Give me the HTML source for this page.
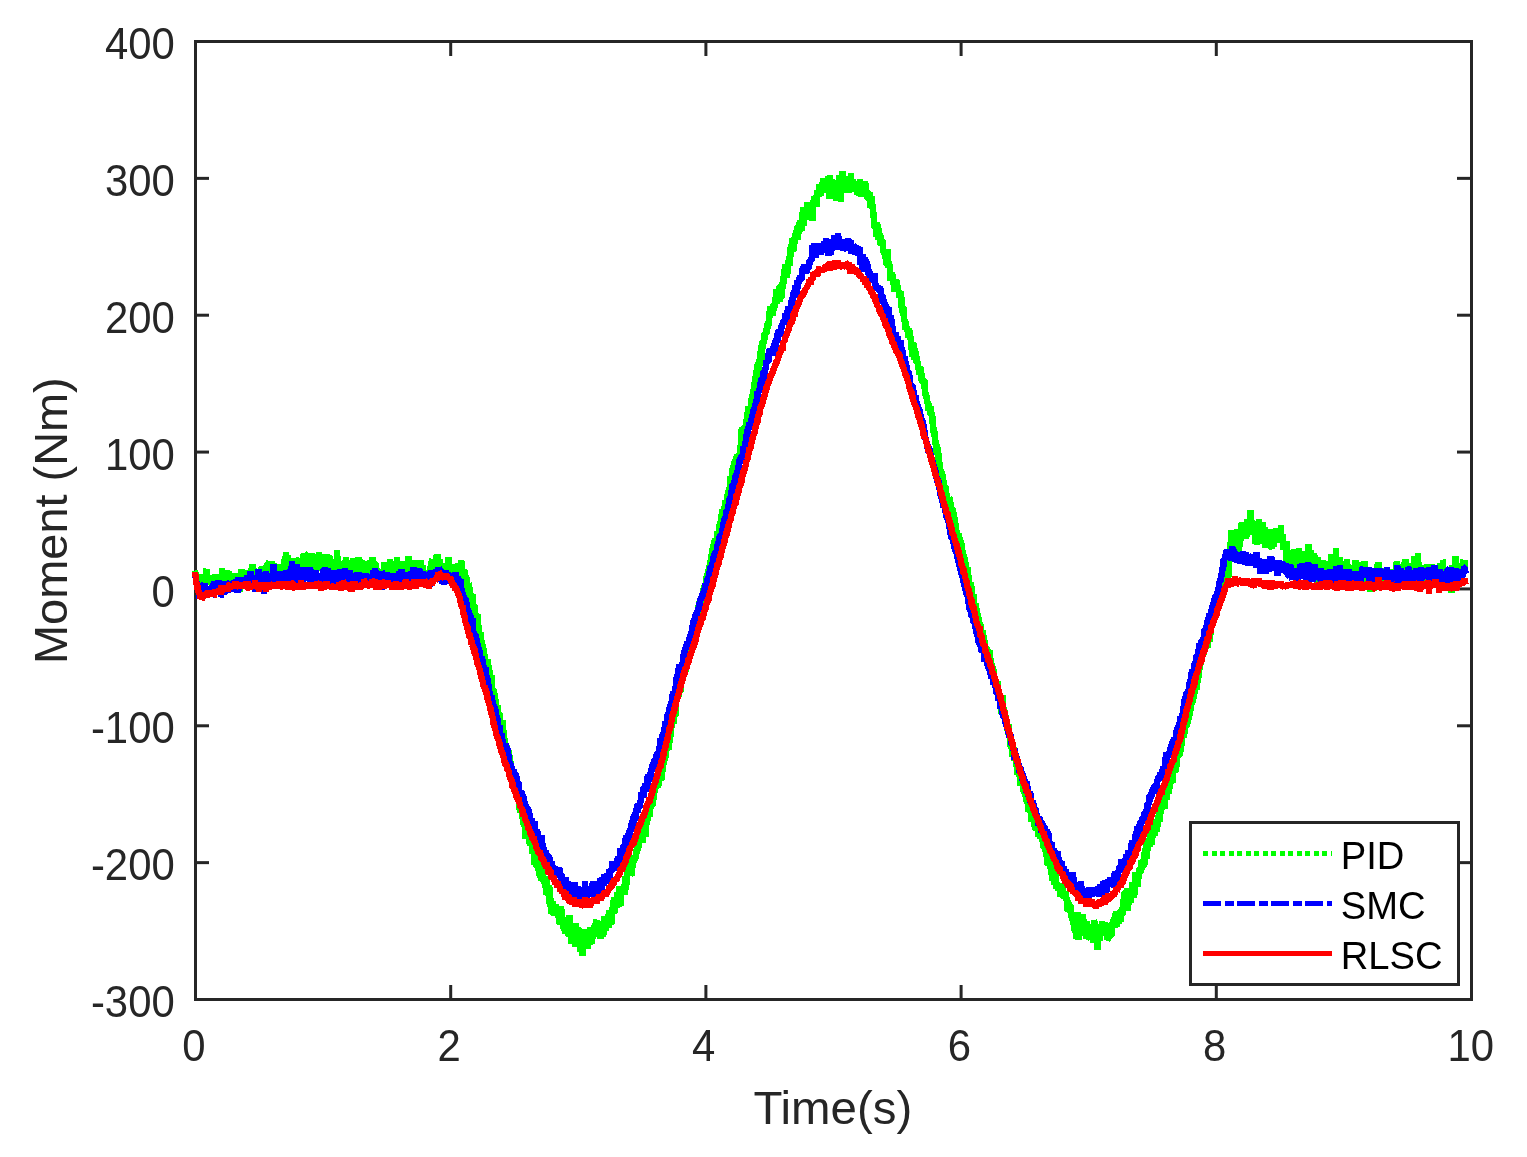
<!DOCTYPE html><html><head><meta charset="utf-8"><title>Moment tracking</title>
<style>html,body{margin:0;padding:0;background:#fff}svg{display:block}text{font-family:"Liberation Sans",Arial,Helvetica,sans-serif}</style></head><body>
<svg width="1527" height="1157" viewBox="0 0 1527 1157">
<rect width="1527" height="1157" fill="#fff"/>
<g fill="#262626" shape-rendering="crispEdges">
<rect x="194" y="40" width="1279" height="3"/><rect x="194" y="998" width="1279" height="3"/>
<rect x="194" y="40" width="3" height="961"/><rect x="1470" y="40" width="3" height="961"/>
</g><g fill="#262626">
<rect x="449.20" y="41" width="3" height="15"/><rect x="449.20" y="985" width="3" height="15"/>
<rect x="704.40" y="41" width="3" height="15"/><rect x="704.40" y="985" width="3" height="15"/>
<rect x="959.60" y="41" width="3" height="15"/><rect x="959.60" y="985" width="3" height="15"/>
<rect x="1214.80" y="41" width="3" height="15"/><rect x="1214.80" y="985" width="3" height="15"/>
<rect x="195" y="861.14" width="14" height="3"/><rect x="1457" y="861.14" width="15" height="3"/>
<rect x="195" y="724.29" width="14" height="3"/><rect x="1457" y="724.29" width="15" height="3"/>
<rect x="195" y="587.43" width="14" height="3"/><rect x="1457" y="587.43" width="15" height="3"/>
<rect x="195" y="450.57" width="14" height="3"/><rect x="1457" y="450.57" width="15" height="3"/>
<rect x="195" y="313.71" width="14" height="3"/><rect x="1457" y="313.71" width="15" height="3"/>
<rect x="195" y="176.86" width="14" height="3"/><rect x="1457" y="176.86" width="15" height="3"/>
</g>
<g fill="none" stroke-width="6.4" shape-rendering="crispEdges" stroke-linejoin="bevel" stroke-linecap="square">
<polyline stroke="#00ff00" points="195.5,573.7 195.8,575.8 196.0,576.3 196.3,577.3 196.5,580.1 196.8,578.6 197.0,581.3 197.3,584.3 197.5,582.4 197.8,582.8 198.0,586.5 198.3,583.3 198.5,584.4 198.8,582.9 199.1,583.4 199.3,581.9 199.6,581.8 199.8,586.9 200.1,581.0 200.3,579.4 200.6,578.4 200.8,576.2 201.1,578.5 201.3,575.0 201.6,576.1 201.8,580.0 202.1,580.4 202.4,574.1 202.6,576.2 202.9,584.0 203.1,582.0 203.4,575.3 203.6,578.4 203.9,584.3 204.1,577.5 204.4,575.8 204.6,577.1 204.9,579.4 205.2,579.4 205.4,580.4 205.7,580.0 205.9,577.1 206.2,569.9 206.4,569.6 206.7,578.2 206.9,582.2 207.2,577.7 207.4,578.4 207.7,578.5 207.9,583.0 208.2,578.3 208.5,580.5 208.7,578.8 209.0,584.2 209.2,579.7 209.5,583.7 209.7,582.7 210.0,582.2 210.2,582.1 210.5,582.3 210.7,582.5 211.0,582.6 211.2,582.8 211.5,582.3 211.8,581.5 212.0,574.8 212.3,577.7 212.5,582.1 212.8,584.2 213.0,576.4 213.3,579.6 213.5,578.3 213.8,575.6 214.0,584.8 214.3,580.8 214.5,578.2 214.8,574.4 215.1,578.8 215.3,578.4 215.6,578.8 215.8,578.9 216.1,578.3 216.3,580.5 216.6,580.9 216.8,579.8 217.1,576.8 217.3,575.4 217.6,578.6 217.8,579.8 218.1,575.4 218.4,577.3 218.6,576.8 218.9,579.5 219.1,580.1 219.4,577.2 219.6,578.8 219.9,574.1 220.1,580.0 220.4,576.0 220.6,576.7 220.9,579.7 221.2,577.4 221.4,579.2 221.7,577.1 221.9,577.0 222.2,568.2 222.4,579.6 222.7,574.4 222.9,577.8 223.2,575.2 223.4,577.2 223.7,578.5 223.9,571.8 224.2,572.7 224.5,581.2 224.7,576.4 225.0,577.3 225.2,581.2 225.5,575.7 225.7,574.7 226.0,576.3 226.2,575.1 226.5,571.2 226.7,578.0 227.0,572.9 227.2,569.9 227.5,585.1 227.8,576.7 228.0,571.9 228.3,575.0 228.5,577.8 228.8,571.7 229.0,573.4 229.3,581.0 229.5,573.7 229.8,577.2 230.0,576.6 230.3,581.3 230.5,576.3 230.8,577.7 231.1,581.3 231.3,579.5 231.6,574.2 231.8,573.9 232.1,583.6 232.3,577.4 232.6,579.9 232.8,580.5 233.1,578.3 233.3,574.5 233.6,577.7 233.9,582.7 234.1,579.8 234.4,578.7 234.6,576.6 234.9,580.5 235.1,579.8 235.4,579.5 235.6,578.2 235.9,586.2 236.1,575.7 236.4,578.9 236.6,579.8 236.9,583.1 237.2,578.7 237.4,572.9 237.7,580.8 237.9,584.0 238.2,577.3 238.4,578.5 238.7,578.8 238.9,583.2 239.2,576.9 239.4,576.1 239.7,591.8 239.9,577.8 240.2,575.9 240.5,581.0 240.7,584.6 241.0,577.2 241.2,570.3 241.5,575.8 241.7,569.6 242.0,575.4 242.2,576.8 242.5,578.0 242.7,570.6 243.0,579.2 243.2,576.9 243.5,576.3 243.8,574.2 244.0,575.0 244.3,580.1 244.5,579.2 244.8,570.1 245.0,575.8 245.3,576.5 245.5,578.1 245.8,576.4 246.0,580.3 246.3,574.6 246.5,575.9 246.8,579.0 247.1,576.4 247.3,580.4 247.6,581.3 247.8,576.4 248.1,579.6 248.3,581.7 248.6,573.2 248.8,578.3 249.1,575.4 249.3,571.1 249.6,579.7 249.9,575.4 250.1,570.4 250.4,574.0 250.6,573.9 250.9,572.1 251.1,572.0 251.4,571.6 251.6,568.7 251.9,569.6 252.1,563.7 252.4,569.1 252.6,564.5 252.9,570.3 253.2,565.1 253.4,572.3 253.7,568.2 253.9,572.7 254.2,568.0 254.4,577.1 254.7,576.2 254.9,572.9 255.2,577.9 255.4,569.1 255.7,575.3 255.9,572.8 256.2,571.0 256.5,572.4 256.7,577.6 257.0,580.2 257.2,581.9 257.5,579.7 257.7,579.3 258.0,579.7 258.2,574.8 258.5,581.5 258.7,582.4 259.0,575.6 259.2,569.2 259.5,579.3 259.8,575.9 260.0,575.0 260.3,570.2 260.5,570.8 260.8,575.9 261.0,570.6 261.3,573.8 261.5,570.6 261.8,566.3 262.0,582.1 262.3,578.7 262.5,578.4 262.8,577.8 263.1,572.4 263.3,572.3 263.6,565.8 263.8,567.2 264.1,571.8 264.3,573.7 264.6,570.6 264.8,571.6 265.1,575.3 265.3,570.5 265.6,575.0 265.9,572.9 266.1,572.7 266.4,574.1 266.6,573.9 266.9,570.4 267.1,570.7 267.4,575.6 267.6,563.2 267.9,563.1 268.1,563.8 268.4,565.8 268.6,571.5 268.9,575.8 269.2,576.6 269.4,580.1 269.7,574.1 269.9,579.7 270.2,571.2 270.4,570.1 270.7,573.2 270.9,573.0 271.2,570.6 271.4,567.0 271.7,570.3 271.9,560.8 272.2,572.0 272.5,571.0 272.7,570.7 273.0,569.8 273.2,568.1 273.5,566.9 273.7,571.2 274.0,562.9 274.2,578.9 274.5,569.6 274.7,570.7 275.0,577.2 275.2,577.4 275.5,570.3 275.8,565.3 276.0,568.4 276.3,570.6 276.5,571.5 276.8,572.0 277.0,571.4 277.3,566.3 277.5,564.1 277.8,566.4 278.0,572.1 278.3,566.3 278.5,564.2 278.8,577.3 279.1,567.3 279.3,571.6 279.6,568.8 279.8,575.7 280.1,575.2 280.3,570.8 280.6,573.0 280.8,572.6 281.1,574.6 281.3,568.6 281.6,566.0 281.9,575.6 282.1,569.3 282.4,572.3 282.6,568.5 282.9,564.1 283.1,568.1 283.4,569.8 283.6,573.7 283.9,562.7 284.1,559.3 284.4,576.1 284.6,563.5 284.9,566.5 285.2,571.2 285.4,555.7 285.7,560.8 285.9,552.5 286.2,566.2 286.4,564.1 286.7,568.7 286.9,560.7 287.2,569.4 287.4,562.7 287.7,555.5 287.9,558.8 288.2,556.6 288.5,560.9 288.7,558.1 289.0,562.9 289.2,569.5 289.5,561.3 289.7,564.8 290.0,569.0 290.2,571.3 290.5,559.8 290.7,574.9 291.0,571.1 291.2,564.9 291.5,563.9 291.8,565.3 292.0,573.6 292.3,559.5 292.5,564.9 292.8,571.3 293.0,558.2 293.3,564.1 293.5,572.9 293.8,577.1 294.0,564.0 294.3,566.6 294.6,562.2 294.8,563.3 295.1,568.7 295.3,562.8 295.6,564.1 295.8,571.0 296.1,562.0 296.3,565.6 296.6,568.1 296.8,565.6 297.1,571.9 297.3,571.9 297.6,568.0 297.9,572.4 298.1,559.6 298.4,566.4 298.6,564.1 298.9,558.7 299.1,560.7 299.4,557.7 299.6,573.3 299.9,560.7 300.1,571.8 300.4,570.9 300.6,568.6 300.9,568.7 301.2,568.4 301.4,565.9 301.7,558.9 301.9,577.4 302.2,572.9 302.4,571.7 302.7,562.9 302.9,563.6 303.2,561.9 303.4,554.1 303.7,564.0 303.9,571.5 304.2,561.8 304.5,554.6 304.7,553.7 305.0,564.1 305.2,562.8 305.5,561.6 305.7,560.0 306.0,563.7 306.2,565.0 306.5,554.6 306.7,554.6 307.0,562.5 307.2,565.5 307.5,565.5 307.8,568.1 308.0,568.2 308.3,562.9 308.5,564.8 308.8,559.4 309.0,563.3 309.3,565.5 309.5,562.5 309.8,573.4 310.0,558.7 310.3,562.1 310.6,554.1 310.8,564.3 311.1,563.5 311.3,568.1 311.6,553.2 311.8,562.7 312.1,558.1 312.3,566.6 312.6,562.2 312.8,570.6 313.1,569.1 313.3,567.2 313.6,570.0 313.9,561.1 314.1,560.0 314.4,558.2 314.6,568.9 314.9,566.8 315.1,563.6 315.4,559.3 315.6,568.5 315.9,562.9 316.1,555.9 316.4,560.5 316.6,561.2 316.9,565.8 317.2,561.4 317.4,556.2 317.7,554.6 317.9,568.9 318.2,558.7 318.4,562.9 318.7,566.0 318.9,551.7 319.2,558.5 319.4,568.1 319.7,568.2 319.9,562.0 320.2,570.7 320.5,564.0 320.7,560.2 321.0,569.5 321.2,561.9 321.5,560.5 321.7,566.0 322.0,560.6 322.2,559.3 322.5,560.6 322.7,566.1 323.0,558.0 323.2,564.0 323.5,560.9 323.8,561.2 324.0,561.2 324.3,570.9 324.5,554.4 324.8,556.3 325.0,557.5 325.3,554.4 325.5,559.5 325.8,558.2 326.0,555.3 326.3,569.7 326.6,562.6 326.8,562.4 327.1,561.4 327.3,563.6 327.6,565.7 327.8,561.4 328.1,559.1 328.3,561.0 328.6,557.9 328.8,560.5 329.1,555.8 329.3,555.6 329.6,566.8 329.9,568.6 330.1,567.2 330.4,565.6 330.6,560.0 330.9,561.4 331.1,563.6 331.4,568.9 331.6,568.2 331.9,567.5 332.1,565.5 332.4,582.9 332.6,567.0 332.9,566.5 333.2,573.6 333.4,562.9 333.7,566.3 333.9,566.6 334.2,578.3 334.4,565.7 334.7,568.6 334.9,568.0 335.2,580.4 335.4,576.1 335.7,569.2 335.9,573.8 336.2,559.4 336.5,571.4 336.7,561.3 337.0,563.0 337.2,550.3 337.5,564.7 337.7,557.3 338.0,567.4 338.2,571.4 338.5,564.5 338.7,560.9 339.0,571.3 339.2,563.7 339.5,566.9 339.8,570.3 340.0,569.6 340.3,570.1 340.5,574.0 340.8,569.9 341.0,568.0 341.3,573.3 341.5,582.6 341.8,565.4 342.0,571.8 342.3,565.0 342.6,572.2 342.8,565.6 343.1,568.8 343.3,569.3 343.6,568.0 343.8,566.0 344.1,576.8 344.3,560.7 344.6,561.6 344.8,564.9 345.1,574.8 345.3,561.7 345.6,565.8 345.9,557.1 346.1,567.9 346.4,566.4 346.6,560.5 346.9,577.2 347.1,568.5 347.4,567.8 347.6,579.5 347.9,573.0 348.1,567.6 348.4,567.7 348.6,561.2 348.9,565.2 349.2,577.3 349.4,566.6 349.7,569.1 349.9,570.6 350.2,576.9 350.4,561.0 350.7,561.2 350.9,568.4 351.2,573.9 351.4,575.6 351.7,575.5 351.9,564.9 352.2,578.6 352.5,563.8 352.7,571.2 353.0,568.7 353.2,566.6 353.5,558.4 353.7,567.4 354.0,572.2 354.2,568.9 354.5,569.8 354.7,569.9 355.0,569.4 355.3,574.7 355.5,567.7 355.8,576.7 356.0,563.8 356.3,571.8 356.5,576.0 356.8,566.9 357.0,567.0 357.3,570.3 357.5,578.4 357.8,577.0 358.0,566.7 358.3,556.8 358.6,566.4 358.8,565.3 359.1,563.2 359.3,570.4 359.6,559.5 359.8,568.0 360.1,564.4 360.3,569.0 360.6,571.5 360.8,569.9 361.1,571.5 361.3,569.7 361.6,560.2 361.9,567.3 362.1,572.4 362.4,568.1 362.6,573.8 362.9,565.3 363.1,567.4 363.4,573.4 363.6,571.5 363.9,570.5 364.1,575.8 364.4,576.4 364.6,571.0 364.9,574.6 365.2,570.1 365.4,565.6 365.7,571.4 365.9,567.4 366.2,561.6 366.4,573.5 366.7,564.3 366.9,576.3 367.2,578.1 367.4,571.3 367.7,572.8 367.9,579.2 368.2,564.5 368.5,566.5 368.7,575.6 369.0,571.2 369.2,569.8 369.5,575.6 369.7,567.0 370.0,575.5 370.2,577.3 370.5,560.5 370.7,571.0 371.0,571.4 371.3,568.7 371.5,571.5 371.8,556.8 372.0,565.7 372.3,563.7 372.5,563.5 372.8,557.0 373.0,580.0 373.3,564.5 373.5,567.6 373.8,567.7 374.0,561.6 374.3,564.3 374.6,576.4 374.8,566.0 375.1,568.3 375.3,562.1 375.6,579.5 375.8,565.9 376.1,569.5 376.3,567.8 376.6,570.3 376.8,584.3 377.1,571.1 377.3,576.3 377.6,581.5 377.9,573.4 378.1,579.2 378.4,570.6 378.6,573.8 378.9,585.5 379.1,575.3 379.4,578.9 379.6,578.1 379.9,577.6 380.1,570.3 380.4,578.6 380.6,571.3 380.9,581.4 381.2,571.5 381.4,579.7 381.7,580.2 381.9,574.5 382.2,580.9 382.4,570.0 382.7,582.0 382.9,568.6 383.2,572.7 383.4,576.2 383.7,572.8 383.9,574.5 384.2,562.5 384.5,571.1 384.7,576.2 385.0,570.5 385.2,574.1 385.5,572.4 385.7,575.2 386.0,575.0 386.2,567.9 386.5,572.5 386.7,568.3 387.0,574.0 387.3,572.7 387.5,574.8 387.8,565.3 388.0,563.4 388.3,572.6 388.5,567.6 388.8,580.0 389.0,579.6 389.3,569.4 389.5,582.8 389.8,559.3 390.0,568.4 390.3,565.0 390.6,574.3 390.8,580.4 391.1,577.5 391.3,577.1 391.6,567.6 391.8,577.1 392.1,575.7 392.3,563.5 392.6,578.9 392.8,576.1 393.1,566.3 393.3,561.1 393.6,583.5 393.9,588.1 394.1,579.3 394.4,574.6 394.6,575.8 394.9,578.0 395.1,580.7 395.4,568.7 395.6,575.0 395.9,575.0 396.1,570.8 396.4,563.0 396.6,569.9 396.9,557.5 397.2,573.3 397.4,568.9 397.7,584.2 397.9,576.8 398.2,574.2 398.4,578.3 398.7,579.1 398.9,577.8 399.2,579.7 399.4,576.9 399.7,573.3 399.9,571.5 400.2,578.8 400.5,573.9 400.7,576.5 401.0,566.9 401.2,562.6 401.5,570.9 401.7,569.7 402.0,573.5 402.2,569.5 402.5,573.2 402.7,579.0 403.0,565.6 403.3,560.7 403.5,569.6 403.8,572.8 404.0,570.0 404.3,563.5 404.5,574.8 404.8,568.4 405.0,571.5 405.3,584.0 405.5,574.3 405.8,568.9 406.0,569.7 406.3,571.9 406.6,577.7 406.8,569.9 407.1,570.3 407.3,568.3 407.6,561.5 407.8,570.7 408.1,565.1 408.3,568.4 408.6,556.2 408.8,568.5 409.1,557.4 409.3,576.7 409.6,578.0 409.9,568.8 410.1,572.0 410.4,564.3 410.6,566.7 410.9,566.7 411.1,575.7 411.4,571.7 411.6,566.9 411.9,574.6 412.1,571.5 412.4,565.2 412.6,572.4 412.9,571.1 413.2,566.3 413.4,570.5 413.7,580.5 413.9,572.1 414.2,572.4 414.4,570.6 414.7,560.1 414.9,566.0 415.2,570.9 415.4,575.1 415.7,566.5 416.0,569.7 416.2,563.8 416.5,569.1 416.7,565.6 417.0,575.6 417.2,572.3 417.5,571.2 417.7,575.8 418.0,569.1 418.2,573.4 418.5,573.4 418.7,574.9 419.0,571.3 419.3,579.0 419.5,564.7 419.8,567.0 420.0,565.6 420.3,561.7 420.5,566.7 420.8,569.4 421.0,560.5 421.3,569.3 421.5,566.5 421.8,579.3 422.0,571.0 422.3,568.2 422.6,565.2 422.8,566.5 423.1,564.8 423.3,573.7 423.6,574.5 423.8,571.4 424.1,577.5 424.3,576.0 424.6,574.2 424.8,586.1 425.1,584.4 425.3,574.2 425.6,580.5 425.9,573.1 426.1,579.8 426.4,582.7 426.6,573.9 426.9,578.4 427.1,575.0 427.4,580.1 427.6,580.7 427.9,577.8 428.1,579.9 428.4,576.2 428.6,580.0 428.9,572.7 429.2,570.1 429.4,571.0 429.7,578.9 429.9,565.7 430.2,579.2 430.4,568.9 430.7,568.7 430.9,564.9 431.2,571.0 431.4,569.5 431.7,560.7 432.0,560.4 432.2,570.3 432.5,566.8 432.7,569.1 433.0,577.4 433.2,559.3 433.5,567.7 433.7,564.4 434.0,563.7 434.2,571.3 434.5,560.9 434.7,568.2 435.0,571.6 435.3,563.0 435.5,563.7 435.8,567.0 436.0,564.4 436.3,555.6 436.5,559.5 436.8,562.4 437.0,564.1 437.3,553.6 437.5,564.8 437.8,572.2 438.0,556.8 438.3,565.5 438.6,573.9 438.8,570.7 439.1,571.6 439.3,576.4 439.6,570.0 439.8,569.7 440.1,559.2 440.3,568.9 440.6,572.5 440.8,571.2 441.1,570.3 441.3,566.8 441.6,565.5 441.9,583.1 442.1,580.9 442.4,573.8 442.6,563.4 442.9,575.8 443.1,567.2 443.4,576.0 443.6,575.7 443.9,574.0 444.1,565.5 444.4,575.5 444.6,572.7 444.9,571.2 445.2,568.3 445.4,573.0 445.7,568.8 445.9,564.6 446.2,569.4 446.4,574.9 446.7,572.9 446.9,570.4 447.2,572.3 447.4,575.8 447.7,574.6 448.0,572.6 448.2,578.7 448.5,557.1 448.7,565.9 449.0,572.1 449.2,573.1 449.5,564.9 449.7,576.3 450.0,575.0 450.2,566.6 450.5,571.1 450.7,567.6 451.0,570.5 451.3,571.1 451.5,573.7 451.8,569.4 452.0,570.6 452.3,570.7 452.5,573.4 452.8,567.3 453.0,571.6 453.3,569.8 453.5,576.1 453.8,577.5 454.0,568.3 454.3,573.2 454.6,573.4 454.8,568.5 455.1,564.4 455.3,569.8 455.6,569.8 455.8,566.9 456.1,566.6 456.3,568.8 456.6,575.7 456.8,567.2 457.1,572.6 457.3,563.7 457.6,572.8 457.9,570.1 458.1,571.0 458.4,570.4 458.6,563.4 458.9,571.6 459.1,567.6 459.4,570.6 459.6,571.6 459.9,568.2 460.1,569.5 460.4,571.0 460.6,573.3 460.9,569.2 461.2,560.4 461.4,571.1 461.7,569.0 461.9,572.8 462.2,561.0 462.4,575.7 462.7,573.6 462.9,578.0 463.2,570.8 463.4,572.8 463.7,572.3 464.0,574.0 464.2,569.7 464.5,570.7 464.7,572.0 465.0,584.7 465.2,580.0 465.5,577.5 465.7,575.7 466.0,587.9 466.2,575.4 466.5,580.1 466.7,577.0 467.0,586.6 467.3,586.0 467.5,587.4 467.8,586.7 468.0,587.9 468.3,591.8 468.5,582.8 468.8,585.9 469.0,591.0 469.3,595.9 469.5,586.6 469.8,598.6 470.0,596.2 470.3,597.8 470.6,597.2 470.8,594.3 471.1,594.0 471.3,596.6 471.6,602.4 471.8,595.3 472.1,596.6 472.3,598.9 472.6,594.4 472.8,606.5 473.1,606.3 473.3,607.3 473.6,607.6 473.9,604.4 474.1,606.6 474.4,609.5 474.6,605.0 474.9,609.8 475.1,612.3 475.4,613.3 475.6,616.6 475.9,614.1 476.1,617.4 476.4,616.1 476.7,615.6 476.9,616.4 477.2,620.7 477.4,614.1 477.7,625.9 477.9,621.2 478.2,624.8 478.4,625.4 478.7,629.9 478.9,631.6 479.2,628.4 479.4,637.9 479.7,633.1 480.0,639.7 480.2,641.9 480.5,636.2 480.7,639.5 481.0,631.9 481.2,645.6 481.5,640.1 481.7,641.2 482.0,642.0 482.2,645.4 482.5,650.8 482.7,644.4 483.0,646.0 483.3,648.7 483.5,650.6 483.8,648.8 484.0,651.0 484.3,653.3 484.5,659.2 484.8,654.5 485.0,661.8 485.3,658.2 485.5,663.9 485.8,662.0 486.0,659.5 486.3,664.3 486.6,660.9 486.8,666.9 487.1,660.5 487.3,667.9 487.6,659.3 487.8,666.9 488.1,670.3 488.3,674.6 488.6,672.8 488.8,665.2 489.1,677.1 489.3,678.9 489.6,673.1 489.9,670.6 490.1,677.4 490.4,680.2 490.6,679.2 490.9,680.4 491.1,676.9 491.4,675.2 491.6,683.8 491.9,687.4 492.1,689.8 492.4,693.0 492.7,688.3 492.9,694.6 493.2,687.7 493.4,692.6 493.7,695.6 493.9,689.2 494.2,701.6 494.4,693.4 494.7,697.7 494.9,698.3 495.2,700.5 495.4,705.9 495.7,700.7 496.0,699.5 496.2,712.2 496.5,705.4 496.7,707.2 497.0,708.5 497.2,706.4 497.5,709.0 497.7,710.4 498.0,705.0 498.2,713.8 498.5,712.7 498.7,714.1 499.0,717.2 499.3,718.0 499.5,712.7 499.8,723.4 500.0,712.8 500.3,730.2 500.5,735.2 500.8,730.1 501.0,733.4 501.3,724.4 501.5,727.8 501.8,733.9 502.0,730.8 502.3,731.3 502.6,720.3 502.8,730.4 503.1,730.6 503.3,730.6 503.6,733.1 503.8,735.4 504.1,740.3 504.3,738.3 504.6,739.5 504.8,747.3 505.1,743.3 505.3,749.9 505.6,752.7 505.9,747.3 506.1,745.9 506.4,745.4 506.6,752.0 506.9,756.2 507.1,754.6 507.4,752.7 507.6,752.7 507.9,751.1 508.1,754.4 508.4,750.3 508.7,758.0 508.9,754.0 509.2,754.2 509.4,755.9 509.7,756.3 509.9,763.8 510.2,756.9 510.4,763.7 510.7,763.7 510.9,768.6 511.2,764.4 511.4,769.5 511.7,772.0 512.0,768.3 512.2,775.7 512.5,772.5 512.7,774.6 513.0,774.4 513.2,777.4 513.5,783.3 513.7,778.4 514.0,778.0 514.2,772.2 514.5,772.6 514.7,777.2 515.0,777.6 515.3,793.1 515.5,785.4 515.8,788.6 516.0,782.4 516.3,783.9 516.5,785.4 516.8,786.9 517.0,789.5 517.3,793.1 517.5,796.4 517.8,792.3 518.0,796.7 518.3,793.8 518.6,801.4 518.8,801.7 519.1,804.6 519.3,799.3 519.6,806.2 519.8,813.1 520.1,807.1 520.3,807.5 520.6,805.6 520.8,808.1 521.1,802.5 521.3,807.8 521.6,806.6 521.9,806.0 522.1,808.9 522.4,811.1 522.6,819.0 522.9,816.7 523.1,820.4 523.4,817.9 523.6,824.9 523.9,821.0 524.1,827.2 524.4,823.2 524.7,822.3 524.9,823.4 525.2,831.3 525.4,824.6 525.7,838.5 525.9,831.1 526.2,838.3 526.4,832.3 526.7,837.9 526.9,833.3 527.2,836.9 527.4,828.7 527.7,825.2 528.0,831.1 528.2,830.9 528.5,833.8 528.7,837.2 529.0,838.7 529.2,843.4 529.5,842.5 529.7,835.9 530.0,841.8 530.2,838.9 530.5,845.6 530.7,832.5 531.0,837.9 531.3,845.4 531.5,838.2 531.8,845.7 532.0,844.3 532.3,851.1 532.5,853.6 532.8,846.4 533.0,850.0 533.3,850.3 533.5,850.1 533.8,854.6 534.0,857.5 534.3,854.2 534.6,864.5 534.8,856.9 535.1,853.4 535.3,860.6 535.6,852.5 535.8,863.3 536.1,867.1 536.3,860.4 536.6,864.5 536.8,861.5 537.1,867.6 537.4,863.1 537.6,865.3 537.9,865.0 538.1,862.2 538.4,870.6 538.6,868.9 538.9,864.0 539.1,864.2 539.4,867.1 539.6,875.9 539.9,870.0 540.1,872.9 540.4,872.5 540.7,878.1 540.9,880.3 541.2,865.8 541.4,866.6 541.7,877.0 541.9,872.3 542.2,871.1 542.4,874.9 542.7,870.9 542.9,876.2 543.2,882.0 543.4,879.1 543.7,876.9 544.0,884.0 544.2,877.1 544.5,876.6 544.7,879.5 545.0,880.2 545.2,883.7 545.5,881.4 545.7,887.7 546.0,895.3 546.2,887.9 546.5,879.1 546.7,882.2 547.0,892.8 547.3,889.4 547.5,892.5 547.8,895.4 548.0,891.9 548.3,887.7 548.5,892.4 548.8,894.7 549.0,904.3 549.3,885.0 549.5,901.5 549.8,897.5 550.0,895.4 550.3,899.7 550.6,898.1 550.8,913.8 551.1,908.0 551.3,908.2 551.6,911.9 551.8,913.4 552.1,902.4 552.3,912.8 552.6,901.8 552.8,903.1 553.1,909.4 553.4,915.1 553.6,912.1 553.9,913.5 554.1,914.2 554.4,915.6 554.6,912.3 554.9,914.3 555.1,913.2 555.4,913.2 555.6,907.5 555.9,903.7 556.1,913.1 556.4,913.4 556.7,913.7 556.9,908.6 557.2,910.2 557.4,913.4 557.7,915.4 557.9,912.7 558.2,910.5 558.4,917.6 558.7,913.5 558.9,924.3 559.2,918.9 559.4,913.1 559.7,923.0 560.0,922.8 560.2,914.2 560.5,924.7 560.7,917.0 561.0,906.2 561.2,915.3 561.5,909.3 561.7,911.3 562.0,923.5 562.2,921.7 562.5,919.8 562.7,917.3 563.0,917.0 563.3,921.2 563.5,923.9 563.8,931.1 564.0,921.1 564.3,929.1 564.5,921.6 564.8,920.1 565.0,933.8 565.3,916.6 565.5,927.2 565.8,921.0 566.0,922.1 566.3,918.2 566.6,922.1 566.8,920.5 567.1,924.8 567.3,933.2 567.6,930.6 567.8,926.5 568.1,925.6 568.3,929.9 568.6,934.3 568.8,936.7 569.1,929.9 569.4,915.2 569.6,931.5 569.9,934.1 570.1,928.7 570.4,928.9 570.6,932.4 570.9,943.5 571.1,937.0 571.4,937.4 571.6,931.1 571.9,937.9 572.1,936.3 572.4,941.0 572.7,938.5 572.9,924.1 573.2,931.8 573.4,934.7 573.7,941.6 573.9,943.6 574.2,931.8 574.4,936.9 574.7,932.9 574.9,933.9 575.2,934.3 575.4,947.2 575.7,928.4 576.0,922.7 576.2,931.0 576.5,931.9 576.7,929.6 577.0,932.1 577.2,940.8 577.5,933.4 577.7,931.8 578.0,927.0 578.2,938.8 578.5,936.9 578.7,936.2 579.0,934.9 579.3,928.3 579.5,936.4 579.8,937.2 580.0,947.9 580.3,933.7 580.5,951.7 580.8,935.8 581.0,937.9 581.3,942.0 581.5,948.0 581.8,938.9 582.0,943.7 582.3,933.6 582.6,955.7 582.8,938.7 583.1,952.4 583.3,936.9 583.6,938.0 583.8,930.8 584.1,940.3 584.3,938.8 584.6,944.2 584.8,934.1 585.1,930.4 585.4,932.8 585.6,936.8 585.9,933.1 586.1,929.4 586.4,931.3 586.6,943.8 586.9,936.2 587.1,938.7 587.4,949.3 587.6,931.8 587.9,933.2 588.1,940.3 588.4,932.0 588.7,933.6 588.9,937.2 589.2,933.1 589.4,936.3 589.7,939.3 589.9,931.0 590.2,945.0 590.4,927.0 590.7,936.2 590.9,940.0 591.2,935.7 591.4,943.4 591.7,941.3 592.0,928.7 592.2,935.8 592.5,938.0 592.7,937.1 593.0,930.9 593.2,930.2 593.5,935.9 593.7,927.3 594.0,932.2 594.2,930.7 594.5,925.2 594.7,932.7 595.0,936.7 595.3,928.9 595.5,923.0 595.8,928.5 596.0,921.9 596.3,919.7 596.5,927.8 596.8,926.3 597.0,927.6 597.3,923.5 597.5,924.6 597.8,926.5 598.1,920.8 598.3,926.8 598.6,928.3 598.8,934.7 599.1,931.3 599.3,925.5 599.6,929.2 599.8,932.6 600.1,934.0 600.3,938.4 600.6,937.4 600.8,927.8 601.1,932.2 601.4,931.2 601.6,924.7 601.9,932.8 602.1,932.7 602.4,922.4 602.6,925.9 602.9,936.8 603.1,928.3 603.4,932.0 603.6,930.3 603.9,928.5 604.1,935.0 604.4,929.6 604.7,916.4 604.9,926.3 605.2,927.3 605.4,919.6 605.7,930.8 605.9,924.5 606.2,916.2 606.4,921.9 606.7,919.9 606.9,922.1 607.2,918.7 607.4,916.2 607.7,920.0 608.0,918.1 608.2,917.4 608.5,928.1 608.7,914.5 609.0,910.3 609.2,915.4 609.5,918.8 609.7,922.3 610.0,919.4 610.2,912.2 610.5,914.9 610.7,925.1 611.0,913.7 611.3,923.5 611.5,922.2 611.8,918.3 612.0,913.0 612.3,915.2 612.5,907.1 612.8,908.2 613.0,900.4 613.3,913.1 613.5,904.9 613.8,901.6 614.1,896.9 614.3,913.8 614.6,905.1 614.8,913.4 615.1,902.7 615.3,907.8 615.6,903.9 615.8,900.8 616.1,901.7 616.3,907.1 616.6,903.5 616.8,891.7 617.1,908.0 617.4,902.4 617.6,906.2 617.9,899.3 618.1,905.9 618.4,898.5 618.6,906.8 618.9,897.4 619.1,885.7 619.4,901.5 619.6,898.0 619.9,890.9 620.1,900.0 620.4,905.5 620.7,902.3 620.9,893.7 621.2,889.4 621.4,894.1 621.7,894.1 621.9,889.4 622.2,894.5 622.4,887.6 622.7,886.4 622.9,893.8 623.2,885.7 623.4,887.8 623.7,890.9 624.0,889.7 624.2,884.1 624.5,893.9 624.7,894.4 625.0,881.1 625.2,876.2 625.5,882.7 625.7,878.6 626.0,889.3 626.2,886.9 626.5,882.1 626.7,879.4 627.0,875.0 627.3,876.3 627.5,873.0 627.8,872.4 628.0,867.7 628.3,864.5 628.5,864.6 628.8,861.5 629.0,868.0 629.3,869.2 629.5,875.6 629.8,874.6 630.1,863.1 630.3,864.3 630.6,865.9 630.8,867.4 631.1,871.0 631.3,874.7 631.6,867.2 631.8,865.4 632.1,875.5 632.3,858.4 632.6,867.5 632.8,862.3 633.1,858.0 633.4,855.9 633.6,863.0 633.9,856.9 634.1,856.5 634.4,859.3 634.6,857.2 634.9,861.1 635.1,855.0 635.4,858.4 635.6,855.7 635.9,853.8 636.1,849.4 636.4,853.2 636.7,852.1 636.9,851.5 637.2,836.5 637.4,849.3 637.7,844.1 637.9,851.2 638.2,843.3 638.4,848.0 638.7,844.8 638.9,839.2 639.2,834.5 639.4,840.7 639.7,838.2 640.0,839.3 640.2,841.6 640.5,839.2 640.7,835.1 641.0,838.0 641.2,839.9 641.5,839.4 641.7,834.9 642.0,838.2 642.2,833.0 642.5,843.1 642.7,833.7 643.0,840.2 643.3,836.6 643.5,826.5 643.8,830.1 644.0,835.8 644.3,834.3 644.5,827.9 644.8,826.6 645.0,829.5 645.3,825.0 645.5,828.6 645.8,837.1 646.1,819.6 646.3,825.1 646.6,819.6 646.8,821.7 647.1,820.5 647.3,821.2 647.6,812.4 647.8,810.4 648.1,807.0 648.3,807.9 648.6,807.9 648.8,810.9 649.1,807.5 649.4,805.1 649.6,816.5 649.9,810.6 650.1,806.5 650.4,802.3 650.6,800.0 650.9,799.0 651.1,808.9 651.4,805.0 651.6,806.6 651.9,806.8 652.1,804.3 652.4,801.7 652.7,797.9 652.9,805.7 653.2,798.3 653.4,799.8 653.7,788.2 653.9,785.4 654.2,792.9 654.4,793.0 654.7,786.3 654.9,783.7 655.2,790.3 655.4,787.3 655.7,784.0 656.0,788.9 656.2,778.5 656.5,784.1 656.7,783.6 657.0,787.7 657.2,777.8 657.5,787.5 657.7,784.6 658.0,783.5 658.2,781.2 658.5,785.9 658.8,782.4 659.0,776.5 659.3,778.5 659.5,777.3 659.8,773.4 660.0,775.2 660.3,772.8 660.5,776.3 660.8,779.1 661.0,768.3 661.3,780.5 661.5,778.0 661.8,775.9 662.1,761.1 662.3,768.7 662.6,763.4 662.8,772.0 663.1,768.8 663.3,762.4 663.6,764.7 663.8,761.8 664.1,759.1 664.3,760.4 664.6,759.6 664.8,758.2 665.1,758.7 665.4,755.6 665.6,751.8 665.9,757.5 666.1,751.6 666.4,747.9 666.6,750.7 666.9,748.9 667.1,740.6 667.4,742.3 667.6,737.0 667.9,737.5 668.1,744.6 668.4,744.7 668.7,741.9 668.9,736.2 669.2,750.4 669.4,736.8 669.7,731.5 669.9,734.3 670.2,732.2 670.4,733.2 670.7,737.2 670.9,726.6 671.2,730.0 671.4,726.5 671.7,727.0 672.0,718.7 672.2,722.6 672.5,721.5 672.7,721.9 673.0,723.3 673.2,718.0 673.5,714.7 673.7,717.6 674.0,724.0 674.2,717.7 674.5,706.9 674.8,714.6 675.0,710.7 675.3,716.8 675.5,710.4 675.8,709.6 676.0,701.9 676.3,700.5 676.5,699.2 676.8,696.4 677.0,700.5 677.3,691.8 677.5,697.7 677.8,692.7 678.1,688.0 678.3,696.5 678.6,692.9 678.8,694.2 679.1,692.6 679.3,691.0 679.6,691.4 679.8,690.1 680.1,686.5 680.3,692.3 680.6,688.9 680.8,686.6 681.1,688.0 681.4,680.3 681.6,681.7 681.9,682.0 682.1,682.4 682.4,679.4 682.6,673.5 682.9,678.3 683.1,669.9 683.4,670.1 683.6,670.6 683.9,677.1 684.1,673.3 684.4,666.3 684.7,670.5 684.9,671.2 685.2,670.3 685.4,665.7 685.7,672.3 685.9,661.7 686.2,663.2 686.4,666.1 686.7,659.2 686.9,669.0 687.2,662.7 687.4,656.0 687.7,650.7 688.0,658.5 688.2,658.0 688.5,652.2 688.7,650.7 689.0,652.6 689.2,652.0 689.5,643.5 689.7,651.1 690.0,652.9 690.2,648.3 690.5,641.8 690.8,643.1 691.0,644.8 691.3,647.9 691.5,643.0 691.8,632.0 692.0,638.4 692.3,635.7 692.5,643.1 692.8,637.8 693.0,637.1 693.3,628.4 693.5,633.8 693.8,632.0 694.1,632.1 694.3,638.6 694.6,624.3 694.8,633.3 695.1,627.8 695.3,629.9 695.6,625.6 695.8,624.0 696.1,623.0 696.3,615.3 696.6,622.7 696.8,618.5 697.1,614.4 697.4,616.0 697.6,614.9 697.9,605.6 698.1,608.0 698.4,611.8 698.6,606.9 698.9,609.6 699.1,604.3 699.4,609.5 699.6,601.4 699.9,602.1 700.1,601.6 700.4,602.1 700.7,600.7 700.9,603.6 701.2,599.8 701.4,597.4 701.7,596.8 701.9,600.1 702.2,594.6 702.4,599.1 702.7,596.5 702.9,595.7 703.2,594.1 703.4,591.7 703.7,588.5 704.0,586.5 704.2,587.8 704.5,590.7 704.7,585.2 705.0,583.6 705.2,588.1 705.5,588.5 705.7,584.1 706.0,576.3 706.2,581.9 706.5,580.2 706.8,576.3 707.0,580.9 707.3,579.5 707.5,575.4 707.8,571.6 708.0,574.2 708.3,574.4 708.5,576.8 708.8,566.2 709.0,573.8 709.3,565.1 709.5,569.9 709.8,563.2 710.1,560.6 710.3,567.0 710.6,561.3 710.8,559.5 711.1,556.4 711.3,559.7 711.6,553.8 711.8,556.0 712.1,558.2 712.3,550.9 712.6,548.9 712.8,551.6 713.1,551.0 713.4,547.4 713.6,543.9 713.9,551.8 714.1,544.2 714.4,540.4 714.6,548.4 714.9,543.2 715.1,543.9 715.4,542.0 715.6,538.4 715.9,546.0 716.1,541.6 716.4,543.3 716.7,539.1 716.9,531.5 717.2,539.5 717.4,536.8 717.7,536.5 717.9,532.7 718.2,534.1 718.4,534.7 718.7,534.0 718.9,531.2 719.2,533.5 719.5,536.2 719.7,524.3 720.0,526.5 720.2,527.5 720.5,524.8 720.7,520.9 721.0,524.6 721.2,520.5 721.5,520.9 721.7,514.1 722.0,524.1 722.2,519.6 722.5,509.5 722.8,516.5 723.0,514.2 723.3,514.6 723.5,517.1 723.8,509.2 724.0,506.1 724.3,506.5 724.5,510.9 724.8,507.9 725.0,500.4 725.3,505.8 725.5,507.7 725.8,501.2 726.1,504.2 726.3,508.5 726.6,504.3 726.8,497.5 727.1,499.8 727.3,498.4 727.6,494.6 727.8,497.5 728.1,498.1 728.3,491.7 728.6,492.1 728.8,488.3 729.1,489.3 729.4,488.2 729.6,489.2 729.9,482.5 730.1,476.1 730.4,485.8 730.6,477.3 730.9,478.3 731.1,482.1 731.4,482.8 731.6,476.9 731.9,478.8 732.1,477.5 732.4,477.4 732.7,468.6 732.9,479.1 733.2,471.0 733.4,464.7 733.7,469.1 733.9,461.1 734.2,467.1 734.4,465.5 734.7,462.3 734.9,466.1 735.2,462.2 735.5,459.7 735.7,463.2 736.0,458.9 736.2,456.2 736.5,463.7 736.7,459.8 737.0,457.9 737.2,461.5 737.5,455.5 737.7,454.8 738.0,460.5 738.2,457.4 738.5,459.8 738.8,457.5 739.0,454.6 739.3,455.8 739.5,453.3 739.8,453.9 740.0,446.7 740.3,445.8 740.5,449.3 740.8,442.8 741.0,433.4 741.3,442.4 741.5,433.8 741.8,427.4 742.1,436.4 742.3,431.6 742.6,441.1 742.8,427.6 743.1,429.7 743.3,428.8 743.6,430.9 743.8,427.5 744.1,426.6 744.3,427.3 744.6,429.6 744.8,428.2 745.1,426.4 745.4,426.0 745.6,426.8 745.9,427.0 746.1,421.1 746.4,422.8 746.6,419.5 746.9,421.7 747.1,421.3 747.4,417.2 747.6,415.8 747.9,406.5 748.1,414.2 748.4,409.6 748.7,411.5 748.9,411.8 749.2,413.7 749.4,409.8 749.7,409.2 749.9,415.1 750.2,406.5 750.4,408.5 750.7,412.4 750.9,408.0 751.2,400.9 751.5,398.3 751.7,400.4 752.0,393.9 752.2,394.2 752.5,401.8 752.7,399.0 753.0,392.6 753.2,396.1 753.5,393.9 753.7,389.3 754.0,390.6 754.2,391.1 754.5,392.5 754.8,378.3 755.0,389.5 755.3,384.0 755.5,376.3 755.8,379.2 756.0,380.9 756.3,380.4 756.5,370.1 756.8,370.2 757.0,379.2 757.3,375.6 757.5,367.0 757.8,362.7 758.1,370.5 758.3,363.6 758.6,372.2 758.8,371.3 759.1,368.6 759.3,360.7 759.6,360.8 759.8,357.6 760.1,365.9 760.3,351.0 760.6,357.7 760.8,344.6 761.1,353.1 761.4,360.0 761.6,351.7 761.9,353.6 762.1,342.7 762.4,346.8 762.6,341.6 762.9,348.6 763.1,347.1 763.4,342.1 763.6,340.9 763.9,343.8 764.1,336.6 764.4,332.9 764.7,338.5 764.9,338.1 765.2,337.4 765.4,332.4 765.7,334.3 765.9,331.3 766.2,328.0 766.4,333.3 766.7,332.7 766.9,332.1 767.2,323.4 767.5,328.9 767.7,326.7 768.0,326.8 768.2,320.9 768.5,321.5 768.7,326.2 769.0,315.7 769.2,316.5 769.5,311.6 769.7,313.2 770.0,314.4 770.2,317.5 770.5,308.2 770.8,305.9 771.0,314.2 771.3,310.6 771.5,307.8 771.8,309.8 772.0,307.5 772.3,310.6 772.5,311.7 772.8,303.7 773.0,315.8 773.3,305.5 773.5,310.9 773.8,306.4 774.1,309.0 774.3,304.5 774.6,306.5 774.8,301.4 775.1,307.3 775.3,304.6 775.6,299.9 775.8,296.0 776.1,301.6 776.3,289.1 776.6,298.3 776.8,293.1 777.1,304.2 777.4,300.4 777.6,300.1 777.9,300.4 778.1,301.3 778.4,295.6 778.6,297.0 778.9,286.1 779.1,293.4 779.4,291.9 779.6,302.1 779.9,286.7 780.1,286.6 780.4,298.1 780.7,298.1 780.9,296.7 781.2,286.6 781.4,297.8 781.7,295.1 781.9,296.0 782.2,286.2 782.4,282.1 782.7,288.5 782.9,277.8 783.2,280.6 783.5,283.5 783.7,276.0 784.0,271.8 784.2,270.9 784.5,273.2 784.7,269.0 785.0,274.1 785.2,271.9 785.5,264.4 785.7,272.0 786.0,274.4 786.2,275.9 786.5,272.2 786.8,277.6 787.0,273.4 787.3,273.8 787.5,268.8 787.8,273.6 788.0,267.5 788.3,266.2 788.5,261.8 788.8,259.2 789.0,255.8 789.3,262.7 789.5,266.2 789.8,255.0 790.1,255.4 790.3,257.6 790.6,250.4 790.8,243.7 791.1,249.3 791.3,251.9 791.6,247.8 791.8,251.6 792.1,237.7 792.3,252.0 792.6,250.4 792.8,240.6 793.1,245.9 793.4,250.4 793.6,240.4 793.9,239.1 794.1,251.3 794.4,240.7 794.6,238.6 794.9,233.5 795.1,239.0 795.4,237.0 795.6,239.2 795.9,235.8 796.2,230.2 796.4,234.1 796.7,239.6 796.9,236.0 797.2,225.6 797.4,239.5 797.7,235.4 797.9,234.9 798.2,224.7 798.4,233.8 798.7,231.0 798.9,228.2 799.2,224.4 799.5,223.5 799.7,231.5 800.0,231.2 800.2,232.3 800.5,219.7 800.7,225.9 801.0,223.6 801.2,223.7 801.5,230.4 801.7,230.7 802.0,227.6 802.2,212.1 802.5,222.1 802.8,217.3 803.0,224.3 803.3,206.8 803.5,218.1 803.8,225.7 804.0,220.4 804.3,216.5 804.5,213.2 804.8,220.1 805.0,215.8 805.3,217.7 805.5,217.5 805.8,220.2 806.1,216.1 806.3,212.3 806.6,216.8 806.8,217.8 807.1,202.0 807.3,210.9 807.6,209.7 807.8,218.6 808.1,205.7 808.3,218.1 808.6,204.1 808.8,207.7 809.1,211.7 809.4,212.6 809.6,208.7 809.9,212.0 810.1,218.9 810.4,205.7 810.6,218.5 810.9,211.6 811.1,213.0 811.4,202.9 811.6,217.4 811.9,204.3 812.2,205.9 812.4,221.4 812.7,212.9 812.9,208.3 813.2,209.2 813.4,202.5 813.7,199.8 813.9,196.5 814.2,205.0 814.4,197.9 814.7,201.2 814.9,197.0 815.2,199.4 815.5,198.8 815.7,200.0 816.0,195.0 816.2,196.6 816.5,202.0 816.7,207.4 817.0,191.7 817.2,192.8 817.5,196.7 817.7,190.0 818.0,195.8 818.2,195.8 818.5,196.9 818.8,187.6 819.0,184.0 819.3,193.2 819.5,194.2 819.8,184.5 820.0,184.9 820.3,185.6 820.5,195.7 820.8,186.0 821.0,186.3 821.3,188.4 821.5,184.5 821.8,188.0 822.1,185.4 822.3,187.5 822.6,188.7 822.8,178.3 823.1,187.6 823.3,184.2 823.6,182.3 823.8,192.4 824.1,188.2 824.3,191.5 824.6,187.7 824.8,193.0 825.1,181.9 825.4,186.1 825.6,192.3 825.9,183.0 826.1,190.5 826.4,192.3 826.6,181.9 826.9,183.3 827.1,186.9 827.4,178.7 827.6,179.9 827.9,181.3 828.2,176.9 828.4,180.7 828.7,175.7 828.9,180.6 829.2,181.2 829.4,198.8 829.7,186.1 829.9,174.7 830.2,188.6 830.4,187.0 830.7,189.2 830.9,197.4 831.2,185.6 831.5,179.8 831.7,181.6 832.0,192.1 832.2,196.1 832.5,194.8 832.7,189.4 833.0,194.1 833.2,187.8 833.5,190.1 833.7,197.5 834.0,196.7 834.2,185.8 834.5,185.5 834.8,190.1 835.0,182.0 835.3,190.0 835.5,191.2 835.8,189.8 836.0,186.3 836.3,201.3 836.5,187.8 836.8,187.3 837.0,192.5 837.3,191.9 837.5,180.3 837.8,189.2 838.1,188.0 838.3,181.6 838.6,193.8 838.8,174.6 839.1,192.3 839.3,192.0 839.6,196.4 839.8,192.1 840.1,194.2 840.3,191.5 840.6,194.8 840.8,201.5 841.1,181.7 841.4,183.3 841.6,183.6 841.9,183.9 842.1,183.6 842.4,190.6 842.6,171.3 842.9,189.9 843.1,193.2 843.4,175.7 843.6,188.3 843.9,185.6 844.2,190.5 844.4,186.1 844.7,181.1 844.9,181.1 845.2,188.9 845.4,177.9 845.7,185.8 845.9,189.9 846.2,177.2 846.4,180.8 846.7,184.7 846.9,188.4 847.2,181.1 847.5,187.2 847.7,189.7 848.0,183.0 848.2,184.4 848.5,191.8 848.7,177.9 849.0,192.6 849.2,187.2 849.5,180.0 849.7,181.4 850.0,176.1 850.2,177.0 850.5,192.4 850.8,172.9 851.0,182.9 851.3,180.9 851.5,185.6 851.8,188.1 852.0,180.1 852.3,182.1 852.5,184.3 852.8,189.8 853.0,179.1 853.3,186.1 853.5,185.5 853.8,188.2 854.1,186.9 854.3,181.9 854.6,181.7 854.8,180.9 855.1,185.4 855.3,185.0 855.6,191.2 855.8,185.8 856.1,187.5 856.3,188.7 856.6,184.8 856.9,184.9 857.1,189.3 857.4,194.4 857.6,187.5 857.9,186.3 858.1,185.1 858.4,191.3 858.6,193.4 858.9,196.1 859.1,186.7 859.4,189.4 859.6,183.2 859.9,193.0 860.2,178.8 860.4,186.5 860.7,186.7 860.9,185.1 861.2,182.6 861.4,183.1 861.7,197.3 861.9,191.8 862.2,188.0 862.4,188.5 862.7,190.9 862.9,196.4 863.2,190.1 863.5,193.2 863.7,192.3 864.0,185.2 864.2,190.6 864.5,187.2 864.7,181.4 865.0,182.7 865.2,193.4 865.5,192.7 865.7,197.3 866.0,182.9 866.2,189.5 866.5,192.4 866.8,191.4 867.0,197.7 867.3,190.9 867.5,199.4 867.8,192.1 868.0,196.1 868.3,198.6 868.5,196.5 868.8,200.6 869.0,200.0 869.3,194.2 869.5,192.3 869.8,197.7 870.1,194.0 870.3,208.4 870.6,200.8 870.8,202.0 871.1,204.9 871.3,201.2 871.6,196.2 871.8,204.7 872.1,203.5 872.3,203.9 872.6,205.6 872.9,213.2 873.1,218.2 873.4,211.8 873.6,214.7 873.9,222.3 874.1,213.4 874.4,225.3 874.6,227.7 874.9,223.0 875.1,229.3 875.4,224.3 875.6,224.1 875.9,226.8 876.2,224.2 876.4,231.0 876.7,236.5 876.9,223.7 877.2,224.2 877.4,225.2 877.7,231.9 877.9,229.0 878.2,233.7 878.4,228.1 878.7,239.7 878.9,233.8 879.2,237.6 879.5,232.7 879.7,235.9 880.0,244.9 880.2,238.8 880.5,242.4 880.7,236.5 881.0,235.2 881.2,244.8 881.5,238.7 881.7,246.2 882.0,245.2 882.2,243.8 882.5,240.5 882.8,245.5 883.0,246.4 883.3,253.0 883.5,252.7 883.8,250.6 884.0,253.4 884.3,254.6 884.5,254.4 884.8,249.5 885.0,251.4 885.3,251.5 885.5,255.8 885.8,260.6 886.1,262.6 886.3,257.2 886.6,262.3 886.8,266.3 887.1,259.3 887.3,248.6 887.6,258.6 887.8,258.4 888.1,260.5 888.3,260.8 888.6,268.3 888.9,262.5 889.1,261.6 889.4,265.6 889.6,266.9 889.9,269.3 890.1,267.4 890.4,276.5 890.6,280.9 890.9,275.2 891.1,273.8 891.4,271.7 891.6,278.1 891.9,274.9 892.2,276.8 892.4,274.6 892.7,281.1 892.9,277.5 893.2,278.5 893.4,284.1 893.7,284.8 893.9,287.2 894.2,289.3 894.4,289.3 894.7,291.4 894.9,283.7 895.2,284.8 895.5,286.9 895.7,285.4 896.0,285.4 896.2,279.4 896.5,281.7 896.7,286.6 897.0,282.3 897.2,292.1 897.5,287.3 897.7,288.8 898.0,284.9 898.2,289.3 898.5,291.0 898.8,291.2 899.0,295.1 899.3,296.0 899.5,296.3 899.8,292.2 900.0,294.2 900.3,293.8 900.5,291.2 900.8,295.6 901.0,308.1 901.3,304.5 901.5,296.9 901.8,303.4 902.1,303.3 902.3,305.3 902.6,313.2 902.8,306.9 903.1,310.7 903.3,315.5 903.6,311.4 903.8,307.3 904.1,316.4 904.3,322.3 904.6,319.2 904.9,323.3 905.1,330.4 905.4,323.8 905.6,321.2 905.9,327.7 906.1,325.5 906.4,326.7 906.6,329.0 906.9,329.7 907.1,330.1 907.4,331.0 907.6,331.6 907.9,330.3 908.2,335.4 908.4,337.7 908.7,333.0 908.9,338.3 909.2,327.9 909.4,338.0 909.7,330.1 909.9,337.5 910.2,338.0 910.4,336.3 910.7,338.9 910.9,342.1 911.2,344.3 911.5,347.7 911.7,349.3 912.0,343.5 912.2,357.4 912.5,342.3 912.7,346.0 913.0,351.3 913.2,343.7 913.5,343.5 913.7,346.4 914.0,360.2 914.2,358.5 914.5,348.4 914.8,355.8 915.0,349.9 915.3,353.7 915.5,351.5 915.8,355.2 916.0,354.8 916.3,362.6 916.5,357.5 916.8,362.2 917.0,356.3 917.3,364.1 917.6,361.4 917.8,362.1 918.1,366.0 918.3,369.7 918.6,367.2 918.8,369.1 919.1,366.2 919.3,373.1 919.6,374.3 919.8,368.0 920.1,370.3 920.3,367.6 920.6,368.0 920.9,381.0 921.1,374.2 921.4,375.7 921.6,377.3 921.9,375.4 922.1,373.0 922.4,381.8 922.6,382.4 922.9,380.1 923.1,380.3 923.4,383.7 923.6,380.4 923.9,378.9 924.2,386.4 924.4,380.3 924.7,388.6 924.9,382.3 925.2,391.6 925.4,392.7 925.7,396.0 925.9,393.8 926.2,394.4 926.4,396.5 926.7,398.9 926.9,400.0 927.2,402.1 927.5,402.5 927.7,401.5 928.0,405.0 928.2,403.5 928.5,408.7 928.7,410.4 929.0,403.5 929.2,409.4 929.5,406.6 929.7,411.0 930.0,413.7 930.2,413.8 930.5,413.0 930.8,406.2 931.0,414.4 931.3,412.2 931.5,415.8 931.8,415.6 932.0,422.1 932.3,415.8 932.5,420.7 932.8,425.1 933.0,422.4 933.3,432.4 933.6,431.4 933.8,429.6 934.1,427.3 934.3,436.7 934.6,430.7 934.8,434.9 935.1,444.0 935.3,440.6 935.6,440.1 935.8,448.8 936.1,441.5 936.3,453.3 936.6,444.2 936.9,446.0 937.1,444.9 937.4,448.7 937.6,451.8 937.9,459.5 938.1,449.3 938.4,454.7 938.6,455.6 938.9,462.2 939.1,469.8 939.4,462.2 939.6,468.7 939.9,467.5 940.2,466.9 940.4,474.4 940.7,469.5 940.9,474.7 941.2,475.2 941.4,471.5 941.7,479.8 941.9,477.8 942.2,477.5 942.4,474.3 942.7,479.1 942.9,477.9 943.2,485.2 943.5,487.9 943.7,484.5 944.0,479.9 944.2,484.6 944.5,488.8 944.7,490.5 945.0,484.9 945.2,488.2 945.5,495.9 945.7,498.5 946.0,486.2 946.2,493.0 946.5,494.3 946.8,494.0 947.0,496.4 947.3,497.3 947.5,497.9 947.8,504.9 948.0,500.3 948.3,501.5 948.5,497.4 948.8,498.4 949.0,503.4 949.3,503.1 949.6,503.0 949.8,497.6 950.1,501.3 950.3,507.8 950.6,501.6 950.8,510.0 951.1,504.0 951.3,508.0 951.6,513.1 951.8,511.7 952.1,512.0 952.3,508.7 952.6,508.7 952.9,519.4 953.1,516.4 953.4,512.5 953.6,515.5 953.9,516.6 954.1,517.2 954.4,517.9 954.6,517.2 954.9,523.9 955.1,530.8 955.4,523.3 955.6,528.0 955.9,532.2 956.2,528.0 956.4,531.6 956.7,530.7 956.9,538.0 957.2,531.1 957.4,533.8 957.7,534.0 957.9,537.8 958.2,538.7 958.4,534.0 958.7,535.5 958.9,538.6 959.2,542.0 959.5,537.3 959.7,541.0 960.0,537.7 960.2,543.1 960.5,541.2 960.7,541.6 961.0,545.3 961.2,543.2 961.5,550.1 961.7,543.2 962.0,549.4 962.2,550.5 962.5,550.9 962.8,552.8 963.0,555.1 963.3,553.8 963.5,557.4 963.8,557.7 964.0,557.7 964.3,560.0 964.5,563.1 964.8,559.7 965.0,557.5 965.3,565.6 965.6,562.1 965.8,567.4 966.1,566.9 966.3,570.1 966.6,569.6 966.8,571.2 967.1,570.4 967.3,572.3 967.6,566.7 967.8,576.6 968.1,574.1 968.3,575.0 968.6,583.5 968.9,584.8 969.1,578.9 969.4,585.7 969.6,584.4 969.9,591.9 970.1,588.4 970.4,586.9 970.6,583.8 970.9,582.2 971.1,590.8 971.4,585.9 971.6,591.3 971.9,593.2 972.2,594.6 972.4,596.0 972.7,601.1 972.9,598.1 973.2,602.4 973.4,599.4 973.7,593.7 973.9,606.8 974.2,598.9 974.4,608.1 974.7,606.4 974.9,603.1 975.2,605.4 975.5,604.3 975.7,604.9 976.0,610.6 976.2,612.1 976.5,609.4 976.7,610.8 977.0,608.3 977.2,621.3 977.5,612.9 977.7,615.7 978.0,619.2 978.3,621.6 978.5,622.5 978.8,623.5 979.0,617.2 979.3,623.0 979.5,624.9 979.8,624.9 980.0,624.1 980.3,624.3 980.5,627.7 980.8,629.5 981.0,632.3 981.3,631.2 981.6,632.4 981.8,634.8 982.1,634.6 982.3,630.4 982.6,632.7 982.8,635.5 983.1,633.4 983.3,637.6 983.6,635.3 983.8,640.0 984.1,636.3 984.3,640.4 984.6,644.4 984.9,648.5 985.1,645.4 985.4,646.4 985.6,651.5 985.9,649.6 986.1,651.9 986.4,650.1 986.6,656.0 986.9,652.6 987.1,646.9 987.4,650.6 987.6,654.4 987.9,649.9 988.2,656.7 988.4,653.2 988.7,655.3 988.9,658.1 989.2,655.5 989.4,649.9 989.7,661.1 989.9,661.7 990.2,653.8 990.4,662.3 990.7,661.3 990.9,663.7 991.2,665.9 991.5,663.0 991.7,669.3 992.0,670.4 992.2,668.9 992.5,667.6 992.7,666.0 993.0,672.3 993.2,670.3 993.5,669.6 993.7,673.7 994.0,673.5 994.3,678.0 994.5,684.0 994.8,677.2 995.0,684.4 995.3,679.3 995.5,684.5 995.8,686.3 996.0,683.4 996.3,687.9 996.5,684.0 996.8,685.6 997.0,686.4 997.3,681.4 997.6,685.1 997.8,690.3 998.1,688.3 998.3,691.3 998.6,695.5 998.8,700.7 999.1,700.2 999.3,692.5 999.6,700.4 999.8,699.9 1000.1,697.0 1000.3,706.0 1000.6,700.5 1000.9,713.5 1001.1,708.6 1001.4,712.7 1001.6,705.3 1001.9,705.3 1002.1,708.0 1002.4,707.7 1002.6,695.3 1002.9,704.2 1003.1,704.0 1003.4,709.5 1003.6,709.9 1003.9,707.4 1004.2,710.2 1004.4,710.9 1004.7,712.8 1004.9,719.5 1005.2,714.0 1005.4,716.4 1005.7,717.1 1005.9,718.3 1006.2,715.8 1006.4,725.0 1006.7,724.4 1006.9,721.8 1007.2,729.1 1007.5,724.8 1007.7,731.3 1008.0,731.8 1008.2,734.7 1008.5,731.9 1008.7,724.9 1009.0,726.8 1009.2,734.2 1009.5,733.5 1009.7,732.3 1010.0,741.5 1010.3,740.6 1010.5,741.3 1010.8,748.9 1011.0,746.6 1011.3,747.4 1011.5,747.6 1011.8,748.0 1012.0,756.7 1012.3,747.5 1012.5,751.9 1012.8,749.0 1013.0,749.5 1013.3,753.4 1013.6,746.9 1013.8,760.6 1014.1,755.2 1014.3,755.9 1014.6,751.8 1014.8,758.8 1015.1,757.6 1015.3,760.1 1015.6,753.9 1015.8,763.5 1016.1,766.2 1016.3,765.6 1016.6,763.0 1016.9,759.8 1017.1,774.8 1017.4,771.0 1017.6,761.1 1017.9,768.9 1018.1,770.9 1018.4,771.1 1018.6,773.8 1018.9,775.6 1019.1,772.1 1019.4,776.5 1019.6,768.2 1019.9,785.9 1020.2,775.3 1020.4,781.0 1020.7,772.4 1020.9,783.3 1021.2,778.1 1021.4,774.4 1021.7,779.4 1021.9,785.0 1022.2,783.8 1022.4,782.9 1022.7,778.8 1022.9,785.1 1023.2,784.3 1023.5,792.2 1023.7,788.7 1024.0,784.8 1024.2,791.7 1024.5,793.2 1024.7,793.5 1025.0,788.0 1025.2,791.0 1025.5,792.0 1025.7,797.2 1026.0,802.1 1026.3,791.4 1026.5,798.2 1026.8,793.6 1027.0,795.7 1027.3,801.1 1027.5,804.1 1027.8,796.8 1028.0,809.9 1028.3,811.4 1028.5,796.1 1028.8,806.5 1029.0,803.1 1029.3,800.6 1029.6,797.6 1029.8,811.1 1030.1,808.7 1030.3,805.4 1030.6,810.4 1030.8,814.9 1031.1,809.2 1031.3,821.5 1031.6,811.4 1031.8,816.6 1032.1,817.1 1032.3,821.0 1032.6,820.0 1032.9,815.4 1033.1,819.6 1033.4,817.0 1033.6,819.8 1033.9,824.5 1034.1,824.9 1034.4,823.9 1034.6,826.8 1034.9,819.3 1035.1,830.3 1035.4,818.2 1035.6,828.1 1035.9,828.6 1036.2,825.3 1036.4,830.6 1036.7,818.5 1036.9,819.4 1037.2,820.7 1037.4,820.0 1037.7,822.8 1037.9,836.8 1038.2,827.3 1038.4,833.9 1038.7,827.6 1039.0,833.1 1039.2,834.3 1039.5,836.6 1039.7,830.6 1040.0,828.8 1040.2,838.7 1040.5,832.7 1040.7,832.9 1041.0,836.1 1041.2,837.6 1041.5,832.7 1041.7,833.0 1042.0,836.4 1042.3,837.3 1042.5,837.6 1042.8,843.9 1043.0,842.7 1043.3,843.1 1043.5,848.1 1043.8,841.3 1044.0,837.2 1044.3,837.1 1044.5,847.3 1044.8,849.2 1045.0,851.7 1045.3,846.4 1045.6,850.6 1045.8,846.1 1046.1,856.6 1046.3,852.0 1046.6,856.1 1046.8,853.3 1047.1,856.7 1047.3,864.8 1047.6,854.1 1047.8,858.4 1048.1,858.9 1048.3,860.8 1048.6,865.6 1048.9,862.2 1049.1,859.9 1049.4,856.9 1049.6,863.8 1049.9,867.7 1050.1,860.4 1050.4,867.1 1050.6,868.1 1050.9,867.7 1051.1,865.7 1051.4,874.8 1051.6,869.6 1051.9,870.9 1052.2,873.5 1052.4,865.1 1052.7,880.6 1052.9,874.3 1053.2,873.6 1053.4,874.0 1053.7,868.6 1053.9,884.8 1054.2,877.3 1054.4,880.5 1054.7,883.6 1055.0,880.9 1055.2,877.3 1055.5,881.4 1055.7,872.5 1056.0,889.0 1056.2,881.7 1056.5,882.7 1056.7,884.3 1057.0,882.5 1057.2,886.8 1057.5,883.3 1057.7,886.7 1058.0,888.0 1058.3,890.2 1058.5,888.6 1058.8,884.2 1059.0,890.7 1059.3,885.9 1059.5,890.8 1059.8,890.6 1060.0,885.6 1060.3,897.4 1060.5,892.9 1060.8,888.6 1061.0,889.9 1061.3,890.3 1061.6,885.1 1061.8,893.2 1062.1,890.4 1062.3,883.1 1062.6,896.5 1062.8,889.0 1063.1,889.2 1063.3,891.2 1063.6,891.5 1063.8,898.4 1064.1,895.2 1064.3,897.5 1064.6,896.4 1064.9,898.3 1065.1,891.6 1065.4,896.1 1065.6,891.6 1065.9,897.3 1066.1,900.7 1066.4,899.7 1066.6,897.2 1066.9,907.3 1067.1,910.9 1067.4,910.7 1067.6,900.6 1067.9,906.5 1068.2,906.8 1068.4,905.3 1068.7,902.3 1068.9,908.1 1069.2,910.3 1069.4,909.5 1069.7,903.9 1069.9,909.2 1070.2,906.3 1070.4,904.8 1070.7,911.2 1071.0,914.4 1071.2,917.2 1071.5,914.8 1071.7,918.2 1072.0,913.2 1072.2,921.4 1072.5,915.4 1072.7,919.2 1073.0,914.8 1073.2,925.0 1073.5,920.6 1073.7,918.7 1074.0,930.6 1074.3,922.4 1074.5,927.3 1074.8,929.5 1075.0,932.5 1075.3,924.8 1075.5,927.4 1075.8,926.1 1076.0,920.5 1076.3,938.5 1076.5,919.3 1076.8,912.2 1077.0,923.4 1077.3,925.3 1077.6,924.2 1077.8,919.8 1078.1,912.5 1078.3,928.7 1078.6,939.7 1078.8,923.2 1079.1,925.1 1079.3,925.4 1079.6,925.6 1079.8,934.8 1080.1,921.8 1080.3,926.4 1080.6,921.2 1080.9,924.6 1081.1,926.5 1081.4,931.2 1081.6,914.9 1081.9,922.5 1082.1,920.3 1082.4,914.5 1082.6,920.4 1082.9,922.5 1083.1,936.3 1083.4,919.4 1083.6,921.1 1083.9,931.9 1084.2,934.6 1084.4,925.7 1084.7,929.2 1084.9,921.4 1085.2,936.1 1085.4,929.8 1085.7,926.2 1085.9,927.7 1086.2,937.2 1086.4,938.6 1086.7,934.1 1087.0,921.2 1087.2,936.8 1087.5,935.7 1087.7,929.1 1088.0,931.6 1088.2,927.2 1088.5,937.9 1088.7,937.9 1089.0,930.3 1089.2,935.7 1089.5,934.3 1089.7,939.4 1090.0,938.0 1090.3,938.0 1090.5,937.2 1090.8,937.6 1091.0,935.5 1091.3,935.4 1091.5,927.8 1091.8,924.1 1092.0,934.7 1092.3,924.4 1092.5,929.3 1092.8,942.9 1093.0,929.3 1093.3,937.6 1093.6,923.8 1093.8,931.6 1094.1,920.4 1094.3,921.0 1094.6,931.1 1094.8,934.0 1095.1,923.9 1095.3,934.8 1095.6,931.5 1095.8,926.8 1096.1,933.5 1096.3,930.1 1096.6,924.5 1096.9,933.4 1097.1,932.0 1097.4,939.1 1097.6,950.1 1097.9,935.1 1098.1,935.5 1098.4,932.6 1098.6,935.0 1098.9,938.2 1099.1,938.0 1099.4,934.1 1099.7,938.7 1099.9,940.7 1100.2,932.0 1100.4,933.4 1100.7,930.3 1100.9,935.6 1101.2,932.9 1101.4,936.1 1101.7,932.9 1101.9,926.1 1102.2,921.2 1102.4,931.2 1102.7,927.3 1103.0,932.7 1103.2,936.1 1103.5,931.1 1103.7,929.4 1104.0,929.7 1104.2,932.2 1104.5,927.2 1104.7,922.1 1105.0,930.1 1105.2,925.1 1105.5,924.7 1105.7,922.9 1106.0,925.6 1106.3,924.6 1106.5,930.2 1106.8,937.8 1107.0,937.8 1107.3,935.9 1107.5,939.6 1107.8,939.3 1108.0,936.8 1108.3,936.0 1108.5,937.5 1108.8,933.0 1109.0,924.5 1109.3,938.2 1109.6,935.5 1109.8,937.7 1110.1,925.9 1110.3,926.6 1110.6,936.7 1110.8,927.3 1111.1,935.7 1111.3,926.9 1111.6,928.4 1111.8,927.7 1112.1,935.6 1112.3,925.3 1112.6,924.6 1112.9,918.9 1113.1,924.1 1113.4,924.6 1113.6,927.4 1113.9,921.0 1114.1,919.1 1114.4,918.6 1114.6,917.5 1114.9,922.2 1115.1,927.9 1115.4,920.3 1115.7,913.6 1115.9,914.4 1116.2,923.4 1116.4,910.7 1116.7,914.3 1116.9,917.6 1117.2,926.5 1117.4,918.9 1117.7,917.4 1117.9,911.5 1118.2,923.7 1118.4,922.9 1118.7,915.4 1119.0,914.9 1119.2,915.2 1119.5,920.8 1119.7,920.8 1120.0,916.2 1120.2,914.8 1120.5,912.4 1120.7,919.1 1121.0,922.1 1121.2,909.2 1121.5,914.2 1121.7,913.4 1122.0,907.1 1122.3,916.4 1122.5,908.4 1122.8,908.3 1123.0,903.0 1123.3,903.9 1123.5,899.4 1123.8,907.0 1124.0,901.5 1124.3,902.5 1124.5,892.8 1124.8,891.6 1125.0,896.8 1125.3,894.1 1125.6,898.1 1125.8,900.1 1126.1,891.4 1126.3,898.2 1126.6,892.4 1126.8,888.3 1127.1,905.1 1127.3,897.5 1127.6,901.5 1127.8,898.5 1128.1,911.0 1128.3,898.1 1128.6,904.5 1128.9,899.1 1129.1,897.9 1129.4,895.7 1129.6,898.7 1129.9,897.0 1130.1,899.0 1130.4,903.3 1130.6,898.1 1130.9,896.6 1131.1,894.8 1131.4,891.8 1131.7,890.9 1131.9,886.7 1132.2,882.2 1132.4,894.9 1132.7,889.5 1132.9,888.0 1133.2,890.6 1133.4,885.9 1133.7,898.3 1133.9,885.1 1134.2,888.3 1134.4,894.6 1134.7,886.5 1135.0,875.7 1135.2,883.7 1135.5,873.7 1135.7,872.7 1136.0,880.9 1136.2,883.4 1136.5,878.7 1136.7,874.9 1137.0,873.2 1137.2,879.1 1137.5,884.2 1137.7,873.3 1138.0,887.1 1138.3,879.3 1138.5,876.9 1138.8,873.7 1139.0,877.2 1139.3,872.8 1139.5,868.4 1139.8,871.2 1140.0,874.3 1140.3,866.7 1140.5,868.7 1140.8,872.8 1141.0,871.1 1141.3,859.8 1141.6,868.6 1141.8,865.4 1142.1,869.8 1142.3,867.9 1142.6,866.8 1142.8,867.9 1143.1,861.5 1143.3,859.3 1143.6,859.3 1143.8,863.2 1144.1,862.4 1144.3,866.6 1144.6,851.7 1144.9,856.2 1145.1,858.5 1145.4,857.0 1145.6,847.7 1145.9,851.3 1146.1,846.1 1146.4,847.4 1146.6,843.7 1146.9,846.0 1147.1,858.5 1147.4,840.1 1147.7,850.6 1147.9,838.0 1148.2,843.0 1148.4,846.1 1148.7,844.2 1148.9,844.8 1149.2,839.2 1149.4,838.3 1149.7,845.7 1149.9,847.3 1150.2,833.9 1150.4,837.3 1150.7,843.6 1151.0,833.0 1151.2,831.5 1151.5,833.8 1151.7,832.6 1152.0,835.7 1152.2,844.6 1152.5,828.2 1152.7,833.6 1153.0,821.1 1153.2,830.8 1153.5,826.5 1153.7,831.9 1154.0,834.5 1154.3,830.3 1154.5,819.2 1154.8,828.0 1155.0,836.3 1155.3,823.5 1155.5,822.5 1155.8,830.6 1156.0,826.3 1156.3,826.4 1156.5,829.3 1156.8,825.4 1157.0,831.9 1157.3,822.8 1157.6,819.2 1157.8,826.4 1158.1,819.6 1158.3,818.2 1158.6,818.1 1158.8,813.2 1159.1,817.9 1159.3,819.9 1159.6,812.1 1159.8,812.0 1160.1,822.0 1160.4,811.4 1160.6,813.3 1160.9,810.8 1161.1,807.9 1161.4,801.1 1161.6,805.2 1161.9,809.1 1162.1,808.4 1162.4,805.0 1162.6,804.0 1162.9,794.3 1163.1,809.1 1163.4,806.8 1163.7,799.7 1163.9,804.5 1164.2,801.7 1164.4,808.3 1164.7,807.6 1164.9,797.5 1165.2,803.6 1165.4,795.7 1165.7,799.8 1165.9,796.2 1166.2,792.3 1166.4,799.3 1166.7,798.4 1167.0,789.6 1167.2,793.1 1167.5,792.7 1167.7,787.5 1168.0,793.8 1168.2,789.1 1168.5,792.9 1168.7,792.0 1169.0,783.2 1169.2,780.1 1169.5,783.5 1169.7,789.3 1170.0,783.5 1170.3,781.1 1170.5,782.0 1170.8,776.8 1171.0,784.2 1171.3,779.4 1171.5,781.5 1171.8,780.1 1172.0,780.6 1172.3,776.7 1172.5,782.4 1172.8,777.9 1173.0,774.6 1173.3,772.0 1173.6,770.3 1173.8,773.0 1174.1,768.6 1174.3,767.4 1174.6,772.2 1174.8,763.9 1175.1,765.4 1175.3,772.0 1175.6,770.7 1175.8,771.0 1176.1,768.7 1176.4,765.7 1176.6,764.6 1176.9,765.6 1177.1,760.6 1177.4,756.1 1177.6,755.5 1177.9,754.9 1178.1,757.4 1178.4,756.4 1178.6,748.1 1178.9,753.4 1179.1,755.7 1179.4,749.0 1179.7,745.4 1179.9,755.9 1180.2,743.3 1180.4,751.6 1180.7,743.4 1180.9,744.6 1181.2,745.6 1181.4,745.4 1181.7,744.1 1181.9,743.5 1182.2,739.4 1182.4,733.7 1182.7,737.5 1183.0,729.2 1183.2,736.5 1183.5,737.6 1183.7,734.6 1184.0,728.0 1184.2,735.6 1184.5,732.0 1184.7,727.3 1185.0,731.3 1185.2,726.4 1185.5,727.6 1185.7,726.6 1186.0,725.0 1186.3,724.2 1186.5,719.5 1186.8,726.4 1187.0,724.4 1187.3,720.7 1187.5,723.4 1187.8,720.6 1188.0,720.3 1188.3,715.3 1188.5,719.7 1188.8,713.7 1189.0,713.8 1189.3,707.2 1189.6,715.3 1189.8,714.5 1190.1,713.1 1190.3,710.3 1190.6,708.7 1190.8,702.6 1191.1,706.5 1191.3,703.8 1191.6,702.6 1191.8,699.3 1192.1,705.0 1192.4,702.2 1192.6,698.7 1192.9,693.5 1193.1,699.6 1193.4,699.0 1193.6,693.1 1193.9,694.3 1194.1,693.7 1194.4,686.4 1194.6,693.8 1194.9,687.7 1195.1,682.6 1195.4,689.1 1195.7,678.8 1195.9,682.6 1196.2,682.8 1196.4,677.9 1196.7,681.1 1196.9,689.5 1197.2,679.5 1197.4,680.0 1197.7,683.3 1197.9,675.2 1198.2,678.1 1198.4,678.0 1198.7,666.4 1199.0,668.2 1199.2,665.0 1199.5,662.1 1199.7,670.2 1200.0,658.0 1200.2,665.5 1200.5,663.8 1200.7,657.9 1201.0,659.0 1201.2,651.1 1201.5,657.2 1201.7,653.4 1202.0,655.3 1202.3,657.3 1202.5,655.5 1202.8,655.9 1203.0,653.8 1203.3,654.5 1203.5,651.1 1203.8,654.5 1204.0,652.3 1204.3,647.2 1204.5,650.3 1204.8,642.2 1205.0,650.3 1205.3,649.0 1205.6,647.4 1205.8,644.8 1206.1,644.9 1206.3,646.3 1206.6,645.7 1206.8,645.6 1207.1,643.5 1207.3,647.6 1207.6,645.7 1207.8,644.4 1208.1,635.3 1208.4,638.1 1208.6,635.2 1208.9,638.7 1209.1,636.1 1209.4,638.9 1209.6,641.4 1209.9,635.0 1210.1,634.7 1210.4,633.9 1210.6,634.9 1210.9,627.4 1211.1,625.5 1211.4,624.9 1211.7,622.0 1211.9,627.0 1212.2,621.4 1212.4,622.4 1212.7,622.8 1212.9,620.4 1213.2,622.7 1213.4,619.9 1213.7,618.0 1213.9,622.5 1214.2,611.3 1214.4,612.1 1214.7,611.6 1215.0,607.7 1215.2,610.0 1215.5,609.2 1215.7,604.9 1216.0,610.5 1216.2,612.2 1216.5,604.1 1216.7,606.8 1217.0,601.7 1217.2,601.9 1217.5,605.0 1217.7,601.9 1218.0,604.2 1218.3,599.5 1218.5,599.2 1218.8,595.1 1219.0,590.8 1219.3,594.8 1219.5,595.6 1219.8,593.4 1220.0,593.2 1220.3,593.6 1220.5,590.5 1220.8,594.0 1221.1,592.3 1221.3,588.2 1221.6,585.4 1221.8,586.1 1222.1,587.9 1222.3,583.1 1222.6,584.8 1222.8,579.8 1223.1,582.9 1223.3,583.8 1223.6,586.7 1223.8,578.7 1224.1,578.7 1224.4,576.7 1224.6,581.5 1224.9,582.2 1225.1,574.1 1225.4,577.3 1225.6,583.8 1225.9,573.3 1226.1,578.4 1226.4,569.1 1226.6,569.2 1226.9,579.3 1227.1,570.5 1227.4,571.4 1227.7,568.4 1227.9,577.0 1228.2,577.4 1228.4,564.4 1228.7,577.2 1228.9,565.4 1229.2,560.0 1229.4,555.7 1229.7,554.8 1229.9,541.9 1230.2,544.5 1230.4,548.9 1230.7,546.4 1231.0,547.7 1231.2,541.1 1231.5,530.0 1231.7,536.8 1232.0,540.4 1232.2,545.3 1232.5,551.3 1232.7,538.0 1233.0,541.2 1233.2,534.8 1233.5,542.2 1233.7,532.6 1234.0,538.0 1234.3,540.1 1234.5,535.5 1234.8,540.4 1235.0,538.8 1235.3,543.2 1235.5,537.6 1235.8,549.6 1236.0,542.2 1236.3,539.7 1236.5,538.3 1236.8,540.3 1237.1,536.4 1237.3,541.5 1237.6,529.1 1237.8,545.0 1238.1,552.6 1238.3,553.3 1238.6,551.2 1238.8,540.4 1239.1,548.8 1239.3,546.7 1239.6,534.7 1239.8,547.2 1240.1,536.9 1240.4,532.1 1240.6,529.5 1240.9,533.3 1241.1,540.8 1241.4,537.8 1241.6,524.3 1241.9,522.9 1242.1,533.1 1242.4,525.7 1242.6,525.7 1242.9,531.1 1243.1,523.6 1243.4,533.9 1243.7,526.3 1243.9,526.8 1244.2,530.9 1244.4,533.2 1244.7,522.0 1244.9,534.7 1245.2,535.6 1245.4,538.4 1245.7,532.0 1245.9,531.6 1246.2,534.5 1246.4,523.7 1246.7,528.8 1247.0,526.1 1247.2,536.4 1247.5,530.0 1247.7,519.2 1248.0,521.2 1248.2,524.3 1248.5,520.1 1248.7,521.8 1249.0,523.6 1249.2,522.3 1249.5,521.2 1249.7,525.3 1250.0,513.7 1250.3,510.1 1250.5,521.9 1250.8,522.6 1251.0,510.0 1251.3,520.6 1251.5,520.5 1251.8,521.7 1252.0,524.8 1252.3,527.9 1252.5,522.4 1252.8,535.3 1253.1,523.1 1253.3,521.8 1253.6,532.0 1253.8,533.2 1254.1,521.3 1254.3,532.9 1254.6,534.7 1254.8,527.0 1255.1,538.2 1255.3,543.5 1255.6,532.3 1255.8,535.0 1256.1,536.4 1256.4,536.3 1256.6,535.7 1256.9,534.2 1257.1,545.2 1257.4,528.9 1257.6,534.5 1257.9,534.2 1258.1,533.5 1258.4,527.2 1258.6,529.4 1258.9,518.7 1259.1,541.6 1259.4,525.3 1259.7,523.7 1259.9,543.9 1260.2,525.6 1260.4,529.7 1260.7,530.2 1260.9,529.9 1261.2,528.5 1261.4,533.7 1261.7,536.3 1261.9,528.2 1262.2,534.4 1262.4,531.0 1262.7,522.3 1263.0,544.3 1263.2,542.3 1263.5,541.7 1263.7,538.3 1264.0,528.4 1264.2,534.8 1264.5,531.3 1264.7,526.8 1265.0,547.5 1265.2,538.6 1265.5,540.3 1265.7,534.4 1266.0,542.3 1266.3,528.9 1266.5,540.6 1266.8,542.4 1267.0,544.0 1267.3,545.6 1267.5,538.6 1267.8,541.3 1268.0,536.1 1268.3,540.0 1268.5,534.6 1268.8,535.1 1269.1,530.1 1269.3,531.7 1269.6,538.5 1269.8,529.1 1270.1,538.9 1270.3,541.1 1270.6,532.5 1270.8,544.6 1271.1,542.4 1271.3,548.0 1271.6,548.4 1271.8,539.5 1272.1,545.9 1272.4,532.2 1272.6,533.3 1272.9,539.0 1273.1,543.8 1273.4,539.7 1273.6,540.0 1273.9,531.7 1274.1,547.0 1274.4,537.0 1274.6,535.3 1274.9,533.2 1275.1,531.3 1275.4,536.6 1275.7,530.8 1275.9,540.1 1276.2,527.9 1276.4,531.9 1276.7,534.6 1276.9,528.0 1277.2,537.8 1277.4,542.8 1277.7,530.8 1277.9,533.0 1278.2,535.6 1278.4,537.9 1278.7,532.1 1279.0,530.2 1279.2,539.9 1279.5,543.0 1279.7,532.1 1280.0,541.8 1280.2,529.8 1280.5,529.4 1280.7,540.1 1281.0,524.7 1281.2,538.5 1281.5,538.0 1281.8,538.4 1282.0,535.7 1282.3,534.3 1282.5,537.4 1282.8,543.4 1283.0,542.1 1283.3,549.4 1283.5,547.4 1283.8,541.8 1284.0,543.3 1284.3,547.1 1284.5,543.6 1284.8,549.2 1285.1,546.2 1285.3,546.6 1285.6,542.4 1285.8,543.2 1286.1,555.0 1286.3,552.6 1286.6,560.4 1286.8,541.0 1287.1,563.5 1287.3,553.6 1287.6,562.2 1287.8,554.2 1288.1,554.0 1288.4,552.5 1288.6,559.4 1288.9,553.0 1289.1,561.5 1289.4,563.8 1289.6,563.6 1289.9,563.8 1290.1,551.1 1290.4,555.5 1290.6,556.7 1290.9,570.1 1291.1,559.3 1291.4,554.8 1291.7,566.6 1291.9,551.0 1292.2,561.4 1292.4,555.3 1292.7,553.5 1292.9,555.1 1293.2,554.6 1293.4,553.0 1293.7,550.4 1293.9,549.5 1294.2,551.4 1294.4,559.0 1294.7,571.0 1295.0,566.8 1295.2,563.9 1295.5,558.5 1295.7,555.8 1296.0,563.4 1296.2,564.0 1296.5,559.5 1296.7,558.7 1297.0,556.1 1297.2,556.0 1297.5,561.6 1297.8,574.0 1298.0,563.1 1298.3,576.9 1298.5,562.7 1298.8,548.2 1299.0,556.5 1299.3,561.4 1299.5,551.0 1299.8,567.6 1300.0,558.8 1300.3,557.1 1300.5,562.8 1300.8,561.4 1301.1,554.0 1301.3,555.8 1301.6,559.2 1301.8,556.1 1302.1,551.6 1302.3,556.4 1302.6,559.8 1302.8,554.6 1303.1,558.1 1303.3,557.5 1303.6,565.2 1303.8,559.9 1304.1,562.9 1304.4,569.7 1304.6,554.9 1304.9,563.3 1305.1,563.5 1305.4,560.6 1305.6,558.3 1305.9,560.6 1306.1,569.3 1306.4,564.0 1306.6,567.4 1306.9,564.7 1307.1,560.6 1307.4,555.3 1307.7,566.6 1307.9,556.4 1308.2,557.8 1308.4,564.9 1308.7,544.3 1308.9,561.0 1309.2,554.7 1309.4,562.2 1309.7,560.6 1309.9,558.4 1310.2,563.1 1310.4,563.1 1310.7,556.6 1311.0,557.3 1311.2,549.8 1311.5,561.0 1311.7,571.5 1312.0,569.0 1312.2,558.1 1312.5,566.0 1312.7,568.3 1313.0,554.5 1313.2,569.2 1313.5,569.0 1313.8,559.1 1314.0,553.3 1314.3,555.2 1314.5,565.5 1314.8,555.2 1315.0,564.8 1315.3,557.8 1315.5,576.5 1315.8,567.6 1316.0,559.9 1316.3,563.9 1316.5,562.1 1316.8,586.3 1317.1,559.1 1317.3,562.8 1317.6,557.0 1317.8,572.0 1318.1,564.2 1318.3,566.0 1318.6,570.0 1318.8,565.7 1319.1,567.6 1319.3,564.2 1319.6,568.7 1319.8,567.1 1320.1,571.5 1320.4,569.5 1320.6,566.3 1320.9,566.1 1321.1,566.4 1321.4,564.1 1321.6,573.2 1321.9,573.6 1322.1,579.0 1322.4,563.5 1322.6,560.4 1322.9,569.2 1323.1,568.0 1323.4,575.4 1323.7,570.6 1323.9,564.0 1324.2,570.0 1324.4,579.3 1324.7,569.9 1324.9,571.3 1325.2,566.5 1325.4,562.2 1325.7,570.7 1325.9,568.0 1326.2,565.0 1326.4,574.6 1326.7,570.9 1327.0,578.9 1327.2,568.3 1327.5,565.5 1327.7,567.2 1328.0,566.3 1328.2,572.4 1328.5,572.8 1328.7,561.5 1329.0,564.8 1329.2,569.9 1329.5,564.1 1329.8,571.4 1330.0,572.6 1330.3,565.2 1330.5,567.5 1330.8,565.5 1331.0,554.4 1331.3,564.6 1331.5,565.6 1331.8,555.5 1332.0,571.0 1332.3,567.7 1332.5,569.8 1332.8,568.5 1333.1,556.1 1333.3,579.0 1333.6,561.6 1333.8,575.7 1334.1,577.4 1334.3,569.8 1334.6,569.3 1334.8,569.8 1335.1,573.2 1335.3,562.1 1335.6,571.7 1335.8,560.5 1336.1,548.3 1336.4,570.3 1336.6,561.3 1336.9,561.7 1337.1,570.6 1337.4,562.5 1337.6,557.9 1337.9,558.8 1338.1,560.8 1338.4,568.2 1338.6,565.8 1338.9,569.8 1339.1,559.0 1339.4,569.3 1339.7,571.3 1339.9,569.0 1340.2,557.0 1340.4,575.2 1340.7,562.2 1340.9,563.3 1341.2,571.1 1341.4,567.7 1341.7,577.6 1341.9,568.2 1342.2,568.3 1342.5,575.5 1342.7,570.6 1343.0,571.6 1343.2,568.6 1343.5,567.9 1343.7,565.9 1344.0,572.6 1344.2,568.8 1344.5,567.0 1344.7,562.5 1345.0,570.6 1345.2,573.5 1345.5,574.4 1345.8,571.6 1346.0,580.4 1346.3,576.7 1346.5,566.8 1346.8,559.2 1347.0,562.8 1347.3,574.1 1347.5,564.3 1347.8,569.4 1348.0,574.7 1348.3,564.9 1348.5,567.8 1348.8,568.7 1349.1,571.5 1349.3,570.4 1349.6,578.1 1349.8,578.8 1350.1,580.7 1350.3,572.8 1350.6,574.8 1350.8,571.7 1351.1,577.9 1351.3,577.0 1351.6,575.0 1351.8,574.2 1352.1,574.6 1352.4,564.9 1352.6,571.6 1352.9,586.5 1353.1,576.0 1353.4,572.0 1353.6,573.4 1353.9,574.2 1354.1,575.7 1354.4,566.1 1354.6,578.5 1354.9,569.8 1355.1,568.0 1355.4,567.5 1355.7,560.2 1355.9,575.9 1356.2,574.0 1356.4,567.9 1356.7,566.8 1356.9,566.6 1357.2,573.2 1357.4,571.9 1357.7,562.0 1357.9,567.1 1358.2,567.7 1358.5,567.3 1358.7,562.6 1359.0,573.8 1359.2,571.9 1359.5,582.8 1359.7,576.9 1360.0,573.9 1360.2,572.4 1360.5,580.0 1360.7,583.4 1361.0,580.7 1361.2,587.3 1361.5,581.5 1361.8,576.3 1362.0,572.5 1362.3,566.6 1362.5,573.0 1362.8,577.6 1363.0,572.0 1363.3,574.7 1363.5,566.7 1363.8,566.5 1364.0,581.0 1364.3,573.3 1364.5,560.8 1364.8,565.7 1365.1,573.8 1365.3,589.8 1365.6,569.8 1365.8,571.8 1366.1,575.1 1366.3,570.4 1366.6,573.8 1366.8,572.7 1367.1,577.7 1367.3,577.7 1367.6,575.2 1367.8,579.3 1368.1,584.4 1368.4,585.1 1368.6,577.2 1368.9,583.4 1369.1,583.7 1369.4,582.7 1369.6,575.4 1369.9,590.3 1370.1,591.7 1370.4,577.3 1370.6,579.2 1370.9,570.2 1371.1,580.1 1371.4,586.8 1371.7,578.0 1371.9,578.3 1372.2,578.5 1372.4,578.9 1372.7,569.5 1372.9,583.3 1373.2,579.6 1373.4,582.0 1373.7,590.7 1373.9,587.4 1374.2,584.9 1374.5,580.9 1374.7,584.8 1375.0,569.8 1375.2,577.3 1375.5,581.6 1375.7,579.6 1376.0,574.6 1376.2,577.9 1376.5,579.8 1376.7,580.5 1377.0,573.6 1377.2,564.2 1377.5,588.3 1377.8,575.4 1378.0,573.2 1378.3,577.8 1378.5,561.7 1378.8,572.7 1379.0,583.2 1379.3,573.0 1379.5,581.3 1379.8,570.9 1380.0,575.5 1380.3,569.7 1380.5,581.2 1380.8,574.0 1381.1,567.6 1381.3,578.2 1381.6,582.5 1381.8,578.8 1382.1,575.9 1382.3,579.3 1382.6,575.1 1382.8,571.5 1383.1,582.6 1383.3,586.8 1383.6,583.4 1383.8,587.2 1384.1,582.8 1384.4,580.4 1384.6,588.0 1384.9,578.6 1385.1,579.1 1385.4,587.0 1385.6,580.3 1385.9,586.4 1386.1,574.0 1386.4,578.1 1386.6,573.6 1386.9,568.6 1387.1,572.6 1387.4,576.1 1387.7,574.5 1387.9,579.0 1388.2,577.4 1388.4,568.8 1388.7,582.1 1388.9,580.6 1389.2,579.2 1389.4,578.5 1389.7,576.3 1389.9,586.3 1390.2,582.7 1390.5,580.1 1390.7,577.4 1391.0,574.9 1391.2,575.4 1391.5,576.5 1391.7,581.6 1392.0,583.0 1392.2,583.2 1392.5,572.6 1392.7,568.7 1393.0,581.6 1393.2,584.9 1393.5,579.5 1393.8,576.2 1394.0,580.3 1394.3,578.2 1394.5,572.9 1394.8,574.0 1395.0,577.7 1395.3,581.3 1395.5,574.2 1395.8,566.5 1396.0,580.0 1396.3,562.5 1396.5,568.7 1396.8,561.1 1397.1,572.0 1397.3,572.2 1397.6,574.9 1397.8,566.8 1398.1,567.6 1398.3,569.7 1398.6,568.4 1398.8,566.1 1399.1,572.7 1399.3,563.7 1399.6,577.0 1399.8,571.2 1400.1,566.6 1400.4,569.4 1400.6,566.7 1400.9,575.6 1401.1,568.7 1401.4,567.4 1401.6,574.6 1401.9,564.1 1402.1,573.9 1402.4,571.9 1402.6,574.9 1402.9,567.4 1403.2,573.1 1403.4,566.4 1403.7,565.9 1403.9,572.8 1404.2,568.6 1404.4,562.6 1404.7,580.7 1404.9,581.4 1405.2,563.2 1405.4,577.7 1405.7,558.6 1405.9,569.4 1406.2,586.1 1406.5,569.3 1406.7,574.7 1407.0,573.6 1407.2,569.8 1407.5,577.0 1407.7,575.0 1408.0,571.6 1408.2,580.0 1408.5,571.5 1408.7,567.9 1409.0,568.7 1409.2,567.7 1409.5,568.2 1409.8,578.3 1410.0,572.8 1410.3,578.6 1410.5,566.9 1410.8,564.0 1411.0,568.7 1411.3,580.3 1411.5,571.9 1411.8,565.7 1412.0,566.8 1412.3,564.7 1412.5,563.9 1412.8,573.4 1413.1,566.3 1413.3,565.9 1413.6,572.7 1413.8,570.2 1414.1,567.2 1414.3,556.1 1414.6,560.9 1414.8,566.5 1415.1,566.4 1415.3,575.3 1415.6,566.7 1415.8,561.5 1416.1,569.0 1416.4,564.1 1416.6,560.0 1416.9,568.8 1417.1,575.4 1417.4,568.0 1417.6,568.2 1417.9,553.3 1418.1,567.8 1418.4,567.9 1418.6,562.0 1418.9,571.3 1419.2,569.1 1419.4,568.5 1419.7,569.1 1419.9,566.6 1420.2,568.3 1420.4,582.1 1420.7,564.7 1420.9,573.7 1421.2,568.2 1421.4,571.9 1421.7,570.1 1421.9,567.2 1422.2,576.0 1422.5,578.0 1422.7,574.3 1423.0,577.5 1423.2,568.1 1423.5,579.1 1423.7,581.4 1424.0,568.4 1424.2,582.6 1424.5,574.4 1424.7,581.2 1425.0,573.7 1425.2,568.0 1425.5,568.5 1425.8,577.4 1426.0,572.1 1426.3,568.5 1426.5,573.6 1426.8,564.0 1427.0,565.7 1427.3,565.1 1427.5,574.3 1427.8,572.5 1428.0,581.1 1428.3,579.5 1428.5,571.5 1428.8,578.3 1429.1,574.4 1429.3,580.5 1429.6,578.4 1429.8,581.1 1430.1,573.4 1430.3,579.2 1430.6,574.9 1430.8,572.5 1431.1,577.9 1431.3,576.3 1431.6,564.2 1431.8,573.5 1432.1,568.0 1432.4,568.2 1432.6,570.9 1432.9,572.1 1433.1,582.9 1433.4,571.0 1433.6,578.5 1433.9,579.9 1434.1,573.1 1434.4,566.9 1434.6,570.1 1434.9,570.1 1435.2,570.6 1435.4,571.7 1435.7,582.4 1435.9,583.6 1436.2,577.6 1436.4,572.9 1436.7,578.6 1436.9,582.0 1437.2,580.6 1437.4,579.9 1437.7,580.5 1437.9,582.3 1438.2,567.5 1438.5,574.8 1438.7,584.7 1439.0,574.8 1439.2,572.9 1439.5,571.5 1439.7,581.4 1440.0,585.7 1440.2,563.3 1440.5,581.9 1440.7,582.2 1441.0,573.2 1441.2,567.8 1441.5,568.0 1441.8,577.6 1442.0,572.8 1442.3,576.6 1442.5,572.6 1442.8,576.3 1443.0,559.6 1443.3,566.7 1443.5,574.4 1443.8,574.6 1444.0,567.4 1444.3,578.9 1444.5,577.1 1444.8,578.4 1445.1,576.2 1445.3,567.6 1445.6,580.3 1445.8,583.8 1446.1,582.9 1446.3,579.5 1446.6,582.6 1446.8,581.0 1447.1,578.3 1447.3,570.9 1447.6,571.6 1447.8,574.3 1448.1,569.9 1448.4,571.1 1448.6,571.9 1448.9,576.4 1449.1,567.8 1449.4,572.7 1449.6,574.2 1449.9,575.4 1450.1,573.2 1450.4,574.9 1450.6,581.9 1450.9,579.5 1451.2,583.3 1451.4,593.2 1451.7,585.1 1451.9,564.7 1452.2,587.8 1452.4,578.6 1452.7,573.8 1452.9,578.8 1453.2,578.2 1453.4,582.5 1453.7,580.3 1453.9,579.4 1454.2,581.1 1454.5,575.2 1454.7,570.9 1455.0,569.5 1455.2,565.1 1455.5,570.7 1455.7,555.7 1456.0,572.0 1456.2,579.1 1456.5,581.3 1456.7,572.5 1457.0,569.8 1457.2,569.5 1457.5,574.3 1457.8,567.7 1458.0,575.1 1458.3,578.1 1458.5,577.0 1458.8,575.7 1459.0,572.4 1459.3,581.8 1459.5,579.9 1459.8,567.7 1460.0,574.8 1460.3,566.2 1460.5,567.8 1460.8,568.5 1461.1,563.9 1461.3,569.4 1461.6,565.5 1461.8,564.4 1462.1,563.3 1462.3,571.9 1462.6,567.8 1462.8,561.0 1463.1,564.1 1463.3,561.1 1463.6,560.3 1463.9,569.5 1464.1,566.8 1464.4,560.0 1464.6,563.6 1464.9,569.4 1465.1,563.0"/>
<polyline stroke="#0000ff" points="195.5,576.3 195.8,578.1 196.0,578.7 196.3,581.1 196.5,585.1 196.8,582.2 197.0,585.6 197.3,583.5 197.5,585.8 197.8,586.5 198.0,588.2 198.3,586.2 198.5,590.8 198.8,593.3 199.1,590.6 199.3,599.1 199.6,593.4 199.8,592.2 200.1,594.3 200.3,589.1 200.6,590.6 200.8,592.7 201.1,594.6 201.3,588.0 201.6,594.9 201.8,593.5 202.1,588.5 202.4,588.8 202.6,582.8 202.9,592.0 203.1,598.9 203.4,588.2 203.6,585.5 203.9,591.2 204.1,584.1 204.4,583.3 204.6,593.2 204.9,592.7 205.2,595.9 205.4,588.6 205.7,587.8 205.9,588.1 206.2,595.4 206.4,593.4 206.7,596.0 206.9,596.6 207.2,595.6 207.4,596.4 207.7,590.6 207.9,587.9 208.2,587.1 208.5,590.0 208.7,593.0 209.0,590.7 209.2,588.7 209.5,592.4 209.7,591.1 210.0,592.6 210.2,593.6 210.5,591.4 210.7,595.9 211.0,587.2 211.2,597.4 211.5,589.2 211.8,596.2 212.0,584.8 212.3,587.1 212.5,593.7 212.8,592.4 213.0,595.2 213.3,591.3 213.5,589.7 213.8,581.1 214.0,596.3 214.3,586.2 214.5,593.3 214.8,589.9 215.1,587.3 215.3,588.2 215.6,588.4 215.8,590.6 216.1,589.6 216.3,589.1 216.6,584.8 216.8,594.9 217.1,591.0 217.3,593.7 217.6,592.6 217.8,591.9 218.1,584.4 218.4,580.2 218.6,583.3 218.9,593.3 219.1,588.7 219.4,593.4 219.6,587.4 219.9,584.3 220.1,586.9 220.4,585.7 220.6,589.4 220.9,596.3 221.2,596.0 221.4,587.9 221.7,584.5 221.9,581.5 222.2,587.4 222.4,585.3 222.7,584.5 222.9,581.3 223.2,586.0 223.4,590.1 223.7,581.4 223.9,584.1 224.2,584.6 224.5,591.2 224.7,586.2 225.0,593.0 225.2,594.3 225.5,587.4 225.7,588.2 226.0,584.5 226.2,581.5 226.5,587.8 226.7,580.7 227.0,590.0 227.2,584.7 227.5,592.5 227.8,586.6 228.0,587.8 228.3,586.8 228.5,582.9 228.8,591.8 229.0,583.1 229.3,586.2 229.5,582.3 229.8,581.1 230.0,584.2 230.3,584.4 230.5,588.0 230.8,581.8 231.1,587.3 231.3,583.6 231.6,591.7 231.8,581.0 232.1,591.0 232.3,582.7 232.6,589.5 232.8,585.7 233.1,588.4 233.3,585.1 233.6,587.8 233.9,582.5 234.1,584.8 234.4,584.6 234.6,580.5 234.9,589.7 235.1,581.2 235.4,586.1 235.6,592.2 235.9,584.1 236.1,586.5 236.4,578.7 236.6,587.3 236.9,584.9 237.2,584.0 237.4,592.7 237.7,582.7 237.9,588.4 238.2,578.6 238.4,577.4 238.7,584.3 238.9,590.8 239.2,583.7 239.4,583.9 239.7,581.6 239.9,585.6 240.2,589.2 240.5,585.0 240.7,588.1 241.0,577.1 241.2,586.9 241.5,586.4 241.7,583.7 242.0,588.1 242.2,584.6 242.5,583.3 242.7,584.7 243.0,583.7 243.2,577.6 243.5,580.7 243.8,587.8 244.0,584.1 244.3,579.3 244.5,585.1 244.8,582.1 245.0,582.5 245.3,580.2 245.5,583.1 245.8,582.8 246.0,585.5 246.3,580.7 246.5,585.9 246.8,574.9 247.1,581.8 247.3,582.6 247.6,578.2 247.8,581.4 248.1,580.1 248.3,580.4 248.6,583.0 248.8,583.4 249.1,582.3 249.3,574.7 249.6,581.8 249.9,580.6 250.1,580.8 250.4,576.3 250.6,571.4 250.9,583.5 251.1,577.7 251.4,579.6 251.6,581.5 251.9,578.4 252.1,585.6 252.4,577.2 252.6,579.9 252.9,585.0 253.2,574.7 253.4,577.8 253.7,576.8 253.9,587.7 254.2,583.0 254.4,584.5 254.7,580.2 254.9,577.8 255.2,591.5 255.4,583.9 255.7,584.3 255.9,579.6 256.2,583.5 256.5,588.1 256.7,583.4 257.0,586.1 257.2,584.3 257.5,580.1 257.7,581.3 258.0,577.6 258.2,584.8 258.5,569.0 258.7,573.4 259.0,575.9 259.2,584.4 259.5,588.4 259.8,583.7 260.0,581.6 260.3,572.1 260.5,576.3 260.8,583.9 261.0,576.9 261.3,576.9 261.5,581.7 261.8,576.7 262.0,580.5 262.3,584.4 262.5,586.8 262.8,582.7 263.1,578.2 263.3,587.9 263.6,589.2 263.8,580.6 264.1,594.1 264.3,575.6 264.6,584.4 264.8,579.3 265.1,574.2 265.3,587.0 265.6,585.0 265.9,571.1 266.1,580.9 266.4,579.6 266.6,577.6 266.9,574.0 267.1,572.9 267.4,577.8 267.6,579.8 267.9,578.9 268.1,577.8 268.4,574.1 268.6,579.2 268.9,573.1 269.2,584.4 269.4,579.4 269.7,575.0 269.9,577.4 270.2,581.6 270.4,586.8 270.7,586.3 270.9,584.0 271.2,582.3 271.4,584.4 271.7,589.2 271.9,585.8 272.2,580.0 272.5,578.2 272.7,586.6 273.0,581.9 273.2,586.5 273.5,581.5 273.7,564.0 274.0,577.6 274.2,578.7 274.5,579.3 274.7,581.7 275.0,584.1 275.2,576.7 275.5,577.8 275.8,571.0 276.0,584.0 276.3,576.0 276.5,572.6 276.8,586.2 277.0,575.7 277.3,585.0 277.5,576.4 277.8,572.4 278.0,578.0 278.3,576.3 278.5,579.6 278.8,575.1 279.1,571.1 279.3,576.1 279.6,575.8 279.8,573.5 280.1,571.5 280.3,581.5 280.6,574.7 280.8,577.9 281.1,573.4 281.3,571.6 281.6,575.0 281.9,571.1 282.1,580.5 282.4,578.4 282.6,580.9 282.9,576.7 283.1,576.9 283.4,578.0 283.6,582.2 283.9,577.5 284.1,578.8 284.4,574.7 284.6,578.1 284.9,572.2 285.2,575.9 285.4,584.2 285.7,577.1 285.9,582.3 286.2,572.4 286.4,570.4 286.7,576.3 286.9,574.2 287.2,581.9 287.4,584.9 287.7,577.9 287.9,576.8 288.2,582.1 288.5,575.5 288.7,574.6 289.0,573.4 289.2,569.7 289.5,572.9 289.7,577.7 290.0,576.1 290.2,574.2 290.5,580.9 290.7,571.1 291.0,572.8 291.2,577.4 291.5,579.1 291.8,561.1 292.0,573.0 292.3,572.6 292.5,569.3 292.8,572.9 293.0,576.5 293.3,574.9 293.5,581.7 293.8,575.1 294.0,584.1 294.3,576.1 294.6,575.6 294.8,583.9 295.1,569.3 295.3,581.2 295.6,571.5 295.8,577.2 296.1,573.3 296.3,577.2 296.6,564.3 296.8,570.3 297.1,567.1 297.3,571.5 297.6,571.9 297.9,574.2 298.1,576.1 298.4,572.9 298.6,575.0 298.9,576.2 299.1,581.5 299.4,577.3 299.6,573.7 299.9,578.0 300.1,574.9 300.4,577.2 300.6,581.0 300.9,580.7 301.2,580.2 301.4,578.4 301.7,578.3 301.9,572.8 302.2,581.7 302.4,585.9 302.7,574.7 302.9,579.2 303.2,577.8 303.4,566.8 303.7,571.1 303.9,574.6 304.2,573.0 304.5,576.3 304.7,572.9 305.0,579.1 305.2,579.5 305.5,578.5 305.7,570.1 306.0,570.4 306.2,579.3 306.5,572.2 306.7,577.4 307.0,572.2 307.2,577.6 307.5,572.2 307.8,576.2 308.0,576.7 308.3,575.3 308.5,574.0 308.8,576.6 309.0,579.4 309.3,566.8 309.5,575.3 309.8,581.2 310.0,583.3 310.3,585.8 310.6,577.1 310.8,569.5 311.1,582.5 311.3,577.9 311.6,584.9 311.8,573.6 312.1,577.3 312.3,577.9 312.6,574.2 312.8,573.6 313.1,576.7 313.3,583.5 313.6,586.6 313.9,585.4 314.1,588.1 314.4,573.3 314.6,581.0 314.9,579.4 315.1,578.6 315.4,570.4 315.6,580.1 315.9,572.7 316.1,576.0 316.4,577.7 316.6,584.7 316.9,573.3 317.2,580.4 317.4,579.4 317.7,577.2 317.9,578.2 318.2,574.7 318.4,582.4 318.7,579.3 318.9,579.1 319.2,580.4 319.4,577.8 319.7,581.5 319.9,575.6 320.2,583.1 320.5,585.8 320.7,579.6 321.0,574.1 321.2,580.5 321.5,580.4 321.7,578.7 322.0,576.3 322.2,577.2 322.5,574.6 322.7,582.5 323.0,569.0 323.2,572.6 323.5,578.3 323.8,569.1 324.0,572.8 324.3,568.5 324.5,579.1 324.8,567.5 325.0,574.2 325.3,582.7 325.5,571.0 325.8,575.2 326.0,578.0 326.3,574.6 326.6,581.7 326.8,571.3 327.1,574.8 327.3,575.2 327.6,568.4 327.8,574.5 328.1,578.1 328.3,580.1 328.6,577.2 328.8,573.2 329.1,580.3 329.3,583.1 329.6,575.5 329.9,579.3 330.1,580.0 330.4,571.7 330.6,585.2 330.9,579.4 331.1,587.5 331.4,581.5 331.6,578.0 331.9,575.5 332.1,585.4 332.4,577.0 332.6,577.2 332.9,580.7 333.2,569.9 333.4,579.6 333.7,582.9 333.9,577.2 334.2,586.3 334.4,572.3 334.7,574.4 334.9,579.8 335.2,575.5 335.4,575.9 335.7,570.2 335.9,581.0 336.2,584.2 336.5,587.7 336.7,580.7 337.0,586.0 337.2,580.6 337.5,578.4 337.7,582.2 338.0,584.3 338.2,575.6 338.5,581.2 338.7,579.3 339.0,576.1 339.2,585.3 339.5,583.5 339.8,568.9 340.0,579.1 340.3,582.2 340.5,578.4 340.8,579.4 341.0,581.7 341.3,578.0 341.5,576.0 341.8,575.7 342.0,573.1 342.3,582.5 342.6,581.8 342.8,572.6 343.1,578.0 343.3,571.2 343.6,574.8 343.8,581.8 344.1,574.0 344.3,580.4 344.6,575.6 344.8,571.7 345.1,568.1 345.3,576.9 345.6,573.9 345.9,575.7 346.1,574.0 346.4,587.9 346.6,579.1 346.9,576.4 347.1,575.4 347.4,580.2 347.6,573.8 347.9,572.7 348.1,576.7 348.4,577.8 348.6,578.1 348.9,575.9 349.2,571.7 349.4,570.3 349.7,578.5 349.9,580.6 350.2,580.3 350.4,573.2 350.7,576.7 350.9,576.5 351.2,575.9 351.4,576.5 351.7,578.7 351.9,582.7 352.2,581.1 352.5,578.1 352.7,576.9 353.0,580.0 353.2,580.1 353.5,572.8 353.7,580.4 354.0,577.7 354.2,579.8 354.5,581.9 354.7,584.4 355.0,580.1 355.3,581.1 355.5,573.9 355.8,581.8 356.0,578.5 356.3,573.7 356.5,576.5 356.8,574.2 357.0,572.9 357.3,583.1 357.5,578.6 357.8,581.3 358.0,572.5 358.3,579.0 358.6,577.0 358.8,572.6 359.1,581.3 359.3,579.6 359.6,578.2 359.8,580.9 360.1,574.3 360.3,575.7 360.6,574.6 360.8,578.2 361.1,579.7 361.3,579.5 361.6,579.5 361.9,584.8 362.1,577.1 362.4,575.6 362.6,579.3 362.9,581.6 363.1,579.7 363.4,579.1 363.6,578.7 363.9,572.8 364.1,583.6 364.4,578.6 364.6,577.1 364.9,579.3 365.2,580.1 365.4,583.1 365.7,581.3 365.9,576.0 366.2,572.9 366.4,581.5 366.7,576.8 366.9,576.4 367.2,574.5 367.4,577.8 367.7,577.3 367.9,575.7 368.2,584.0 368.5,579.0 368.7,586.4 369.0,587.2 369.2,582.5 369.5,585.6 369.7,577.4 370.0,575.4 370.2,580.6 370.5,579.9 370.7,580.3 371.0,580.4 371.3,578.5 371.5,577.3 371.8,580.5 372.0,581.4 372.3,580.1 372.5,574.1 372.8,578.5 373.0,570.4 373.3,576.9 373.5,570.2 373.8,580.3 374.0,578.4 374.3,573.7 374.6,573.8 374.8,576.5 375.1,568.2 375.3,576.3 375.6,575.8 375.8,579.3 376.1,570.6 376.3,574.0 376.6,575.8 376.8,584.1 377.1,576.0 377.3,579.2 377.6,575.6 377.9,573.7 378.1,580.2 378.4,576.4 378.6,573.8 378.9,576.8 379.1,578.6 379.4,581.4 379.6,579.8 379.9,582.2 380.1,573.1 380.4,576.3 380.6,581.6 380.9,576.7 381.2,581.8 381.4,589.5 381.7,571.6 381.9,572.0 382.2,582.7 382.4,579.9 382.7,576.8 382.9,579.5 383.2,581.7 383.4,580.6 383.7,579.6 383.9,581.0 384.2,578.0 384.5,579.5 384.7,581.5 385.0,578.1 385.2,584.3 385.5,571.6 385.7,584.0 386.0,577.0 386.2,575.3 386.5,575.1 386.7,575.9 387.0,572.3 387.3,581.8 387.5,577.7 387.8,577.0 388.0,579.7 388.3,580.1 388.5,572.8 388.8,580.7 389.0,579.6 389.3,578.7 389.5,578.0 389.8,576.6 390.0,578.4 390.3,576.5 390.6,577.6 390.8,576.5 391.1,573.3 391.3,582.5 391.6,573.3 391.8,582.1 392.1,578.4 392.3,580.8 392.6,582.8 392.8,589.6 393.1,575.8 393.3,585.3 393.6,585.6 393.9,578.3 394.1,581.9 394.4,574.5 394.6,575.1 394.9,578.8 395.1,580.5 395.4,578.2 395.6,586.1 395.9,580.2 396.1,580.2 396.4,582.5 396.6,579.6 396.9,586.3 397.2,576.9 397.4,575.2 397.7,585.2 397.9,579.2 398.2,573.5 398.4,577.4 398.7,582.9 398.9,582.6 399.2,574.9 399.4,570.9 399.7,582.2 399.9,577.7 400.2,580.8 400.5,578.7 400.7,576.2 401.0,577.7 401.2,580.2 401.5,569.2 401.7,578.3 402.0,578.3 402.2,573.0 402.5,577.1 402.7,578.0 403.0,573.7 403.3,581.7 403.5,574.6 403.8,573.3 404.0,574.5 404.3,577.6 404.5,576.8 404.8,583.7 405.0,577.5 405.3,575.5 405.5,573.1 405.8,575.9 406.0,578.0 406.3,580.0 406.6,577.1 406.8,576.6 407.1,572.6 407.3,577.5 407.6,579.7 407.8,578.8 408.1,580.5 408.3,579.6 408.6,587.2 408.8,584.9 409.1,583.3 409.3,576.8 409.6,578.9 409.9,577.8 410.1,573.6 410.4,581.8 410.6,573.0 410.9,575.8 411.1,580.3 411.4,571.4 411.6,582.8 411.9,581.5 412.1,577.8 412.4,575.3 412.6,577.6 412.9,585.3 413.2,578.1 413.4,577.5 413.7,567.1 413.9,571.9 414.2,576.9 414.4,581.8 414.7,576.3 414.9,582.4 415.2,577.5 415.4,577.1 415.7,580.4 416.0,578.1 416.2,580.6 416.5,581.6 416.7,573.4 417.0,577.0 417.2,580.5 417.5,582.1 417.7,578.0 418.0,576.1 418.2,574.5 418.5,571.5 418.7,575.0 419.0,580.9 419.3,568.5 419.5,572.0 419.8,573.2 420.0,571.3 420.3,582.6 420.5,578.5 420.8,579.3 421.0,572.9 421.3,582.6 421.5,579.5 421.8,572.2 422.0,575.6 422.3,579.6 422.6,570.6 422.8,583.0 423.1,575.7 423.3,578.2 423.6,575.4 423.8,578.4 424.1,580.5 424.3,576.4 424.6,582.5 424.8,575.2 425.1,578.7 425.3,574.1 425.6,579.8 425.9,580.8 426.1,576.7 426.4,573.3 426.6,586.1 426.9,577.6 427.1,575.6 427.4,583.5 427.6,581.5 427.9,575.8 428.1,581.3 428.4,580.5 428.6,571.7 428.9,581.8 429.2,581.4 429.4,586.5 429.7,582.1 429.9,582.5 430.2,571.6 430.4,573.1 430.7,581.7 430.9,570.4 431.2,574.6 431.4,577.8 431.7,574.3 432.0,575.8 432.2,579.5 432.5,582.8 432.7,579.8 433.0,576.5 433.2,577.4 433.5,578.2 433.7,571.8 434.0,578.3 434.2,571.0 434.5,575.1 434.7,572.7 435.0,576.5 435.3,572.4 435.5,574.8 435.8,578.0 436.0,572.0 436.3,572.2 436.5,569.3 436.8,571.3 437.0,576.0 437.3,574.7 437.5,581.5 437.8,576.9 438.0,568.5 438.3,567.6 438.6,570.1 438.8,571.5 439.1,570.5 439.3,571.0 439.6,579.3 439.8,576.5 440.1,569.2 440.3,569.3 440.6,573.0 440.8,575.6 441.1,576.6 441.3,577.9 441.6,580.0 441.9,584.3 442.1,576.9 442.4,579.6 442.6,579.1 442.9,572.0 443.1,576.5 443.4,581.7 443.6,576.7 443.9,584.8 444.1,574.6 444.4,577.6 444.6,579.0 444.9,575.7 445.2,572.2 445.4,579.4 445.7,581.4 445.9,569.9 446.2,577.4 446.4,572.1 446.7,579.9 446.9,576.1 447.2,579.6 447.4,575.4 447.7,578.3 448.0,579.6 448.2,572.4 448.5,576.4 448.7,584.0 449.0,578.4 449.2,580.4 449.5,581.3 449.7,579.4 450.0,579.1 450.2,577.7 450.5,580.0 450.7,582.9 451.0,579.0 451.3,574.7 451.5,580.8 451.8,575.2 452.0,575.6 452.3,578.1 452.5,576.0 452.8,578.8 453.0,577.8 453.3,579.5 453.5,575.3 453.8,573.0 454.0,578.4 454.3,573.4 454.6,582.0 454.8,578.6 455.1,578.8 455.3,571.7 455.6,577.9 455.8,574.5 456.1,582.3 456.3,577.1 456.6,576.3 456.8,578.1 457.1,584.6 457.3,578.3 457.6,577.3 457.9,576.6 458.1,578.8 458.4,583.5 458.6,580.6 458.9,578.5 459.1,582.5 459.4,580.1 459.6,582.9 459.9,582.4 460.1,581.7 460.4,585.6 460.6,579.2 460.9,585.7 461.2,586.4 461.4,589.5 461.7,589.0 461.9,590.7 462.2,594.0 462.4,595.1 462.7,592.1 462.9,593.6 463.2,599.5 463.4,599.3 463.7,596.2 464.0,596.4 464.2,595.6 464.5,600.1 464.7,596.9 465.0,599.3 465.2,600.5 465.5,600.5 465.7,598.9 466.0,600.6 466.2,600.8 466.5,605.3 466.7,605.4 467.0,608.4 467.3,608.2 467.5,609.0 467.8,610.2 468.0,608.7 468.3,610.4 468.5,610.7 468.8,612.9 469.0,611.5 469.3,614.3 469.5,613.2 469.8,615.0 470.0,615.1 470.3,617.5 470.6,620.8 470.8,622.0 471.1,615.2 471.3,619.6 471.6,620.5 471.8,622.8 472.1,624.5 472.3,618.1 472.6,628.1 472.8,627.0 473.1,628.2 473.3,631.9 473.6,633.3 473.9,633.2 474.1,633.5 474.4,634.9 474.6,633.0 474.9,638.5 475.1,635.8 475.4,634.3 475.6,636.4 475.9,641.8 476.1,646.8 476.4,638.9 476.7,640.6 476.9,643.9 477.2,640.5 477.4,645.3 477.7,645.0 477.9,648.7 478.2,646.6 478.4,649.2 478.7,650.4 478.9,647.7 479.2,650.6 479.4,655.6 479.7,651.4 480.0,652.0 480.2,656.9 480.5,656.8 480.7,656.7 481.0,658.3 481.2,658.4 481.5,658.0 481.7,661.6 482.0,656.5 482.2,664.0 482.5,664.5 482.7,659.4 483.0,659.2 483.3,665.6 483.5,666.8 483.8,669.7 484.0,665.2 484.3,668.2 484.5,671.5 484.8,669.4 485.0,667.8 485.3,670.2 485.5,667.4 485.8,670.8 486.0,673.6 486.3,675.9 486.6,675.6 486.8,675.3 487.1,677.3 487.3,678.0 487.6,681.4 487.8,681.7 488.1,682.0 488.3,686.8 488.6,690.8 488.8,684.7 489.1,688.6 489.3,692.2 489.6,691.7 489.9,693.9 490.1,698.4 490.4,695.5 490.6,699.4 490.9,696.1 491.1,697.6 491.4,695.5 491.6,699.3 491.9,698.8 492.1,701.1 492.4,701.9 492.7,705.1 492.9,700.0 493.2,702.8 493.4,705.5 493.7,704.5 493.9,706.9 494.2,708.6 494.4,707.3 494.7,706.0 494.9,711.0 495.2,715.1 495.4,714.3 495.7,709.5 496.0,717.4 496.2,713.6 496.5,718.4 496.7,717.1 497.0,720.4 497.2,725.2 497.5,723.3 497.7,718.0 498.0,724.8 498.2,724.0 498.5,727.2 498.7,727.7 499.0,727.6 499.3,728.3 499.5,724.7 499.8,731.5 500.0,732.7 500.3,734.9 500.5,737.6 500.8,739.3 501.0,734.1 501.3,741.5 501.5,733.5 501.8,735.7 502.0,739.5 502.3,742.6 502.6,740.5 502.8,741.4 503.1,739.2 503.3,745.1 503.6,744.9 503.8,744.9 504.1,746.2 504.3,747.8 504.6,751.2 504.8,751.5 505.1,749.3 505.3,748.6 505.6,746.0 505.9,743.0 506.1,745.4 506.4,749.6 506.6,746.4 506.9,752.6 507.1,754.6 507.4,747.8 507.6,758.1 507.9,757.3 508.1,757.7 508.4,753.8 508.7,760.0 508.9,757.1 509.2,761.2 509.4,764.5 509.7,761.4 509.9,762.3 510.2,766.7 510.4,766.6 510.7,767.2 510.9,763.0 511.2,765.2 511.4,766.5 511.7,766.5 512.0,769.7 512.2,767.6 512.5,771.1 512.7,773.5 513.0,772.1 513.2,770.1 513.5,770.9 513.7,768.7 514.0,776.7 514.2,772.9 514.5,771.7 514.7,776.1 515.0,773.4 515.3,776.1 515.5,779.0 515.8,773.4 516.0,781.4 516.3,775.6 516.5,780.7 516.8,783.1 517.0,783.8 517.3,784.2 517.5,785.3 517.8,783.0 518.0,789.9 518.3,781.8 518.6,783.6 518.8,782.8 519.1,790.4 519.3,795.4 519.6,791.5 519.8,791.1 520.1,790.5 520.3,793.7 520.6,793.2 520.8,793.3 521.1,799.0 521.3,790.2 521.6,799.3 521.9,795.7 522.1,793.8 522.4,799.8 522.6,798.1 522.9,793.8 523.1,800.0 523.4,796.7 523.6,799.5 523.9,800.2 524.1,799.4 524.4,803.0 524.7,803.8 524.9,801.3 525.2,804.3 525.4,804.5 525.7,810.4 525.9,807.6 526.2,804.8 526.4,806.4 526.7,808.9 526.9,812.0 527.2,812.7 527.4,809.8 527.7,807.3 528.0,811.9 528.2,808.4 528.5,813.6 528.7,809.5 529.0,816.7 529.2,813.6 529.5,818.0 529.7,813.6 530.0,814.8 530.2,820.2 530.5,820.3 530.7,820.2 531.0,824.2 531.3,823.3 531.5,823.8 531.8,819.4 532.0,818.0 532.3,823.9 532.5,823.5 532.8,822.2 533.0,824.9 533.3,824.6 533.5,821.5 533.8,823.7 534.0,825.2 534.3,827.2 534.6,821.5 534.8,828.6 535.1,827.2 535.3,831.5 535.6,830.9 535.8,829.4 536.1,831.5 536.3,829.3 536.6,831.3 536.8,836.6 537.1,840.2 537.4,830.7 537.6,836.4 537.9,830.8 538.1,836.0 538.4,839.3 538.6,835.9 538.9,839.2 539.1,838.9 539.4,842.3 539.6,837.8 539.9,836.7 540.1,841.9 540.4,834.8 540.7,842.4 540.9,839.9 541.2,846.3 541.4,847.7 541.7,835.5 541.9,838.3 542.2,839.8 542.4,849.7 542.7,844.6 542.9,845.1 543.2,847.1 543.4,847.5 543.7,852.1 544.0,850.3 544.2,854.0 544.5,852.3 544.7,850.6 545.0,854.9 545.2,853.6 545.5,854.3 545.7,853.2 546.0,850.6 546.2,853.2 546.5,853.3 546.7,859.9 547.0,856.8 547.3,853.4 547.5,859.4 547.8,858.7 548.0,861.3 548.3,854.5 548.5,860.9 548.8,862.4 549.0,858.3 549.3,857.0 549.5,859.2 549.8,857.9 550.0,860.5 550.3,861.7 550.6,862.7 550.8,863.2 551.1,863.7 551.3,861.1 551.6,863.3 551.8,863.3 552.1,862.4 552.3,865.3 552.6,870.5 552.8,869.5 553.1,871.4 553.4,874.5 553.6,868.2 553.9,872.8 554.1,873.4 554.4,873.0 554.6,866.6 554.9,871.0 555.1,866.9 555.4,870.7 555.6,872.2 555.9,869.4 556.1,869.9 556.4,872.1 556.7,876.5 556.9,875.1 557.2,878.0 557.4,875.3 557.7,874.6 557.9,870.6 558.2,871.3 558.4,874.1 558.7,873.3 558.9,876.0 559.2,867.5 559.4,871.9 559.7,868.4 560.0,876.2 560.2,875.9 560.5,873.4 560.7,876.3 561.0,876.0 561.2,880.8 561.5,874.3 561.7,877.4 562.0,875.5 562.2,879.4 562.5,885.5 562.7,878.5 563.0,876.9 563.3,886.2 563.5,885.6 563.8,883.6 564.0,883.8 564.3,889.1 564.5,877.2 564.8,880.1 565.0,885.9 565.3,890.2 565.5,882.8 565.8,877.3 566.0,881.8 566.3,881.2 566.6,889.3 566.8,885.8 567.1,892.7 567.3,880.7 567.6,886.4 567.8,896.7 568.1,896.3 568.3,888.4 568.6,890.1 568.8,892.2 569.1,889.1 569.4,884.2 569.6,890.7 569.9,899.1 570.1,893.0 570.4,897.3 570.6,895.4 570.9,890.9 571.1,892.6 571.4,895.7 571.6,891.7 571.9,894.6 572.1,889.3 572.4,892.2 572.7,889.8 572.9,892.7 573.2,889.1 573.4,892.6 573.7,892.4 573.9,894.7 574.2,891.7 574.4,899.0 574.7,881.8 574.9,894.8 575.2,891.7 575.4,893.9 575.7,893.7 576.0,890.4 576.2,894.0 576.5,893.7 576.7,897.8 577.0,896.3 577.2,897.5 577.5,886.1 577.7,898.4 578.0,897.3 578.2,892.4 578.5,887.4 578.7,899.6 579.0,899.0 579.3,892.5 579.5,891.7 579.8,898.6 580.0,900.2 580.3,897.0 580.5,890.4 580.8,893.7 581.0,890.9 581.3,894.3 581.5,893.9 581.8,891.2 582.0,893.9 582.3,892.3 582.6,896.8 582.8,895.4 583.1,891.0 583.3,893.5 583.6,895.0 583.8,889.2 584.1,889.5 584.3,891.5 584.6,894.4 584.8,887.8 585.1,881.5 585.4,894.6 585.6,897.5 585.9,894.7 586.1,895.6 586.4,897.4 586.6,897.3 586.9,889.6 587.1,889.8 587.4,887.5 587.6,890.5 587.9,895.0 588.1,888.7 588.4,895.1 588.7,893.7 588.9,896.5 589.2,886.8 589.4,887.2 589.7,892.5 589.9,891.5 590.2,889.7 590.4,889.2 590.7,886.8 590.9,889.9 591.2,888.7 591.4,895.9 591.7,891.3 592.0,897.0 592.2,883.1 592.5,884.4 592.7,886.8 593.0,884.8 593.2,880.8 593.5,884.4 593.7,893.5 594.0,887.8 594.2,895.9 594.5,889.8 594.7,891.4 595.0,886.6 595.3,885.1 595.5,890.1 595.8,887.7 596.0,885.6 596.3,887.5 596.5,887.7 596.8,896.0 597.0,888.4 597.3,883.7 597.5,885.5 597.8,892.0 598.1,887.4 598.3,885.4 598.6,890.2 598.8,883.7 599.1,889.1 599.3,887.4 599.6,886.6 599.8,877.7 600.1,887.3 600.3,888.0 600.6,882.8 600.8,886.7 601.1,883.7 601.4,892.5 601.6,882.5 601.9,883.0 602.1,887.1 602.4,876.7 602.6,881.9 602.9,881.2 603.1,884.8 603.4,885.5 603.6,881.0 603.9,883.9 604.1,876.2 604.4,874.5 604.7,879.6 604.9,883.0 605.2,878.7 605.4,881.1 605.7,876.8 605.9,877.1 606.2,880.0 606.4,878.6 606.7,875.4 606.9,873.3 607.2,881.9 607.4,877.5 607.7,880.7 608.0,883.6 608.2,875.0 608.5,877.7 608.7,878.0 609.0,876.6 609.2,877.9 609.5,880.3 609.7,869.4 610.0,871.9 610.2,873.7 610.5,870.7 610.7,868.8 611.0,873.2 611.3,869.7 611.5,872.2 611.8,868.2 612.0,870.9 612.3,861.1 612.5,870.0 612.8,866.5 613.0,866.3 613.3,868.8 613.5,864.5 613.8,867.8 614.1,869.0 614.3,867.6 614.6,869.8 614.8,863.3 615.1,865.1 615.3,863.7 615.6,871.2 615.8,865.5 616.1,868.4 616.3,865.3 616.6,860.9 616.8,863.7 617.1,864.5 617.4,859.7 617.6,859.4 617.9,855.9 618.1,867.1 618.4,859.3 618.6,860.8 618.9,861.2 619.1,857.0 619.4,860.1 619.6,862.7 619.9,857.6 620.1,855.0 620.4,847.7 620.7,855.2 620.9,855.9 621.2,858.0 621.4,852.5 621.7,851.8 621.9,850.4 622.2,855.2 622.4,852.5 622.7,856.7 622.9,848.5 623.2,853.9 623.4,857.5 623.7,844.6 624.0,846.1 624.2,846.1 624.5,845.4 624.7,849.2 625.0,842.2 625.2,848.5 625.5,838.5 625.7,843.0 626.0,848.7 626.2,839.6 626.5,835.4 626.7,841.8 627.0,836.9 627.3,840.4 627.5,840.8 627.8,846.1 628.0,833.5 628.3,838.1 628.5,834.7 628.8,838.7 629.0,837.5 629.3,830.6 629.5,834.6 629.8,833.9 630.1,835.9 630.3,830.7 630.6,828.2 630.8,831.3 631.1,829.7 631.3,832.2 631.6,823.2 631.8,828.4 632.1,826.1 632.3,819.7 632.6,824.8 632.8,828.3 633.1,825.6 633.4,823.1 633.6,815.7 633.9,819.7 634.1,820.5 634.4,816.6 634.6,814.4 634.9,819.8 635.1,812.2 635.4,812.9 635.6,813.2 635.9,820.9 636.1,812.7 636.4,808.5 636.7,812.9 636.9,804.5 637.2,810.6 637.4,813.3 637.7,807.9 637.9,808.4 638.2,806.2 638.4,808.6 638.7,803.1 638.9,807.6 639.2,804.5 639.4,807.8 639.7,805.6 640.0,801.6 640.2,803.2 640.5,801.7 640.7,800.0 641.0,797.5 641.2,795.1 641.5,794.3 641.7,792.7 642.0,794.2 642.2,795.7 642.5,798.1 642.7,793.8 643.0,794.7 643.3,797.3 643.5,787.0 643.8,797.1 644.0,790.4 644.3,789.7 644.5,791.9 644.8,783.2 645.0,790.4 645.3,792.3 645.5,784.2 645.8,790.9 646.1,791.8 646.3,789.6 646.6,787.5 646.8,784.3 647.1,782.3 647.3,786.6 647.6,780.2 647.8,773.8 648.1,781.6 648.3,779.4 648.6,776.4 648.8,774.4 649.1,779.4 649.4,779.8 649.6,779.7 649.9,773.3 650.1,773.2 650.4,781.3 650.6,780.4 650.9,776.9 651.1,776.8 651.4,770.5 651.6,770.1 651.9,764.4 652.1,766.8 652.4,767.8 652.7,764.1 652.9,769.3 653.2,770.1 653.4,765.3 653.7,762.2 653.9,768.8 654.2,761.1 654.4,760.6 654.7,763.7 654.9,761.3 655.2,761.9 655.4,760.4 655.7,757.8 656.0,761.7 656.2,755.9 656.5,755.6 656.7,754.6 657.0,761.7 657.2,760.5 657.5,752.6 657.7,755.2 658.0,754.4 658.2,753.5 658.5,754.1 658.8,750.3 659.0,750.8 659.3,750.0 659.5,746.3 659.8,750.1 660.0,743.0 660.3,751.3 660.5,737.7 660.8,747.4 661.0,741.3 661.3,739.3 661.5,740.7 661.8,737.6 662.1,738.8 662.3,742.1 662.6,735.5 662.8,732.4 663.1,736.0 663.3,738.1 663.6,734.4 663.8,731.2 664.1,730.4 664.3,727.3 664.6,727.9 664.8,727.3 665.1,733.2 665.4,721.5 665.6,726.5 665.9,723.7 666.1,726.0 666.4,724.7 666.6,723.4 666.9,718.7 667.1,718.0 667.4,719.3 667.6,714.5 667.9,719.4 668.1,716.0 668.4,717.4 668.7,711.9 668.9,714.0 669.2,710.7 669.4,707.7 669.7,716.2 669.9,704.5 670.2,708.2 670.4,708.7 670.7,711.3 670.9,706.0 671.2,709.7 671.4,702.5 671.7,701.9 672.0,695.8 672.2,700.0 672.5,695.6 672.7,694.4 673.0,691.4 673.2,696.5 673.5,693.4 673.7,698.3 674.0,696.5 674.2,693.5 674.5,691.8 674.8,693.7 675.0,690.4 675.3,686.5 675.5,688.1 675.8,686.0 676.0,686.5 676.3,679.6 676.5,677.4 676.8,680.2 677.0,679.9 677.3,674.5 677.5,676.5 677.8,678.2 678.1,678.8 678.3,675.8 678.6,668.0 678.8,673.8 679.1,664.5 679.3,670.9 679.6,670.9 679.8,666.6 680.1,670.0 680.3,668.0 680.6,671.0 680.8,671.0 681.1,669.3 681.4,666.5 681.6,667.8 681.9,669.9 682.1,662.8 682.4,663.2 682.6,662.3 682.9,661.9 683.1,664.7 683.4,654.0 683.6,657.8 683.9,654.2 684.1,651.1 684.4,650.8 684.7,652.2 684.9,651.7 685.2,650.2 685.4,647.9 685.7,647.8 685.9,649.5 686.2,646.6 686.4,646.1 686.7,644.6 686.9,645.0 687.2,641.5 687.4,643.7 687.7,641.4 688.0,642.9 688.2,643.9 688.5,644.3 688.7,641.7 689.0,639.3 689.2,636.8 689.5,639.3 689.7,639.5 690.0,638.7 690.2,633.7 690.5,635.7 690.8,636.3 691.0,632.4 691.3,636.5 691.5,632.3 691.8,631.8 692.0,631.3 692.3,632.9 692.5,626.9 692.8,624.3 693.0,630.4 693.3,626.1 693.5,623.9 693.8,619.2 694.1,624.6 694.3,624.9 694.6,621.8 694.8,616.1 695.1,619.9 695.3,618.6 695.6,614.1 695.8,622.3 696.1,621.4 696.3,613.3 696.6,612.7 696.8,616.9 697.1,611.6 697.4,611.8 697.6,610.4 697.9,611.8 698.1,610.2 698.4,610.4 698.6,607.5 698.9,607.3 699.1,602.0 699.4,603.5 699.6,607.6 699.9,602.2 700.1,599.2 700.4,601.0 700.7,598.4 700.9,600.0 701.2,597.6 701.4,600.6 701.7,596.0 701.9,600.1 702.2,593.3 702.4,598.9 702.7,599.6 702.9,593.0 703.2,593.9 703.4,592.6 703.7,591.2 704.0,591.5 704.2,592.8 704.5,589.7 704.7,588.7 705.0,587.6 705.2,583.5 705.5,588.7 705.7,586.1 706.0,584.2 706.2,585.5 706.5,586.2 706.8,583.9 707.0,579.5 707.3,581.3 707.5,578.5 707.8,580.5 708.0,577.1 708.3,578.7 708.5,578.2 708.8,575.4 709.0,574.7 709.3,570.9 709.5,576.6 709.8,571.4 710.1,568.3 710.3,568.0 710.6,570.8 710.8,570.5 711.1,569.2 711.3,566.6 711.6,565.8 711.8,564.4 712.1,562.9 712.3,565.4 712.6,564.6 712.8,563.8 713.1,563.2 713.4,559.8 713.6,558.2 713.9,552.8 714.1,556.5 714.4,557.1 714.6,553.6 714.9,557.6 715.1,554.7 715.4,552.8 715.6,552.4 715.9,552.4 716.1,553.1 716.4,554.0 716.7,550.5 716.9,550.2 717.2,546.2 717.4,546.8 717.7,544.1 717.9,547.6 718.2,540.9 718.4,543.8 718.7,544.4 718.9,543.1 719.2,540.6 719.5,535.9 719.7,536.0 720.0,539.4 720.2,535.8 720.5,535.4 720.7,537.8 721.0,535.6 721.2,536.9 721.5,533.4 721.7,536.5 722.0,531.4 722.2,530.8 722.5,529.6 722.8,528.6 723.0,523.1 723.3,525.6 723.5,523.4 723.8,521.3 724.0,520.1 724.3,519.7 724.5,521.6 724.8,522.0 725.0,520.4 725.3,518.9 725.5,517.2 725.8,516.6 726.1,513.3 726.3,515.2 726.6,510.1 726.8,510.9 727.1,513.5 727.3,509.6 727.6,517.2 727.8,506.5 728.1,507.5 728.3,506.3 728.6,509.9 728.8,499.0 729.1,504.2 729.4,502.8 729.6,498.6 729.9,500.3 730.1,500.6 730.4,495.9 730.6,498.7 730.9,493.6 731.1,494.1 731.4,490.7 731.6,495.0 731.9,488.1 732.1,489.4 732.4,484.7 732.7,490.0 732.9,483.2 733.2,485.0 733.4,483.8 733.7,486.2 733.9,482.2 734.2,481.1 734.4,484.0 734.7,483.9 734.9,482.0 735.2,475.7 735.5,477.7 735.7,474.9 736.0,475.6 736.2,475.4 736.5,474.4 736.7,475.0 737.0,470.0 737.2,471.6 737.5,470.4 737.7,473.4 738.0,468.5 738.2,469.9 738.5,468.4 738.8,463.4 739.0,467.4 739.3,464.2 739.5,461.1 739.8,458.9 740.0,462.0 740.3,459.0 740.5,458.1 740.8,460.9 741.0,462.7 741.3,461.6 741.5,454.7 741.8,455.4 742.1,458.5 742.3,456.3 742.6,455.1 742.8,454.4 743.1,453.0 743.3,446.6 743.6,453.1 743.8,449.9 744.1,451.2 744.3,449.7 744.6,449.1 744.8,446.2 745.1,445.7 745.4,442.2 745.6,441.1 745.9,442.6 746.1,434.3 746.4,440.9 746.6,436.0 746.9,430.5 747.1,436.8 747.4,430.5 747.6,429.2 747.9,430.9 748.1,435.6 748.4,426.5 748.7,428.9 748.9,429.6 749.2,423.9 749.4,427.9 749.7,422.3 749.9,425.6 750.2,422.1 750.4,425.4 750.7,422.7 750.9,423.2 751.2,421.8 751.5,418.6 751.7,418.8 752.0,417.3 752.2,413.8 752.5,416.7 752.7,420.5 753.0,415.5 753.2,413.8 753.5,410.5 753.7,409.6 754.0,408.8 754.2,410.7 754.5,407.3 754.8,411.6 755.0,403.3 755.3,404.4 755.5,403.2 755.8,404.5 756.0,402.3 756.3,403.3 756.5,399.1 756.8,403.3 757.0,396.2 757.3,396.3 757.5,391.4 757.8,395.8 758.1,394.9 758.3,392.8 758.6,392.0 758.8,391.1 759.1,392.7 759.3,391.5 759.6,388.9 759.8,387.2 760.1,388.6 760.3,387.6 760.6,384.3 760.8,380.9 761.1,382.8 761.4,379.8 761.6,378.3 761.9,378.2 762.1,381.0 762.4,380.2 762.6,383.6 762.9,379.7 763.1,375.9 763.4,379.3 763.6,371.7 763.9,370.5 764.1,374.7 764.4,370.2 764.7,375.7 764.9,373.7 765.2,370.8 765.4,368.7 765.7,368.1 765.9,369.0 766.2,359.7 766.4,363.4 766.7,362.3 766.9,360.2 767.2,360.7 767.5,360.9 767.7,361.0 768.0,363.3 768.2,353.4 768.5,359.7 768.7,361.4 769.0,358.5 769.2,360.3 769.5,349.0 769.7,353.2 770.0,349.7 770.2,349.4 770.5,351.7 770.8,351.7 771.0,355.4 771.3,353.1 771.5,354.4 771.8,352.3 772.0,354.4 772.3,348.4 772.5,349.5 772.8,351.6 773.0,355.7 773.3,347.9 773.5,346.5 773.8,348.7 774.1,351.6 774.3,345.8 774.6,343.2 774.8,351.3 775.1,343.2 775.3,349.6 775.6,343.2 775.8,337.7 776.1,342.2 776.3,340.5 776.6,342.2 776.8,340.6 777.1,332.8 777.4,335.2 777.6,339.5 777.9,339.0 778.1,337.1 778.4,329.8 778.6,335.0 778.9,331.5 779.1,335.2 779.4,337.3 779.6,329.0 779.9,332.6 780.1,334.0 780.4,333.1 780.7,332.4 780.9,331.7 781.2,333.9 781.4,324.8 781.7,326.6 781.9,323.9 782.2,327.0 782.4,324.2 782.7,324.0 782.9,320.2 783.2,320.4 783.5,320.9 783.7,323.2 784.0,324.3 784.2,322.5 784.5,321.6 784.7,320.9 785.0,322.6 785.2,313.3 785.5,317.1 785.7,323.8 786.0,320.6 786.2,320.9 786.5,315.4 786.8,312.2 787.0,317.7 787.3,311.9 787.5,313.6 787.8,308.1 788.0,306.6 788.3,308.8 788.5,306.8 788.8,308.3 789.0,309.0 789.3,310.8 789.5,306.1 789.8,306.9 790.1,307.6 790.3,306.5 790.6,306.5 790.8,308.7 791.1,306.5 791.3,300.7 791.6,304.1 791.8,298.0 792.1,304.8 792.3,304.4 792.6,299.0 792.8,295.8 793.1,299.2 793.4,294.2 793.6,292.4 793.9,290.9 794.1,293.9 794.4,293.2 794.6,297.6 794.9,291.5 795.1,289.8 795.4,285.7 795.6,293.6 795.9,291.9 796.2,291.8 796.4,285.5 796.7,295.8 796.9,290.4 797.2,279.7 797.4,283.6 797.7,289.2 797.9,284.5 798.2,281.0 798.4,281.1 798.7,282.9 798.9,284.1 799.2,278.4 799.5,280.6 799.7,277.7 800.0,278.8 800.2,281.4 800.5,274.8 800.7,280.6 801.0,277.3 801.2,280.2 801.5,278.1 801.7,277.4 802.0,277.9 802.2,274.2 802.5,269.8 802.8,267.2 803.0,267.7 803.3,272.4 803.5,266.3 803.8,269.2 804.0,264.2 804.3,274.0 804.5,264.6 804.8,271.0 805.0,264.8 805.3,269.8 805.5,264.9 805.8,268.4 806.1,273.5 806.3,270.1 806.6,267.3 806.8,265.9 807.1,273.1 807.3,269.4 807.6,267.7 807.8,265.9 808.1,264.1 808.3,267.3 808.6,269.3 808.8,262.7 809.1,264.4 809.4,260.0 809.6,264.5 809.9,259.9 810.1,264.4 810.4,259.7 810.6,259.6 810.9,257.7 811.1,262.0 811.4,258.7 811.6,260.9 811.9,257.8 812.2,254.4 812.4,245.5 812.7,255.4 812.9,252.6 813.2,254.4 813.4,250.3 813.7,252.2 813.9,249.6 814.2,251.3 814.4,243.4 814.7,246.7 814.9,257.4 815.2,249.8 815.5,250.1 815.7,258.0 816.0,252.6 816.2,250.9 816.5,251.6 816.7,248.4 817.0,255.4 817.2,246.2 817.5,246.2 817.7,247.9 818.0,250.6 818.2,249.7 818.5,251.9 818.8,246.3 819.0,248.9 819.3,243.7 819.5,252.6 819.8,245.7 820.0,253.1 820.3,251.5 820.5,254.6 820.8,248.3 821.0,249.8 821.3,246.7 821.5,243.0 821.8,248.4 822.1,246.2 822.3,244.0 822.6,247.3 822.8,248.8 823.1,245.0 823.3,244.4 823.6,243.5 823.8,243.1 824.1,248.8 824.3,244.2 824.6,241.1 824.8,247.4 825.1,244.1 825.4,247.9 825.6,244.8 825.9,238.6 826.1,244.8 826.4,249.7 826.6,245.0 826.9,246.0 827.1,242.9 827.4,252.9 827.6,251.4 827.9,248.2 828.2,254.1 828.4,243.6 828.7,256.1 828.9,251.2 829.2,253.2 829.4,249.5 829.7,243.5 829.9,244.2 830.2,242.8 830.4,244.1 830.7,254.5 830.9,245.2 831.2,253.3 831.5,247.8 831.7,247.5 832.0,248.1 832.2,243.8 832.5,248.8 832.7,238.6 833.0,242.6 833.2,239.9 833.5,241.2 833.7,240.4 834.0,243.8 834.2,235.3 834.5,247.1 834.8,240.8 835.0,242.4 835.3,243.0 835.5,240.9 835.8,245.0 836.0,238.6 836.3,239.0 836.5,241.9 836.8,239.7 837.0,246.7 837.3,249.9 837.5,245.1 837.8,243.9 838.1,233.2 838.3,244.3 838.6,239.5 838.8,240.5 839.1,235.7 839.3,243.8 839.6,241.9 839.8,245.4 840.1,248.2 840.3,248.9 840.6,248.1 840.8,239.3 841.1,243.9 841.4,245.5 841.6,244.8 841.9,246.9 842.1,244.9 842.4,245.1 842.6,242.5 842.9,241.5 843.1,251.4 843.4,244.1 843.6,239.6 843.9,249.1 844.2,245.9 844.4,244.4 844.7,240.7 844.9,242.8 845.2,246.2 845.4,243.7 845.7,241.9 845.9,244.5 846.2,238.8 846.4,244.5 846.7,250.5 846.9,249.5 847.2,246.8 847.5,246.9 847.7,243.2 848.0,243.7 848.2,238.0 848.5,241.5 848.7,238.7 849.0,247.5 849.2,246.2 849.5,241.9 849.7,244.4 850.0,242.6 850.2,244.6 850.5,248.5 850.8,240.1 851.0,242.7 851.3,253.5 851.5,250.3 851.8,248.1 852.0,246.0 852.3,249.0 852.5,254.0 852.8,245.5 853.0,249.5 853.3,244.4 853.5,247.9 853.8,245.3 854.1,246.1 854.3,246.2 854.6,251.5 854.8,246.2 855.1,249.6 855.3,255.3 855.6,252.1 855.8,251.8 856.1,248.8 856.3,248.0 856.6,254.2 856.9,247.1 857.1,249.8 857.4,253.2 857.6,246.2 857.9,252.1 858.1,254.0 858.4,247.4 858.6,247.3 858.9,253.6 859.1,248.3 859.4,249.5 859.6,255.8 859.9,247.4 860.2,255.7 860.4,255.5 860.7,265.4 860.9,255.1 861.2,260.4 861.4,257.1 861.7,265.0 861.9,255.3 862.2,254.8 862.4,253.8 862.7,271.0 862.9,258.8 863.2,260.1 863.5,272.1 863.7,264.1 864.0,262.0 864.2,257.0 864.5,264.9 864.7,261.3 865.0,262.3 865.2,261.0 865.5,264.0 865.7,259.9 866.0,260.1 866.2,268.7 866.5,261.2 866.8,268.4 867.0,267.8 867.3,264.0 867.5,268.5 867.8,267.9 868.0,268.0 868.3,269.3 868.5,273.8 868.8,275.7 869.0,270.7 869.3,270.8 869.5,272.2 869.8,274.4 870.1,271.3 870.3,274.5 870.6,279.4 870.8,274.5 871.1,274.2 871.3,273.8 871.6,279.9 871.8,279.9 872.1,277.1 872.3,280.1 872.6,279.2 872.9,276.3 873.1,278.4 873.4,274.0 873.6,279.5 873.9,275.3 874.1,277.7 874.4,273.4 874.6,282.1 874.9,283.0 875.1,279.0 875.4,285.5 875.6,286.1 875.9,284.5 876.2,284.5 876.4,290.7 876.7,286.0 876.9,288.1 877.2,287.7 877.4,287.5 877.7,289.2 877.9,285.7 878.2,287.8 878.4,290.2 878.7,289.9 878.9,287.1 879.2,288.3 879.5,287.3 879.7,292.2 880.0,291.7 880.2,286.2 880.5,293.0 880.7,288.3 881.0,291.6 881.2,296.0 881.5,299.9 881.7,294.3 882.0,299.1 882.2,299.7 882.5,303.5 882.8,295.4 883.0,299.3 883.3,300.3 883.5,299.7 883.8,301.0 884.0,302.1 884.3,301.7 884.5,305.1 884.8,313.2 885.0,303.9 885.3,305.6 885.5,307.8 885.8,303.8 886.1,313.8 886.3,319.1 886.6,306.5 886.8,310.2 887.1,316.9 887.3,313.4 887.6,310.5 887.8,316.4 888.1,311.4 888.3,307.0 888.6,309.7 888.9,314.5 889.1,313.8 889.4,318.5 889.6,316.1 889.9,318.5 890.1,321.7 890.4,323.8 890.6,315.0 890.9,321.4 891.1,325.7 891.4,324.9 891.6,320.3 891.9,320.7 892.2,328.4 892.4,326.8 892.7,325.7 892.9,330.5 893.2,334.1 893.4,334.6 893.7,332.7 893.9,336.0 894.2,338.3 894.4,336.1 894.7,333.4 894.9,334.7 895.2,338.0 895.5,332.0 895.7,340.3 896.0,338.4 896.2,342.6 896.5,336.7 896.7,339.9 897.0,345.1 897.2,343.0 897.5,336.0 897.7,339.8 898.0,342.5 898.2,341.0 898.5,349.1 898.8,347.6 899.0,349.5 899.3,348.4 899.5,347.4 899.8,345.1 900.0,344.0 900.3,344.4 900.5,339.7 900.8,349.3 901.0,348.3 901.3,347.2 901.5,351.7 901.8,351.0 902.1,349.8 902.3,354.5 902.6,351.3 902.8,349.9 903.1,357.5 903.3,361.7 903.6,355.7 903.8,359.6 904.1,356.9 904.3,359.2 904.6,357.7 904.9,356.0 905.1,357.7 905.4,361.9 905.6,365.0 905.9,369.5 906.1,369.6 906.4,366.7 906.6,365.2 906.9,368.4 907.1,369.1 907.4,372.9 907.6,374.1 907.9,375.2 908.2,369.7 908.4,377.9 908.7,371.4 908.9,376.8 909.2,373.9 909.4,375.9 909.7,375.9 909.9,375.9 910.2,382.5 910.4,384.2 910.7,383.8 910.9,385.9 911.2,382.9 911.5,385.8 911.7,386.2 912.0,385.7 912.2,388.7 912.5,385.0 912.7,393.7 913.0,388.8 913.2,388.8 913.5,393.1 913.7,393.9 914.0,390.7 914.2,395.1 914.5,400.6 914.8,400.3 915.0,395.1 915.3,401.4 915.5,396.4 915.8,397.3 916.0,402.3 916.3,401.2 916.5,405.6 916.8,405.2 917.0,406.7 917.3,403.7 917.6,409.1 917.8,406.4 918.1,406.7 918.3,406.3 918.6,414.2 918.8,414.0 919.1,412.5 919.3,411.8 919.6,411.9 919.8,413.1 920.1,409.6 920.3,414.4 920.6,415.7 920.9,419.4 921.1,417.1 921.4,418.4 921.6,419.5 921.9,422.5 922.1,421.5 922.4,420.1 922.6,427.0 922.9,431.4 923.1,424.8 923.4,426.0 923.6,429.5 923.9,431.1 924.2,424.0 924.4,433.3 924.7,436.4 924.9,435.7 925.2,434.6 925.4,438.8 925.7,439.4 925.9,438.9 926.2,442.1 926.4,441.9 926.7,443.3 926.9,446.9 927.2,445.0 927.5,448.8 927.7,444.1 928.0,449.3 928.2,448.2 928.5,452.7 928.7,449.8 929.0,452.3 929.2,446.0 929.5,450.7 929.7,449.8 930.0,456.4 930.2,456.1 930.5,454.5 930.8,458.5 931.0,453.3 931.3,458.1 931.5,457.9 931.8,458.8 932.0,461.0 932.3,459.7 932.5,464.3 932.8,462.6 933.0,461.4 933.3,464.6 933.6,465.7 933.8,467.6 934.1,467.4 934.3,466.6 934.6,469.6 934.8,473.9 935.1,470.1 935.3,471.6 935.6,470.9 935.8,472.9 936.1,470.2 936.3,477.9 936.6,478.5 936.9,475.7 937.1,480.8 937.4,478.5 937.6,480.4 937.9,486.2 938.1,481.1 938.4,480.3 938.6,484.0 938.9,488.8 939.1,484.4 939.4,489.7 939.6,488.5 939.9,488.4 940.2,492.4 940.4,495.7 940.7,493.1 940.9,494.1 941.2,497.3 941.4,498.4 941.7,496.1 941.9,499.3 942.2,501.3 942.4,502.5 942.7,501.6 942.9,502.5 943.2,504.0 943.5,507.7 943.7,506.0 944.0,507.4 944.2,506.8 944.5,505.2 944.7,506.6 945.0,508.4 945.2,510.7 945.5,512.8 945.7,512.3 946.0,515.1 946.2,515.8 946.5,517.7 946.8,516.6 947.0,517.3 947.3,513.6 947.5,517.3 947.8,520.4 948.0,518.8 948.3,522.6 948.5,520.4 948.8,522.1 949.0,518.6 949.3,528.8 949.6,527.9 949.8,529.3 950.1,529.4 950.3,529.4 950.6,534.0 950.8,534.4 951.1,533.2 951.3,532.5 951.6,538.0 951.8,539.9 952.1,534.8 952.3,536.3 952.6,536.9 952.9,542.5 953.1,542.0 953.4,542.1 953.6,542.5 953.9,544.7 954.1,545.5 954.4,544.1 954.6,548.2 954.9,549.5 955.1,550.1 955.4,551.2 955.6,550.7 955.9,552.2 956.2,553.6 956.4,550.5 956.7,553.8 956.9,556.1 957.2,553.7 957.4,558.5 957.7,558.3 957.9,559.5 958.2,561.5 958.4,562.4 958.7,562.6 958.9,567.0 959.2,565.9 959.5,565.6 959.7,566.6 960.0,567.5 960.2,564.2 960.5,568.5 960.7,571.2 961.0,571.8 961.2,572.3 961.5,572.3 961.7,574.6 962.0,571.9 962.2,578.1 962.5,575.7 962.8,577.1 963.0,581.4 963.3,578.9 963.5,580.2 963.8,583.7 964.0,578.9 964.3,583.1 964.5,586.2 964.8,587.4 965.0,588.8 965.3,587.7 965.6,589.0 965.8,592.8 966.1,593.1 966.3,593.4 966.6,593.8 966.8,594.7 967.1,596.3 967.3,594.8 967.6,595.3 967.8,598.0 968.1,603.4 968.3,600.7 968.6,600.4 968.9,602.6 969.1,603.2 969.4,604.6 969.6,608.9 969.9,612.2 970.1,607.4 970.4,610.6 970.6,609.8 970.9,612.2 971.1,612.9 971.4,610.8 971.6,616.6 971.9,615.2 972.2,618.0 972.4,616.4 972.7,616.3 972.9,616.8 973.2,618.8 973.4,622.9 973.7,620.6 973.9,620.4 974.2,621.2 974.4,619.9 974.7,624.1 974.9,628.3 975.2,628.1 975.5,627.7 975.7,626.4 976.0,631.6 976.2,628.1 976.5,629.5 976.7,633.6 977.0,631.6 977.2,635.4 977.5,634.9 977.7,636.6 978.0,636.5 978.3,640.7 978.5,638.1 978.8,644.7 979.0,641.8 979.3,642.7 979.5,638.7 979.8,641.5 980.0,644.4 980.3,645.9 980.5,644.6 980.8,646.4 981.0,640.9 981.3,652.3 981.6,647.0 981.8,653.3 982.1,646.8 982.3,651.5 982.6,647.0 982.8,652.4 983.1,649.7 983.3,652.5 983.6,651.1 983.8,654.4 984.1,661.6 984.3,657.2 984.6,659.5 984.9,654.6 985.1,656.1 985.4,657.8 985.6,657.3 985.9,658.4 986.1,660.7 986.4,655.7 986.6,660.1 986.9,661.7 987.1,665.3 987.4,664.1 987.6,663.4 987.9,664.6 988.2,666.0 988.4,665.6 988.7,668.6 988.9,666.7 989.2,670.7 989.4,669.9 989.7,670.3 989.9,667.4 990.2,669.1 990.4,670.8 990.7,674.4 990.9,673.5 991.2,671.7 991.5,671.6 991.7,678.7 992.0,677.4 992.2,677.1 992.5,677.3 992.7,678.8 993.0,678.1 993.2,683.7 993.5,677.8 993.7,685.0 994.0,683.2 994.3,682.9 994.5,682.1 994.8,683.5 995.0,684.3 995.3,684.2 995.5,688.3 995.8,686.9 996.0,685.8 996.3,691.6 996.5,693.5 996.8,693.3 997.0,688.6 997.3,689.9 997.6,694.3 997.8,693.6 998.1,693.8 998.3,693.2 998.6,700.8 998.8,698.7 999.1,699.0 999.3,698.6 999.6,700.0 999.8,701.7 1000.1,701.2 1000.3,708.8 1000.6,697.0 1000.9,703.3 1001.1,704.1 1001.4,708.7 1001.6,707.2 1001.9,704.4 1002.1,705.9 1002.4,710.8 1002.6,714.7 1002.9,712.2 1003.1,714.0 1003.4,712.1 1003.6,717.8 1003.9,716.2 1004.2,716.0 1004.4,718.6 1004.7,716.0 1004.9,722.1 1005.2,723.4 1005.4,722.4 1005.7,720.7 1005.9,724.5 1006.2,726.0 1006.4,723.6 1006.7,725.7 1006.9,728.3 1007.2,727.6 1007.5,729.2 1007.7,728.1 1008.0,730.2 1008.2,733.4 1008.5,733.3 1008.7,734.0 1009.0,733.0 1009.2,733.9 1009.5,737.7 1009.7,737.0 1010.0,736.5 1010.3,735.2 1010.5,737.9 1010.8,734.4 1011.0,740.1 1011.3,739.3 1011.5,742.7 1011.8,745.2 1012.0,743.4 1012.3,743.2 1012.5,744.5 1012.8,745.9 1013.0,748.1 1013.3,750.1 1013.6,749.7 1013.8,748.4 1014.1,748.1 1014.3,759.6 1014.6,750.5 1014.8,750.1 1015.1,750.4 1015.3,753.4 1015.6,753.3 1015.8,756.8 1016.1,756.5 1016.3,755.7 1016.6,760.6 1016.9,760.5 1017.1,758.8 1017.4,763.6 1017.6,760.9 1017.9,765.7 1018.1,762.3 1018.4,763.6 1018.6,765.9 1018.9,767.7 1019.1,767.3 1019.4,772.6 1019.6,768.6 1019.9,768.1 1020.2,766.2 1020.4,771.5 1020.7,771.5 1020.9,768.3 1021.2,768.4 1021.4,775.3 1021.7,772.1 1021.9,772.7 1022.2,775.4 1022.4,780.1 1022.7,780.5 1022.9,777.3 1023.2,773.4 1023.5,780.6 1023.7,776.6 1024.0,776.4 1024.2,785.3 1024.5,784.2 1024.7,779.2 1025.0,781.4 1025.2,783.4 1025.5,785.5 1025.7,784.4 1026.0,788.5 1026.3,780.6 1026.5,791.0 1026.8,793.5 1027.0,788.9 1027.3,786.1 1027.5,791.8 1027.8,791.1 1028.0,794.5 1028.3,792.7 1028.5,796.1 1028.8,797.0 1029.0,799.2 1029.3,797.5 1029.6,791.6 1029.8,797.6 1030.1,797.8 1030.3,793.1 1030.6,801.8 1030.8,803.5 1031.1,799.9 1031.3,805.3 1031.6,801.6 1031.8,799.9 1032.1,806.7 1032.3,805.7 1032.6,800.0 1032.9,808.1 1033.1,807.5 1033.4,805.4 1033.6,807.4 1033.9,809.3 1034.1,802.9 1034.4,809.6 1034.6,807.5 1034.9,810.1 1035.1,810.2 1035.4,814.1 1035.6,808.4 1035.9,813.0 1036.2,809.0 1036.4,816.7 1036.7,815.7 1036.9,813.9 1037.2,815.8 1037.4,818.7 1037.7,817.9 1037.9,821.7 1038.2,818.3 1038.4,826.4 1038.7,818.9 1039.0,816.0 1039.2,817.5 1039.5,817.9 1039.7,821.8 1040.0,819.5 1040.2,822.5 1040.5,822.2 1040.7,822.8 1041.0,832.6 1041.2,820.4 1041.5,822.2 1041.7,821.6 1042.0,827.2 1042.3,823.0 1042.5,824.2 1042.8,832.5 1043.0,831.6 1043.3,826.8 1043.5,829.4 1043.8,828.2 1044.0,830.7 1044.3,825.1 1044.5,835.8 1044.8,834.8 1045.0,834.1 1045.3,835.7 1045.6,833.9 1045.8,832.8 1046.1,837.2 1046.3,832.6 1046.6,830.3 1046.8,831.4 1047.1,829.0 1047.3,832.3 1047.6,836.4 1047.8,831.7 1048.1,835.7 1048.3,832.9 1048.6,840.0 1048.9,846.5 1049.1,844.6 1049.4,841.5 1049.6,841.2 1049.9,844.0 1050.1,841.0 1050.4,848.0 1050.6,847.1 1050.9,842.6 1051.1,845.9 1051.4,846.4 1051.6,843.1 1051.9,844.6 1052.2,851.0 1052.4,848.8 1052.7,855.5 1052.9,851.3 1053.2,851.2 1053.4,858.5 1053.7,849.2 1053.9,848.3 1054.2,853.3 1054.4,852.5 1054.7,851.2 1055.0,856.7 1055.2,853.2 1055.5,855.4 1055.7,861.2 1056.0,859.5 1056.2,858.8 1056.5,854.1 1056.7,857.5 1057.0,855.0 1057.2,859.7 1057.5,862.5 1057.7,852.5 1058.0,850.9 1058.3,858.7 1058.5,860.9 1058.8,856.9 1059.0,864.5 1059.3,862.1 1059.5,866.4 1059.8,860.9 1060.0,862.1 1060.3,864.6 1060.5,865.8 1060.8,868.9 1061.0,867.3 1061.3,861.3 1061.6,866.6 1061.8,861.9 1062.1,869.0 1062.3,867.0 1062.6,868.8 1062.8,868.8 1063.1,866.1 1063.3,875.3 1063.6,866.7 1063.8,867.3 1064.1,870.2 1064.3,870.5 1064.6,872.0 1064.9,869.5 1065.1,871.6 1065.4,874.6 1065.6,871.6 1065.9,869.4 1066.1,871.7 1066.4,872.9 1066.6,872.4 1066.9,874.7 1067.1,874.8 1067.4,879.7 1067.6,874.9 1067.9,871.8 1068.2,876.8 1068.4,879.0 1068.7,873.6 1068.9,876.6 1069.2,877.3 1069.4,876.7 1069.7,876.4 1069.9,879.2 1070.2,881.7 1070.4,873.0 1070.7,878.5 1071.0,881.3 1071.2,878.2 1071.5,874.7 1071.7,883.2 1072.0,874.3 1072.2,879.1 1072.5,872.1 1072.7,877.3 1073.0,880.7 1073.2,877.0 1073.5,877.6 1073.7,883.6 1074.0,882.6 1074.3,886.0 1074.5,882.0 1074.8,890.6 1075.0,886.9 1075.3,893.4 1075.5,884.0 1075.8,893.4 1076.0,889.4 1076.3,884.8 1076.5,886.6 1076.8,886.9 1077.0,888.3 1077.3,886.6 1077.6,891.0 1077.8,884.3 1078.1,883.0 1078.3,883.3 1078.6,886.2 1078.8,882.0 1079.1,884.8 1079.3,883.2 1079.6,885.5 1079.8,886.8 1080.1,889.7 1080.3,896.4 1080.6,884.8 1080.9,887.9 1081.1,880.9 1081.4,895.6 1081.6,885.7 1081.9,892.6 1082.1,889.6 1082.4,893.4 1082.6,889.5 1082.9,891.7 1083.1,889.2 1083.4,892.5 1083.6,891.8 1083.9,889.5 1084.2,892.7 1084.4,895.7 1084.7,891.1 1084.9,896.4 1085.2,894.8 1085.4,897.5 1085.7,898.6 1085.9,906.9 1086.2,893.1 1086.4,899.6 1086.7,892.6 1087.0,888.5 1087.2,899.6 1087.5,891.1 1087.7,894.5 1088.0,892.3 1088.2,898.5 1088.5,894.2 1088.7,894.0 1089.0,889.4 1089.2,886.8 1089.5,893.5 1089.7,896.1 1090.0,886.8 1090.3,895.3 1090.5,895.2 1090.8,894.6 1091.0,893.1 1091.3,892.1 1091.5,896.9 1091.8,895.3 1092.0,888.0 1092.3,889.1 1092.5,893.3 1092.8,893.9 1093.0,895.5 1093.3,890.3 1093.6,895.6 1093.8,892.5 1094.1,894.0 1094.3,893.8 1094.6,890.8 1094.8,890.4 1095.1,892.3 1095.3,890.0 1095.6,889.6 1095.8,891.9 1096.1,893.0 1096.3,891.6 1096.6,889.0 1096.9,888.1 1097.1,891.7 1097.4,893.6 1097.6,893.0 1097.9,885.9 1098.1,889.3 1098.4,896.1 1098.6,892.3 1098.9,893.5 1099.1,892.3 1099.4,896.7 1099.7,890.3 1099.9,895.3 1100.2,892.1 1100.4,883.9 1100.7,885.6 1100.9,892.3 1101.2,892.9 1101.4,892.5 1101.7,896.1 1101.9,892.8 1102.2,889.8 1102.4,892.3 1102.7,885.4 1103.0,888.2 1103.2,890.0 1103.5,881.6 1103.7,885.3 1104.0,887.5 1104.2,880.9 1104.5,882.7 1104.7,890.2 1105.0,886.4 1105.2,889.2 1105.5,892.8 1105.7,880.4 1106.0,881.6 1106.3,891.5 1106.5,884.6 1106.8,891.7 1107.0,881.1 1107.3,884.7 1107.5,885.2 1107.8,879.1 1108.0,883.2 1108.3,883.9 1108.5,879.5 1108.8,883.6 1109.0,879.5 1109.3,882.7 1109.6,880.0 1109.8,880.8 1110.1,880.2 1110.3,886.6 1110.6,876.6 1110.8,883.6 1111.1,876.9 1111.3,884.8 1111.6,883.6 1111.8,883.5 1112.1,878.6 1112.3,883.8 1112.6,880.9 1112.9,887.3 1113.1,883.4 1113.4,880.8 1113.6,881.7 1113.9,887.4 1114.1,879.1 1114.4,883.5 1114.6,873.4 1114.9,879.9 1115.1,871.2 1115.4,876.1 1115.7,876.4 1115.9,879.2 1116.2,877.6 1116.4,875.3 1116.7,882.7 1116.9,872.6 1117.2,879.3 1117.4,876.1 1117.7,883.9 1117.9,872.9 1118.2,871.3 1118.4,871.9 1118.7,871.0 1119.0,872.5 1119.2,870.3 1119.5,866.3 1119.7,870.9 1120.0,867.1 1120.2,865.7 1120.5,868.3 1120.7,866.5 1121.0,866.4 1121.2,868.5 1121.5,858.9 1121.7,867.7 1122.0,860.6 1122.3,862.6 1122.5,872.5 1122.8,865.3 1123.0,862.7 1123.3,863.0 1123.5,868.3 1123.8,864.4 1124.0,868.6 1124.3,867.8 1124.5,864.9 1124.8,863.0 1125.0,857.9 1125.3,861.1 1125.6,858.4 1125.8,865.1 1126.1,864.5 1126.3,862.0 1126.6,854.5 1126.8,863.6 1127.1,864.0 1127.3,858.8 1127.6,854.2 1127.8,862.4 1128.1,857.4 1128.3,860.0 1128.6,850.4 1128.9,851.8 1129.1,852.3 1129.4,852.5 1129.6,852.3 1129.9,850.3 1130.1,852.1 1130.4,852.1 1130.6,852.0 1130.9,847.7 1131.1,849.3 1131.4,843.5 1131.7,852.0 1131.9,843.3 1132.2,842.9 1132.4,840.6 1132.7,844.8 1132.9,848.4 1133.2,846.5 1133.4,840.1 1133.7,844.5 1133.9,844.8 1134.2,845.1 1134.4,843.1 1134.7,842.9 1135.0,846.1 1135.2,842.2 1135.5,836.5 1135.7,833.9 1136.0,837.7 1136.2,837.9 1136.5,830.9 1136.7,834.4 1137.0,836.4 1137.2,832.3 1137.5,829.1 1137.7,825.9 1138.0,831.3 1138.3,827.8 1138.5,829.6 1138.8,824.5 1139.0,826.6 1139.3,826.0 1139.5,829.1 1139.8,826.6 1140.0,826.0 1140.3,834.9 1140.5,820.8 1140.8,822.5 1141.0,822.3 1141.3,822.1 1141.6,820.5 1141.8,819.4 1142.1,823.4 1142.3,818.5 1142.6,818.0 1142.8,818.0 1143.1,822.0 1143.3,817.8 1143.6,820.9 1143.8,815.5 1144.1,812.0 1144.3,812.7 1144.6,815.5 1144.9,815.4 1145.1,814.6 1145.4,811.0 1145.6,813.2 1145.9,812.0 1146.1,816.9 1146.4,811.3 1146.6,810.2 1146.9,808.7 1147.1,803.0 1147.4,809.8 1147.7,809.3 1147.9,803.1 1148.2,807.1 1148.4,803.9 1148.7,802.1 1148.9,801.8 1149.2,803.5 1149.4,797.8 1149.7,795.3 1149.9,801.8 1150.2,798.8 1150.4,794.4 1150.7,796.9 1151.0,798.5 1151.2,796.2 1151.5,791.8 1151.7,796.4 1152.0,792.1 1152.2,791.0 1152.5,793.5 1152.7,789.4 1153.0,788.8 1153.2,787.6 1153.5,787.5 1153.7,794.2 1154.0,787.1 1154.3,787.8 1154.5,786.6 1154.8,791.7 1155.0,786.3 1155.3,787.3 1155.5,791.0 1155.8,783.2 1156.0,788.2 1156.3,788.0 1156.5,783.2 1156.8,785.1 1157.0,781.4 1157.3,782.3 1157.6,780.1 1157.8,778.0 1158.1,779.9 1158.3,777.1 1158.6,776.8 1158.8,781.3 1159.1,776.2 1159.3,776.5 1159.6,777.6 1159.8,774.5 1160.1,772.6 1160.4,774.8 1160.6,780.7 1160.9,775.0 1161.1,776.3 1161.4,776.2 1161.6,773.9 1161.9,775.1 1162.1,769.1 1162.4,772.2 1162.6,772.2 1162.9,769.3 1163.1,768.4 1163.4,766.3 1163.7,766.8 1163.9,767.7 1164.2,766.6 1164.4,772.2 1164.7,769.4 1164.9,761.7 1165.2,764.6 1165.4,757.9 1165.7,757.2 1165.9,764.7 1166.2,759.7 1166.4,751.9 1166.7,760.9 1167.0,756.8 1167.2,758.0 1167.5,757.4 1167.7,756.9 1168.0,755.5 1168.2,752.7 1168.5,756.3 1168.7,752.3 1169.0,755.0 1169.2,751.4 1169.5,751.3 1169.7,753.5 1170.0,750.1 1170.3,751.7 1170.5,751.4 1170.8,745.3 1171.0,752.5 1171.3,745.4 1171.5,744.2 1171.8,746.7 1172.0,741.7 1172.3,741.6 1172.5,746.9 1172.8,741.4 1173.0,740.9 1173.3,743.4 1173.6,739.5 1173.8,738.6 1174.1,741.9 1174.3,744.7 1174.6,737.6 1174.8,739.9 1175.1,741.7 1175.3,737.6 1175.6,742.2 1175.8,736.2 1176.1,730.5 1176.4,740.8 1176.6,731.2 1176.9,733.8 1177.1,731.7 1177.4,732.2 1177.6,727.4 1177.9,728.2 1178.1,729.4 1178.4,730.0 1178.6,727.1 1178.9,722.6 1179.1,728.2 1179.4,723.6 1179.7,723.3 1179.9,728.5 1180.2,720.2 1180.4,722.4 1180.7,716.0 1180.9,716.5 1181.2,720.5 1181.4,719.2 1181.7,720.0 1181.9,719.7 1182.2,713.2 1182.4,714.5 1182.7,713.6 1183.0,711.7 1183.2,708.4 1183.5,706.6 1183.7,707.4 1184.0,706.7 1184.2,704.9 1184.5,699.1 1184.7,707.9 1185.0,704.6 1185.2,699.9 1185.5,699.7 1185.7,696.2 1186.0,695.1 1186.3,692.8 1186.5,698.6 1186.8,694.6 1187.0,695.8 1187.3,692.2 1187.5,693.3 1187.8,690.6 1188.0,693.5 1188.3,690.4 1188.5,691.0 1188.8,689.2 1189.0,688.4 1189.3,688.5 1189.6,682.1 1189.8,682.7 1190.1,679.5 1190.3,683.2 1190.6,684.1 1190.8,679.7 1191.1,677.4 1191.3,674.2 1191.6,672.7 1191.8,671.3 1192.1,669.7 1192.4,670.8 1192.6,671.4 1192.9,672.7 1193.1,668.7 1193.4,670.7 1193.6,670.4 1193.9,666.2 1194.1,666.1 1194.4,663.7 1194.6,666.5 1194.9,661.2 1195.1,662.2 1195.4,662.5 1195.7,662.9 1195.9,662.7 1196.2,662.6 1196.4,655.3 1196.7,660.9 1196.9,655.2 1197.2,656.3 1197.4,656.1 1197.7,654.9 1197.9,653.0 1198.2,649.7 1198.4,649.6 1198.7,649.9 1199.0,652.3 1199.2,652.5 1199.5,643.4 1199.7,649.2 1200.0,649.8 1200.2,643.1 1200.5,648.5 1200.7,643.0 1201.0,642.1 1201.2,643.1 1201.5,640.7 1201.7,645.4 1202.0,644.4 1202.3,641.5 1202.5,640.4 1202.8,639.7 1203.0,637.7 1203.3,639.6 1203.5,641.9 1203.8,635.3 1204.0,635.9 1204.3,632.7 1204.5,628.9 1204.8,632.5 1205.0,630.4 1205.3,633.0 1205.6,627.9 1205.8,628.2 1206.1,627.6 1206.3,625.1 1206.6,628.9 1206.8,624.2 1207.1,623.7 1207.3,620.4 1207.6,627.3 1207.8,622.6 1208.1,617.0 1208.4,622.1 1208.6,621.4 1208.9,615.9 1209.1,613.6 1209.4,618.3 1209.6,619.4 1209.9,618.3 1210.1,616.9 1210.4,616.9 1210.6,615.8 1210.9,612.8 1211.1,612.1 1211.4,609.9 1211.7,609.8 1211.9,611.4 1212.2,606.1 1212.4,606.1 1212.7,607.1 1212.9,605.6 1213.2,603.3 1213.4,603.0 1213.7,602.6 1213.9,599.9 1214.2,598.5 1214.4,600.9 1214.7,599.6 1215.0,601.4 1215.2,598.8 1215.5,596.7 1215.7,595.4 1216.0,596.4 1216.2,596.5 1216.5,597.4 1216.7,594.7 1217.0,596.8 1217.2,593.4 1217.5,592.6 1217.7,593.6 1218.0,590.0 1218.3,590.2 1218.5,587.3 1218.8,588.3 1219.0,584.9 1219.3,581.3 1219.5,583.0 1219.8,580.3 1220.0,582.1 1220.3,580.2 1220.5,582.2 1220.8,576.9 1221.1,577.6 1221.3,573.6 1221.6,576.9 1221.8,572.8 1222.1,569.4 1222.3,567.5 1222.6,570.8 1222.8,566.7 1223.1,559.2 1223.3,561.9 1223.6,562.2 1223.8,567.3 1224.1,562.6 1224.4,558.9 1224.6,558.7 1224.9,557.5 1225.1,555.7 1225.4,556.9 1225.6,554.6 1225.9,559.7 1226.1,549.6 1226.4,555.4 1226.6,555.9 1226.9,550.0 1227.1,551.6 1227.4,549.9 1227.7,554.7 1227.9,551.6 1228.2,550.0 1228.4,556.7 1228.7,553.2 1228.9,553.3 1229.2,553.5 1229.4,555.0 1229.7,557.4 1229.9,551.4 1230.2,552.4 1230.4,549.1 1230.7,554.3 1231.0,557.2 1231.2,560.6 1231.5,554.9 1231.7,556.5 1232.0,547.6 1232.2,546.5 1232.5,549.2 1232.7,558.7 1233.0,560.5 1233.2,555.9 1233.5,558.4 1233.7,549.4 1234.0,554.7 1234.3,557.0 1234.5,555.8 1234.8,551.1 1235.0,559.7 1235.3,554.5 1235.5,561.8 1235.8,557.5 1236.0,559.6 1236.3,555.9 1236.5,556.6 1236.8,552.8 1237.1,554.9 1237.3,560.0 1237.6,563.2 1237.8,561.3 1238.1,559.8 1238.3,559.1 1238.6,561.0 1238.8,553.8 1239.1,554.3 1239.3,558.8 1239.6,559.3 1239.8,558.0 1240.1,556.8 1240.4,556.4 1240.6,562.5 1240.9,557.8 1241.1,563.4 1241.4,556.1 1241.6,553.8 1241.9,560.9 1242.1,556.7 1242.4,560.3 1242.6,561.2 1242.9,551.5 1243.1,556.0 1243.4,557.9 1243.7,561.8 1243.9,558.7 1244.2,561.0 1244.4,558.3 1244.7,563.2 1244.9,559.9 1245.2,560.9 1245.4,564.5 1245.7,552.1 1245.9,555.1 1246.2,560.8 1246.4,563.1 1246.7,559.9 1247.0,560.3 1247.2,559.7 1247.5,563.1 1247.7,560.4 1248.0,557.2 1248.2,556.5 1248.5,566.4 1248.7,559.2 1249.0,563.8 1249.2,564.7 1249.5,562.5 1249.7,564.2 1250.0,559.5 1250.3,560.0 1250.5,564.0 1250.8,565.4 1251.0,556.0 1251.3,555.9 1251.5,561.6 1251.8,563.4 1252.0,558.7 1252.3,556.7 1252.5,564.0 1252.8,554.7 1253.1,562.3 1253.3,557.4 1253.6,563.4 1253.8,560.9 1254.1,562.8 1254.3,560.9 1254.6,557.2 1254.8,565.0 1255.1,562.9 1255.3,559.6 1255.6,563.7 1255.8,553.9 1256.1,567.8 1256.4,552.3 1256.6,565.0 1256.9,558.9 1257.1,556.4 1257.4,560.6 1257.6,568.2 1257.9,564.2 1258.1,562.6 1258.4,560.8 1258.6,559.5 1258.9,559.3 1259.1,558.4 1259.4,568.3 1259.7,561.3 1259.9,572.5 1260.2,565.3 1260.4,570.3 1260.7,573.5 1260.9,563.2 1261.2,566.8 1261.4,562.6 1261.7,572.4 1261.9,570.5 1262.2,565.8 1262.4,567.8 1262.7,564.8 1263.0,567.4 1263.2,566.1 1263.5,568.9 1263.7,559.3 1264.0,565.6 1264.2,568.9 1264.5,561.5 1264.7,561.9 1265.0,562.9 1265.2,562.9 1265.5,565.6 1265.7,564.9 1266.0,573.7 1266.3,571.6 1266.5,570.8 1266.8,565.5 1267.0,562.3 1267.3,568.3 1267.5,569.0 1267.8,563.6 1268.0,569.3 1268.3,564.9 1268.5,565.3 1268.8,571.7 1269.1,564.8 1269.3,564.7 1269.6,569.8 1269.8,569.0 1270.1,569.8 1270.3,559.2 1270.6,556.3 1270.8,562.0 1271.1,558.8 1271.3,570.5 1271.6,559.9 1271.8,557.8 1272.1,559.2 1272.4,569.6 1272.6,561.9 1272.9,567.0 1273.1,562.6 1273.4,569.6 1273.6,567.0 1273.9,569.5 1274.1,565.5 1274.4,568.3 1274.6,563.7 1274.9,564.7 1275.1,566.4 1275.4,568.1 1275.7,569.2 1275.9,567.9 1276.2,565.2 1276.4,567.6 1276.7,566.9 1276.9,568.0 1277.2,568.2 1277.4,570.9 1277.7,575.8 1277.9,566.2 1278.2,566.2 1278.4,572.1 1278.7,560.3 1279.0,572.4 1279.2,563.7 1279.5,566.4 1279.7,565.8 1280.0,562.1 1280.2,562.7 1280.5,566.1 1280.7,570.5 1281.0,571.3 1281.2,566.2 1281.5,561.0 1281.8,564.1 1282.0,568.0 1282.3,567.1 1282.5,566.2 1282.8,562.2 1283.0,572.0 1283.3,565.9 1283.5,567.6 1283.8,571.5 1284.0,572.3 1284.3,563.2 1284.5,567.0 1284.8,568.8 1285.1,567.5 1285.3,564.5 1285.6,568.5 1285.8,563.0 1286.1,570.9 1286.3,573.5 1286.6,571.3 1286.8,575.0 1287.1,573.2 1287.3,567.7 1287.6,566.2 1287.8,570.5 1288.1,572.0 1288.4,576.3 1288.6,576.4 1288.9,570.5 1289.1,571.2 1289.4,574.0 1289.6,573.0 1289.9,564.4 1290.1,566.4 1290.4,570.0 1290.6,569.3 1290.9,565.2 1291.1,569.1 1291.4,569.7 1291.7,576.9 1291.9,577.3 1292.2,578.4 1292.4,580.2 1292.7,571.7 1292.9,570.7 1293.2,575.9 1293.4,571.1 1293.7,571.7 1293.9,574.2 1294.2,580.1 1294.4,569.0 1294.7,569.8 1295.0,577.7 1295.2,567.8 1295.5,575.2 1295.7,578.3 1296.0,576.5 1296.2,581.8 1296.5,575.6 1296.7,580.3 1297.0,569.1 1297.2,572.0 1297.5,578.7 1297.8,570.8 1298.0,579.9 1298.3,572.4 1298.5,571.2 1298.8,572.9 1299.0,577.5 1299.3,573.4 1299.5,573.6 1299.8,572.5 1300.0,566.6 1300.3,565.3 1300.5,565.4 1300.8,573.8 1301.1,573.9 1301.3,570.6 1301.6,568.7 1301.8,578.4 1302.1,572.6 1302.3,563.0 1302.6,575.1 1302.8,573.4 1303.1,573.5 1303.3,569.0 1303.6,571.3 1303.8,572.5 1304.1,577.4 1304.4,569.1 1304.6,571.6 1304.9,574.1 1305.1,571.3 1305.4,567.9 1305.6,576.6 1305.9,576.6 1306.1,574.3 1306.4,573.4 1306.6,581.7 1306.9,571.7 1307.1,564.6 1307.4,570.3 1307.7,564.7 1307.9,580.3 1308.2,569.5 1308.4,563.6 1308.7,562.8 1308.9,571.2 1309.2,572.7 1309.4,568.1 1309.7,574.5 1309.9,571.3 1310.2,576.8 1310.4,569.9 1310.7,570.3 1311.0,564.3 1311.2,569.8 1311.5,574.2 1311.7,572.3 1312.0,577.4 1312.2,572.7 1312.5,574.1 1312.7,571.9 1313.0,570.3 1313.2,582.3 1313.5,573.0 1313.8,571.4 1314.0,579.1 1314.3,566.7 1314.5,577.0 1314.8,563.9 1315.0,570.2 1315.3,569.4 1315.5,571.8 1315.8,568.6 1316.0,576.6 1316.3,575.6 1316.5,580.3 1316.8,570.4 1317.1,575.4 1317.3,569.8 1317.6,570.4 1317.8,578.1 1318.1,570.2 1318.3,572.4 1318.6,573.0 1318.8,572.2 1319.1,574.1 1319.3,574.3 1319.6,570.6 1319.8,579.2 1320.1,580.5 1320.4,579.0 1320.6,571.9 1320.9,577.1 1321.1,568.2 1321.4,588.2 1321.6,579.1 1321.9,578.1 1322.1,575.0 1322.4,570.6 1322.6,576.6 1322.9,580.1 1323.1,573.0 1323.4,570.4 1323.7,586.8 1323.9,574.2 1324.2,575.1 1324.4,579.2 1324.7,577.7 1324.9,574.7 1325.2,575.5 1325.4,576.4 1325.7,579.7 1325.9,573.5 1326.2,576.9 1326.4,573.6 1326.7,576.1 1327.0,573.0 1327.2,570.7 1327.5,572.4 1327.7,570.6 1328.0,578.4 1328.2,570.8 1328.5,571.1 1328.7,574.5 1329.0,572.5 1329.2,582.7 1329.5,570.9 1329.8,572.7 1330.0,579.9 1330.3,568.7 1330.5,573.2 1330.8,569.9 1331.0,572.5 1331.3,570.2 1331.5,572.2 1331.8,574.2 1332.0,571.7 1332.3,570.6 1332.5,583.4 1332.8,574.6 1333.1,577.3 1333.3,579.4 1333.6,569.8 1333.8,571.0 1334.1,578.8 1334.3,578.9 1334.6,570.9 1334.8,576.5 1335.1,574.9 1335.3,581.2 1335.6,573.8 1335.8,568.4 1336.1,574.4 1336.4,573.0 1336.6,566.0 1336.9,570.0 1337.1,568.4 1337.4,572.1 1337.6,570.8 1337.9,582.9 1338.1,580.1 1338.4,583.9 1338.6,568.9 1338.9,577.0 1339.1,577.8 1339.4,579.6 1339.7,579.9 1339.9,586.2 1340.2,565.1 1340.4,573.4 1340.7,572.2 1340.9,577.9 1341.2,572.4 1341.4,570.4 1341.7,572.3 1341.9,569.6 1342.2,575.7 1342.5,571.5 1342.7,569.8 1343.0,571.7 1343.2,572.7 1343.5,574.8 1343.7,578.5 1344.0,573.0 1344.2,577.4 1344.5,580.2 1344.7,573.9 1345.0,583.7 1345.2,579.6 1345.5,574.5 1345.8,574.1 1346.0,579.5 1346.3,577.8 1346.5,575.8 1346.8,578.1 1347.0,580.8 1347.3,575.9 1347.5,576.9 1347.8,577.2 1348.0,573.0 1348.3,576.2 1348.5,579.1 1348.8,576.5 1349.1,569.3 1349.3,579.8 1349.6,577.9 1349.8,579.9 1350.1,575.2 1350.3,581.6 1350.6,574.8 1350.8,573.4 1351.1,579.5 1351.3,580.0 1351.6,582.8 1351.8,576.9 1352.1,581.7 1352.4,580.0 1352.6,579.4 1352.9,580.6 1353.1,574.7 1353.4,571.9 1353.6,586.8 1353.9,581.5 1354.1,577.1 1354.4,582.0 1354.6,579.7 1354.9,576.5 1355.1,571.6 1355.4,572.6 1355.7,578.4 1355.9,576.7 1356.2,578.7 1356.4,577.9 1356.7,581.9 1356.9,584.2 1357.2,578.7 1357.4,573.6 1357.7,574.4 1357.9,584.6 1358.2,577.9 1358.5,579.5 1358.7,576.0 1359.0,581.7 1359.2,574.0 1359.5,578.6 1359.7,575.6 1360.0,574.2 1360.2,585.2 1360.5,578.2 1360.7,571.0 1361.0,576.4 1361.2,571.6 1361.5,573.5 1361.8,576.5 1362.0,572.8 1362.3,569.2 1362.5,568.0 1362.8,567.1 1363.0,577.2 1363.3,569.4 1363.5,578.2 1363.8,573.5 1364.0,573.9 1364.3,570.7 1364.5,571.9 1364.8,568.3 1365.1,575.7 1365.3,570.0 1365.6,571.7 1365.8,573.0 1366.1,577.6 1366.3,570.6 1366.6,571.5 1366.8,569.7 1367.1,573.0 1367.3,574.2 1367.6,571.8 1367.8,571.7 1368.1,571.2 1368.4,567.1 1368.6,577.7 1368.9,567.9 1369.1,588.0 1369.4,572.8 1369.6,580.2 1369.9,569.2 1370.1,580.9 1370.4,573.4 1370.6,581.7 1370.9,582.1 1371.1,574.3 1371.4,573.8 1371.7,580.0 1371.9,568.0 1372.2,578.8 1372.4,571.4 1372.7,581.5 1372.9,581.2 1373.2,576.9 1373.4,581.3 1373.7,575.3 1373.9,585.6 1374.2,576.2 1374.5,578.6 1374.7,579.5 1375.0,574.5 1375.2,575.8 1375.5,576.4 1375.7,571.1 1376.0,572.8 1376.2,572.3 1376.5,568.3 1376.7,573.6 1377.0,570.1 1377.2,575.4 1377.5,571.6 1377.8,572.1 1378.0,576.7 1378.3,580.6 1378.5,579.8 1378.8,578.4 1379.0,572.6 1379.3,575.5 1379.5,576.2 1379.8,573.0 1380.0,571.5 1380.3,568.3 1380.5,575.9 1380.8,571.1 1381.1,570.1 1381.3,576.5 1381.6,572.1 1381.8,576.0 1382.1,573.1 1382.3,570.5 1382.6,579.4 1382.8,576.7 1383.1,576.7 1383.3,573.5 1383.6,577.3 1383.8,573.3 1384.1,578.5 1384.4,577.5 1384.6,573.2 1384.9,574.4 1385.1,575.0 1385.4,575.5 1385.6,571.2 1385.9,569.3 1386.1,576.0 1386.4,577.2 1386.6,578.4 1386.9,567.3 1387.1,577.9 1387.4,579.8 1387.7,573.8 1387.9,571.0 1388.2,580.6 1388.4,576.8 1388.7,582.7 1388.9,580.3 1389.2,571.6 1389.4,578.1 1389.7,580.3 1389.9,579.4 1390.2,579.0 1390.5,580.8 1390.7,585.2 1391.0,585.2 1391.2,572.4 1391.5,583.1 1391.7,575.1 1392.0,582.1 1392.2,573.8 1392.5,575.7 1392.7,578.8 1393.0,569.7 1393.2,581.0 1393.5,578.1 1393.8,580.5 1394.0,580.2 1394.3,578.9 1394.5,581.6 1394.8,579.4 1395.0,572.0 1395.3,585.3 1395.5,583.4 1395.8,582.1 1396.0,579.9 1396.3,573.8 1396.5,574.4 1396.8,574.5 1397.1,574.6 1397.3,565.3 1397.6,578.8 1397.8,578.6 1398.1,574.0 1398.3,573.0 1398.6,574.8 1398.8,577.4 1399.1,579.6 1399.3,576.1 1399.6,578.3 1399.8,577.7 1400.1,579.9 1400.4,570.3 1400.6,573.9 1400.9,568.5 1401.1,577.9 1401.4,575.6 1401.6,577.0 1401.9,575.9 1402.1,577.2 1402.4,577.1 1402.6,584.7 1402.9,578.2 1403.2,574.6 1403.4,585.2 1403.7,579.0 1403.9,575.4 1404.2,572.5 1404.4,577.6 1404.7,575.2 1404.9,569.9 1405.2,571.3 1405.4,577.9 1405.7,578.1 1405.9,571.3 1406.2,574.0 1406.5,576.6 1406.7,575.0 1407.0,572.7 1407.2,574.7 1407.5,574.6 1407.7,574.6 1408.0,579.4 1408.2,566.7 1408.5,568.8 1408.7,567.8 1409.0,574.4 1409.2,573.7 1409.5,572.2 1409.8,571.6 1410.0,582.6 1410.3,574.5 1410.5,580.4 1410.8,577.2 1411.0,580.2 1411.3,571.4 1411.5,576.4 1411.8,578.8 1412.0,573.4 1412.3,578.9 1412.5,581.2 1412.8,578.7 1413.1,579.1 1413.3,577.2 1413.6,573.4 1413.8,576.6 1414.1,576.0 1414.3,571.3 1414.6,573.6 1414.8,570.7 1415.1,573.6 1415.3,578.8 1415.6,577.8 1415.8,579.6 1416.1,568.5 1416.4,571.3 1416.6,574.7 1416.9,576.8 1417.1,571.6 1417.4,573.7 1417.6,572.2 1417.9,577.1 1418.1,578.4 1418.4,567.8 1418.6,577.8 1418.9,574.3 1419.2,569.0 1419.4,581.4 1419.7,571.3 1419.9,573.7 1420.2,574.3 1420.4,572.6 1420.7,578.4 1420.9,582.7 1421.2,566.8 1421.4,575.2 1421.7,570.6 1421.9,570.1 1422.2,573.8 1422.5,573.6 1422.7,573.1 1423.0,570.0 1423.2,574.5 1423.5,571.5 1423.7,577.9 1424.0,579.0 1424.2,577.3 1424.5,576.1 1424.7,575.4 1425.0,569.7 1425.2,573.6 1425.5,576.1 1425.8,568.3 1426.0,574.7 1426.3,574.1 1426.5,572.9 1426.8,575.5 1427.0,578.0 1427.3,572.8 1427.5,574.2 1427.8,576.5 1428.0,572.8 1428.3,574.1 1428.5,575.5 1428.8,580.1 1429.1,574.2 1429.3,567.0 1429.6,571.0 1429.8,570.7 1430.1,575.5 1430.3,571.5 1430.6,578.3 1430.8,577.5 1431.1,573.9 1431.3,581.8 1431.6,576.1 1431.8,575.0 1432.1,569.4 1432.4,578.6 1432.6,574.0 1432.9,578.0 1433.1,577.6 1433.4,586.2 1433.6,579.3 1433.9,571.0 1434.1,573.4 1434.4,574.8 1434.6,565.5 1434.9,573.0 1435.2,579.9 1435.4,576.0 1435.7,575.5 1435.9,569.0 1436.2,579.0 1436.4,573.9 1436.7,572.0 1436.9,579.3 1437.2,576.2 1437.4,584.9 1437.7,577.1 1437.9,586.3 1438.2,579.5 1438.5,571.1 1438.7,576.3 1439.0,577.6 1439.2,577.1 1439.5,568.9 1439.7,574.8 1440.0,572.6 1440.2,578.1 1440.5,577.9 1440.7,579.9 1441.0,576.3 1441.2,577.9 1441.5,571.2 1441.8,572.5 1442.0,575.7 1442.3,577.7 1442.5,587.2 1442.8,578.5 1443.0,575.3 1443.3,574.3 1443.5,589.5 1443.8,587.5 1444.0,577.8 1444.3,582.7 1444.5,579.5 1444.8,580.1 1445.1,575.5 1445.3,584.4 1445.6,578.7 1445.8,572.0 1446.1,574.0 1446.3,577.2 1446.6,571.4 1446.8,571.5 1447.1,575.7 1447.3,569.3 1447.6,569.3 1447.8,572.7 1448.1,568.7 1448.4,577.1 1448.6,569.7 1448.9,573.8 1449.1,577.0 1449.4,575.9 1449.6,569.3 1449.9,576.3 1450.1,575.7 1450.4,576.9 1450.6,577.7 1450.9,571.4 1451.2,567.0 1451.4,571.0 1451.7,574.7 1451.9,574.3 1452.2,578.9 1452.4,579.7 1452.7,582.6 1452.9,572.7 1453.2,579.9 1453.4,581.2 1453.7,580.8 1453.9,577.1 1454.2,579.6 1454.5,576.9 1454.7,576.1 1455.0,571.2 1455.2,581.1 1455.5,574.7 1455.7,578.2 1456.0,576.9 1456.2,568.4 1456.5,572.3 1456.7,576.3 1457.0,572.8 1457.2,575.0 1457.5,570.9 1457.8,577.3 1458.0,573.9 1458.3,576.9 1458.5,576.4 1458.8,577.5 1459.0,579.5 1459.3,576.8 1459.5,573.7 1459.8,579.4 1460.0,578.1 1460.3,574.9 1460.5,578.2 1460.8,572.3 1461.1,572.5 1461.3,581.8 1461.6,576.2 1461.8,577.2 1462.1,570.8 1462.3,570.2 1462.6,576.6 1462.8,574.8 1463.1,572.8 1463.3,573.5 1463.6,569.7 1463.9,568.5 1464.1,569.3 1464.4,567.1 1464.6,567.1 1464.9,569.8 1465.1,570.5"/>
<polyline stroke="#ff0000" points="195.5,575.2 195.8,576.8 196.0,579.3 196.3,581.8 196.5,583.1 196.8,585.3 197.0,585.6 197.3,585.4 197.5,588.7 197.8,589.9 198.0,589.2 198.3,590.0 198.5,591.0 198.8,593.0 199.1,592.2 199.3,591.7 199.6,595.2 199.8,594.3 200.1,597.1 200.3,596.5 200.6,598.0 200.8,595.1 201.1,597.5 201.3,594.1 201.6,594.4 201.8,595.2 202.1,600.3 202.4,595.9 202.6,594.9 202.9,594.5 203.1,598.2 203.4,595.9 203.6,597.0 203.9,596.6 204.1,592.6 204.4,596.6 204.6,594.9 204.9,592.9 205.2,596.1 205.4,595.1 205.7,594.6 205.9,594.7 206.2,597.5 206.4,594.6 206.7,591.8 206.9,598.1 207.2,592.8 207.4,594.4 207.7,596.0 207.9,590.2 208.2,592.9 208.5,597.1 208.7,594.3 209.0,593.1 209.2,594.7 209.5,592.8 209.7,594.3 210.0,592.7 210.2,591.0 210.5,595.4 210.7,593.5 211.0,594.8 211.2,593.5 211.5,596.2 211.8,594.8 212.0,593.9 212.3,591.6 212.5,591.0 212.8,596.1 213.0,594.9 213.3,591.8 213.5,597.3 213.8,594.0 214.0,593.2 214.3,590.3 214.5,591.4 214.8,593.4 215.1,593.4 215.3,593.1 215.6,589.3 215.8,593.2 216.1,592.9 216.3,591.4 216.6,592.3 216.8,592.3 217.1,594.1 217.3,591.7 217.6,592.5 217.8,589.1 218.1,590.0 218.4,591.4 218.6,589.8 218.9,591.8 219.1,588.7 219.4,590.8 219.6,589.5 219.9,593.3 220.1,589.7 220.4,593.9 220.6,594.5 220.9,590.7 221.2,591.8 221.4,589.4 221.7,584.8 221.9,591.2 222.2,590.6 222.4,588.8 222.7,588.0 222.9,589.3 223.2,589.3 223.4,587.2 223.7,587.5 223.9,590.7 224.2,588.6 224.5,588.2 224.7,590.4 225.0,587.5 225.2,589.7 225.5,585.8 225.7,587.3 226.0,587.4 226.2,588.7 226.5,587.6 226.7,591.5 227.0,589.6 227.2,586.4 227.5,591.6 227.8,585.3 228.0,590.7 228.3,585.4 228.5,588.7 228.8,585.2 229.0,586.5 229.3,590.0 229.5,584.0 229.8,583.5 230.0,586.6 230.3,587.0 230.5,586.7 230.8,588.3 231.1,583.8 231.3,587.3 231.6,586.2 231.8,587.7 232.1,587.3 232.3,588.7 232.6,583.1 232.8,586.1 233.1,583.6 233.3,585.6 233.6,587.0 233.9,586.2 234.1,586.6 234.4,585.3 234.6,586.1 234.9,585.8 235.1,588.1 235.4,586.8 235.6,581.4 235.9,586.5 236.1,587.3 236.4,584.2 236.6,581.9 236.9,588.1 237.2,585.4 237.4,586.3 237.7,588.8 237.9,583.4 238.2,585.0 238.4,584.8 238.7,586.7 238.9,584.1 239.2,586.3 239.4,585.5 239.7,587.6 239.9,587.9 240.2,582.4 240.5,586.5 240.7,584.8 241.0,585.6 241.2,586.5 241.5,586.7 241.7,584.3 242.0,586.4 242.2,586.1 242.5,585.8 242.7,583.3 243.0,584.4 243.2,585.1 243.5,587.2 243.8,589.0 244.0,583.9 244.3,583.9 244.5,586.3 244.8,584.9 245.0,584.3 245.3,584.2 245.5,584.0 245.8,587.0 246.0,582.7 246.3,588.7 246.5,584.1 246.8,584.9 247.1,584.0 247.3,581.8 247.6,582.6 247.8,588.3 248.1,589.5 248.3,583.9 248.6,587.9 248.8,585.6 249.1,583.7 249.3,589.0 249.6,590.0 249.9,584.7 250.1,585.2 250.4,585.7 250.6,585.0 250.9,587.0 251.1,588.3 251.4,585.4 251.6,587.1 251.9,588.5 252.1,583.8 252.4,584.9 252.6,583.9 252.9,586.9 253.2,586.1 253.4,586.8 253.7,586.5 253.9,584.1 254.2,586.2 254.4,583.7 254.7,583.7 254.9,580.0 255.2,587.5 255.4,582.5 255.7,584.7 255.9,584.5 256.2,587.7 256.5,585.5 256.7,582.9 257.0,584.7 257.2,584.4 257.5,585.2 257.7,582.1 258.0,584.7 258.2,589.5 258.5,586.2 258.7,589.1 259.0,592.0 259.2,586.1 259.5,582.0 259.8,584.9 260.0,587.6 260.3,587.2 260.5,582.7 260.8,584.9 261.0,585.2 261.3,585.5 261.5,585.4 261.8,583.8 262.0,584.4 262.3,585.3 262.5,588.1 262.8,584.8 263.1,587.5 263.3,583.6 263.6,588.9 263.8,586.4 264.1,586.2 264.3,589.1 264.6,582.5 264.8,583.1 265.1,587.3 265.3,584.6 265.6,585.5 265.9,592.0 266.1,585.8 266.4,586.5 266.6,586.1 266.9,588.7 267.1,586.9 267.4,586.7 267.6,583.7 267.9,585.5 268.1,586.2 268.4,582.8 268.6,587.3 268.9,586.9 269.2,589.9 269.4,582.5 269.7,583.7 269.9,583.8 270.2,584.3 270.4,585.5 270.7,585.2 270.9,586.2 271.2,586.1 271.4,585.6 271.7,582.4 271.9,584.4 272.2,585.7 272.5,586.9 272.7,587.0 273.0,582.1 273.2,584.5 273.5,585.4 273.7,586.3 274.0,588.0 274.2,585.7 274.5,583.6 274.7,586.4 275.0,586.0 275.2,586.0 275.5,585.3 275.8,589.1 276.0,586.1 276.3,587.4 276.5,583.6 276.8,587.3 277.0,584.3 277.3,582.2 277.5,586.2 277.8,586.8 278.0,585.0 278.3,585.5 278.5,587.6 278.8,584.5 279.1,581.0 279.3,586.0 279.6,585.9 279.8,587.7 280.1,584.7 280.3,588.1 280.6,587.8 280.8,582.5 281.1,587.3 281.3,583.0 281.6,582.0 281.9,584.7 282.1,584.0 282.4,581.0 282.6,585.7 282.9,586.5 283.1,588.2 283.4,585.1 283.6,581.9 283.9,583.1 284.1,587.2 284.4,587.0 284.6,586.3 284.9,584.5 285.2,585.6 285.4,584.6 285.7,584.5 285.9,585.7 286.2,585.2 286.4,584.7 286.7,585.3 286.9,584.1 287.2,581.1 287.4,583.9 287.7,585.1 287.9,588.9 288.2,584.4 288.5,589.6 288.7,588.4 289.0,583.5 289.2,583.9 289.5,585.8 289.7,589.2 290.0,586.3 290.2,587.0 290.5,584.2 290.7,580.7 291.0,585.2 291.2,587.4 291.5,588.4 291.8,586.0 292.0,586.3 292.3,588.5 292.5,585.7 292.8,588.5 293.0,583.6 293.3,583.7 293.5,583.7 293.8,587.1 294.0,585.0 294.3,586.4 294.6,587.0 294.8,586.9 295.1,589.0 295.3,589.3 295.6,584.4 295.8,586.6 296.1,585.7 296.3,584.0 296.6,590.0 296.8,587.9 297.1,585.8 297.3,585.3 297.6,587.0 297.9,583.9 298.1,585.7 298.4,588.7 298.6,588.1 298.9,584.3 299.1,585.0 299.4,590.1 299.6,583.0 299.9,584.6 300.1,582.9 300.4,586.7 300.6,586.5 300.9,588.2 301.2,580.2 301.4,586.1 301.7,582.2 301.9,587.1 302.2,585.3 302.4,589.3 302.7,586.4 302.9,583.4 303.2,588.2 303.4,583.1 303.7,584.6 303.9,587.6 304.2,586.4 304.5,586.3 304.7,585.3 305.0,586.4 305.2,587.0 305.5,585.8 305.7,587.4 306.0,588.0 306.2,585.3 306.5,583.2 306.7,588.5 307.0,585.2 307.2,586.6 307.5,587.3 307.8,583.3 308.0,586.3 308.3,581.9 308.5,586.9 308.8,584.3 309.0,585.6 309.3,586.8 309.5,583.9 309.8,585.5 310.0,583.9 310.3,585.3 310.6,587.6 310.8,585.4 311.1,585.1 311.3,583.1 311.6,587.2 311.8,585.2 312.1,588.9 312.3,583.7 312.6,587.5 312.8,589.0 313.1,585.2 313.3,582.6 313.6,588.4 313.9,587.4 314.1,586.7 314.4,587.5 314.6,584.2 314.9,586.8 315.1,586.6 315.4,583.7 315.6,586.6 315.9,584.0 316.1,587.0 316.4,587.6 316.6,588.9 316.9,580.8 317.2,585.6 317.4,584.4 317.7,585.0 317.9,584.6 318.2,584.8 318.4,580.8 318.7,587.2 318.9,588.4 319.2,587.2 319.4,587.9 319.7,583.3 319.9,583.2 320.2,587.1 320.5,588.0 320.7,585.8 321.0,582.0 321.2,591.2 321.5,583.9 321.7,587.4 322.0,582.8 322.2,587.4 322.5,585.7 322.7,588.4 323.0,587.3 323.2,582.1 323.5,583.4 323.8,586.1 324.0,587.1 324.3,589.4 324.5,586.1 324.8,585.3 325.0,585.4 325.3,585.5 325.5,587.8 325.8,585.4 326.0,585.4 326.3,582.5 326.6,581.3 326.8,585.7 327.1,587.1 327.3,585.6 327.6,586.8 327.8,587.1 328.1,585.7 328.3,587.8 328.6,584.2 328.8,585.8 329.1,585.0 329.3,586.0 329.6,587.2 329.9,587.7 330.1,586.1 330.4,586.8 330.6,585.1 330.9,585.6 331.1,588.6 331.4,585.5 331.6,588.6 331.9,587.0 332.1,586.3 332.4,590.2 332.6,585.5 332.9,585.4 333.2,586.1 333.4,586.7 333.7,586.6 333.9,587.9 334.2,586.4 334.4,587.1 334.7,585.7 334.9,588.6 335.2,585.4 335.4,585.7 335.7,586.3 335.9,587.0 336.2,584.8 336.5,589.7 336.7,585.0 337.0,585.5 337.2,585.4 337.5,585.2 337.7,587.4 338.0,586.5 338.2,584.5 338.5,584.9 338.7,585.4 339.0,589.1 339.2,584.5 339.5,583.1 339.8,583.4 340.0,585.0 340.3,588.9 340.5,583.4 340.8,585.7 341.0,590.9 341.3,584.4 341.5,588.4 341.8,587.9 342.0,586.4 342.3,582.2 342.6,585.8 342.8,584.4 343.1,581.2 343.3,581.5 343.6,585.2 343.8,585.5 344.1,587.8 344.3,586.6 344.6,584.2 344.8,584.3 345.1,585.0 345.3,583.1 345.6,587.0 345.9,585.5 346.1,583.8 346.4,584.1 346.6,583.1 346.9,584.6 347.1,586.1 347.4,584.7 347.6,587.7 347.9,589.2 348.1,584.3 348.4,585.8 348.6,585.0 348.9,589.4 349.2,586.5 349.4,587.0 349.7,587.5 349.9,590.6 350.2,586.3 350.4,583.6 350.7,584.8 350.9,586.9 351.2,585.6 351.4,583.9 351.7,591.5 351.9,585.8 352.2,584.3 352.5,584.0 352.7,581.8 353.0,583.1 353.2,584.9 353.5,585.0 353.7,583.9 354.0,586.9 354.2,585.8 354.5,583.8 354.7,581.5 355.0,586.2 355.3,585.9 355.5,585.4 355.8,583.0 356.0,586.0 356.3,582.8 356.5,588.1 356.8,586.4 357.0,586.4 357.3,584.3 357.5,583.7 357.8,589.3 358.0,588.0 358.3,585.3 358.6,587.5 358.8,589.3 359.1,583.7 359.3,584.8 359.6,584.8 359.8,586.8 360.1,583.5 360.3,586.2 360.6,583.2 360.8,587.5 361.1,587.3 361.3,584.9 361.6,586.8 361.9,583.7 362.1,584.5 362.4,587.1 362.6,584.8 362.9,585.7 363.1,582.8 363.4,586.1 363.6,585.7 363.9,582.0 364.1,579.6 364.4,580.1 364.6,584.2 364.9,583.8 365.2,580.9 365.4,584.5 365.7,586.3 365.9,583.8 366.2,583.1 366.4,585.8 366.7,587.6 366.9,587.1 367.2,582.5 367.4,585.6 367.7,584.2 367.9,583.4 368.2,582.5 368.5,584.6 368.7,582.7 369.0,585.8 369.2,584.6 369.5,586.1 369.7,581.4 370.0,584.0 370.2,585.5 370.5,584.7 370.7,584.5 371.0,582.5 371.3,587.6 371.5,586.4 371.8,585.0 372.0,578.7 372.3,582.2 372.5,584.5 372.8,582.8 373.0,579.9 373.3,585.0 373.5,585.3 373.8,581.9 374.0,583.6 374.3,583.2 374.6,585.9 374.8,580.6 375.1,581.1 375.3,583.6 375.6,583.4 375.8,589.4 376.1,583.6 376.3,585.4 376.6,584.1 376.8,583.5 377.1,585.8 377.3,588.7 377.6,584.3 377.9,586.7 378.1,585.8 378.4,586.4 378.6,585.9 378.9,590.2 379.1,582.4 379.4,584.5 379.6,582.6 379.9,580.7 380.1,584.9 380.4,588.9 380.6,586.9 380.9,587.6 381.2,586.0 381.4,584.8 381.7,589.3 381.9,584.2 382.2,588.3 382.4,584.3 382.7,585.2 382.9,585.7 383.2,585.2 383.4,586.2 383.7,586.3 383.9,588.7 384.2,585.1 384.5,580.9 384.7,580.6 385.0,582.1 385.2,583.4 385.5,586.4 385.7,581.8 386.0,585.1 386.2,585.2 386.5,585.7 386.7,584.9 387.0,586.1 387.3,585.3 387.5,587.5 387.8,586.0 388.0,580.2 388.3,585.3 388.5,585.7 388.8,584.1 389.0,583.7 389.3,587.7 389.5,585.7 389.8,583.2 390.0,584.7 390.3,585.0 390.6,581.9 390.8,586.8 391.1,585.1 391.3,586.4 391.6,582.0 391.8,589.6 392.1,586.8 392.3,586.5 392.6,583.8 392.8,583.9 393.1,582.2 393.3,588.7 393.6,583.6 393.9,585.9 394.1,586.7 394.4,584.0 394.6,587.2 394.9,589.7 395.1,586.0 395.4,588.4 395.6,586.6 395.9,584.4 396.1,584.5 396.4,581.7 396.6,585.7 396.9,588.6 397.2,586.9 397.4,587.3 397.7,588.0 397.9,584.4 398.2,586.8 398.4,589.8 398.7,584.0 398.9,585.8 399.2,584.8 399.4,585.3 399.7,584.2 399.9,585.5 400.2,582.9 400.5,584.7 400.7,584.7 401.0,584.7 401.2,588.7 401.5,585.9 401.7,586.1 402.0,585.0 402.2,588.4 402.5,581.8 402.7,585.2 403.0,588.0 403.3,589.1 403.5,585.9 403.8,585.4 404.0,586.8 404.3,584.9 404.5,586.5 404.8,583.8 405.0,586.6 405.3,585.0 405.5,582.8 405.8,579.2 406.0,587.0 406.3,585.8 406.6,586.6 406.8,583.0 407.1,587.2 407.3,585.8 407.6,584.8 407.8,586.9 408.1,586.8 408.3,585.7 408.6,589.2 408.8,587.8 409.1,585.5 409.3,584.2 409.6,585.0 409.9,588.4 410.1,585.6 410.4,582.8 410.6,583.3 410.9,584.7 411.1,586.5 411.4,583.1 411.6,585.8 411.9,587.1 412.1,586.3 412.4,581.4 412.6,584.0 412.9,582.0 413.2,585.6 413.4,582.4 413.7,585.8 413.9,584.8 414.2,579.0 414.4,582.8 414.7,585.6 414.9,584.7 415.2,583.8 415.4,581.8 415.7,585.5 416.0,588.3 416.2,585.0 416.5,584.4 416.7,584.2 417.0,581.5 417.2,583.7 417.5,582.6 417.7,586.8 418.0,582.4 418.2,579.7 418.5,582.6 418.7,583.7 419.0,583.9 419.3,580.3 419.5,586.3 419.8,584.5 420.0,583.2 420.3,582.6 420.5,585.1 420.8,583.5 421.0,584.8 421.3,583.9 421.5,584.5 421.8,586.7 422.0,584.3 422.3,582.4 422.6,586.4 422.8,584.9 423.1,582.9 423.3,586.8 423.6,584.1 423.8,586.8 424.1,582.0 424.3,579.5 424.6,580.2 424.8,585.1 425.1,583.1 425.3,584.5 425.6,584.5 425.9,581.4 426.1,587.7 426.4,582.5 426.6,584.9 426.9,581.8 427.1,584.4 427.4,586.1 427.6,584.0 427.9,583.0 428.1,584.4 428.4,583.3 428.6,585.4 428.9,588.6 429.2,582.2 429.4,582.5 429.7,583.5 429.9,583.5 430.2,581.4 430.4,584.3 430.7,584.6 430.9,583.4 431.2,580.5 431.4,585.4 431.7,580.1 432.0,583.5 432.2,584.2 432.5,579.4 432.7,581.9 433.0,584.0 433.2,582.0 433.5,579.2 433.7,578.5 434.0,581.5 434.2,579.6 434.5,578.8 434.7,581.3 435.0,579.1 435.3,579.6 435.5,580.4 435.8,580.1 436.0,578.8 436.3,578.6 436.5,579.6 436.8,579.1 437.0,575.9 437.3,577.4 437.5,575.9 437.8,575.1 438.0,576.1 438.3,572.5 438.6,578.6 438.8,575.1 439.1,577.2 439.3,572.6 439.6,572.8 439.8,580.1 440.1,578.0 440.3,574.5 440.6,574.1 440.8,574.1 441.1,575.7 441.3,574.5 441.6,574.0 441.9,575.5 442.1,573.0 442.4,580.1 442.6,573.8 442.9,577.4 443.1,573.0 443.4,575.6 443.6,577.1 443.9,574.3 444.1,577.2 444.4,577.2 444.6,578.6 444.9,575.4 445.2,574.3 445.4,573.3 445.7,575.9 445.9,573.5 446.2,575.8 446.4,576.2 446.7,575.0 446.9,574.2 447.2,577.1 447.4,577.1 447.7,577.2 448.0,577.0 448.2,579.0 448.5,575.8 448.7,578.6 449.0,577.3 449.2,579.8 449.5,578.1 449.7,578.3 450.0,580.0 450.2,576.2 450.5,579.3 450.7,577.4 451.0,579.1 451.3,582.1 451.5,582.0 451.8,581.1 452.0,582.0 452.3,582.4 452.5,583.3 452.8,586.1 453.0,584.0 453.3,587.5 453.5,583.9 453.8,586.0 454.0,586.4 454.3,586.1 454.6,585.7 454.8,588.8 455.1,589.7 455.3,589.0 455.6,590.9 455.8,589.7 456.1,586.3 456.3,590.7 456.6,588.7 456.8,592.0 457.1,590.3 457.3,591.7 457.6,592.0 457.9,591.8 458.1,591.0 458.4,593.7 458.6,594.6 458.9,596.7 459.1,595.6 459.4,597.4 459.6,597.0 459.9,598.9 460.1,597.7 460.4,603.1 460.6,602.0 460.9,601.6 461.2,604.0 461.4,605.6 461.7,606.0 461.9,608.3 462.2,607.6 462.4,605.8 462.7,608.4 462.9,612.1 463.2,612.9 463.4,613.3 463.7,612.7 464.0,615.9 464.2,616.8 464.5,615.9 464.7,616.9 465.0,619.4 465.2,621.3 465.5,622.8 465.7,622.7 466.0,625.6 466.2,622.8 466.5,625.4 466.7,625.0 467.0,624.1 467.3,625.9 467.5,629.6 467.8,628.0 468.0,628.6 468.3,631.8 468.5,632.9 468.8,632.8 469.0,635.5 469.3,632.6 469.5,638.2 469.8,637.4 470.0,637.2 470.3,638.0 470.6,638.4 470.8,639.2 471.1,640.6 471.3,639.8 471.6,644.7 471.8,642.9 472.1,644.7 472.3,644.5 472.6,645.3 472.8,647.5 473.1,648.0 473.3,647.1 473.6,648.5 473.9,650.6 474.1,648.0 474.4,648.5 474.6,654.0 474.9,652.7 475.1,650.8 475.4,653.8 475.6,655.4 475.9,656.8 476.1,658.1 476.4,658.6 476.7,659.9 476.9,659.2 477.2,661.5 477.4,662.4 477.7,664.2 477.9,663.7 478.2,665.6 478.4,665.7 478.7,665.1 478.9,666.8 479.2,667.6 479.4,668.7 479.7,670.0 480.0,671.2 480.2,672.4 480.5,672.0 480.7,675.3 481.0,673.2 481.2,675.8 481.5,677.7 481.7,678.3 482.0,679.4 482.2,679.3 482.5,681.3 482.7,680.0 483.0,683.2 483.3,686.0 483.5,685.0 483.8,687.5 484.0,686.0 484.3,685.5 484.5,686.9 484.8,690.2 485.0,690.4 485.3,688.2 485.5,690.8 485.8,692.1 486.0,691.7 486.3,690.8 486.6,693.1 486.8,695.4 487.1,696.0 487.3,696.6 487.6,698.9 487.8,700.4 488.1,700.0 488.3,702.1 488.6,702.0 488.8,702.7 489.1,700.9 489.3,705.7 489.6,705.7 489.9,706.7 490.1,707.0 490.4,707.2 490.6,710.1 490.9,711.5 491.1,713.5 491.4,713.6 491.6,712.9 491.9,714.6 492.1,716.9 492.4,717.2 492.7,717.8 492.9,718.3 493.2,720.7 493.4,721.4 493.7,724.3 493.9,724.6 494.2,722.4 494.4,728.0 494.7,726.9 494.9,727.3 495.2,729.0 495.4,730.6 495.7,730.8 496.0,731.8 496.2,732.9 496.5,736.1 496.7,735.0 497.0,736.8 497.2,737.4 497.5,737.4 497.7,737.8 498.0,738.4 498.2,741.0 498.5,740.2 498.7,740.7 499.0,741.7 499.3,742.2 499.5,745.0 499.8,745.8 500.0,745.4 500.3,749.0 500.5,747.8 500.8,749.5 501.0,750.1 501.3,752.6 501.5,752.3 501.8,752.0 502.0,751.6 502.3,752.3 502.6,754.4 502.8,755.3 503.1,756.9 503.3,756.1 503.6,757.8 503.8,757.5 504.1,756.8 504.3,759.9 504.6,762.5 504.8,762.5 505.1,764.0 505.3,764.4 505.6,762.0 505.9,764.1 506.1,767.0 506.4,765.0 506.6,765.1 506.9,767.9 507.1,769.1 507.4,769.4 507.6,769.4 507.9,769.7 508.1,769.8 508.4,770.6 508.7,771.4 508.9,771.9 509.2,773.6 509.4,777.1 509.7,776.1 509.9,776.3 510.2,777.9 510.4,777.0 510.7,779.4 510.9,780.9 511.2,778.6 511.4,780.3 511.7,781.7 512.0,781.5 512.2,782.1 512.5,783.7 512.7,788.0 513.0,786.5 513.2,786.9 513.5,788.3 513.7,787.5 514.0,787.0 514.2,789.8 514.5,791.3 514.7,788.0 515.0,791.9 515.3,793.6 515.5,792.4 515.8,792.9 516.0,795.1 516.3,793.9 516.5,796.3 516.8,797.5 517.0,796.8 517.3,796.8 517.5,799.3 517.8,798.8 518.0,800.0 518.3,797.0 518.6,802.2 518.8,800.2 519.1,802.8 519.3,803.6 519.6,803.2 519.8,803.7 520.1,803.9 520.3,805.8 520.6,807.7 520.8,808.3 521.1,807.7 521.3,808.3 521.6,807.9 521.9,809.8 522.1,809.7 522.4,809.7 522.6,812.1 522.9,814.9 523.1,815.2 523.4,816.2 523.6,812.9 523.9,816.7 524.1,814.7 524.4,816.2 524.7,815.4 524.9,817.0 525.2,819.1 525.4,819.9 525.7,820.2 525.9,820.7 526.2,822.3 526.4,822.3 526.7,820.8 526.9,825.9 527.2,823.9 527.4,826.1 527.7,825.3 528.0,825.1 528.2,826.9 528.5,826.5 528.7,830.3 529.0,827.4 529.2,830.4 529.5,829.4 529.7,830.6 530.0,835.0 530.2,833.2 530.5,832.5 530.7,831.3 531.0,833.6 531.3,834.3 531.5,837.2 531.8,834.0 532.0,834.1 532.3,837.1 532.5,838.0 532.8,840.5 533.0,837.7 533.3,835.8 533.5,839.0 533.8,838.9 534.0,840.4 534.3,843.0 534.6,840.5 534.8,844.5 535.1,843.7 535.3,843.5 535.6,843.2 535.8,844.4 536.1,845.0 536.3,847.1 536.6,848.4 536.8,847.1 537.1,848.7 537.4,850.0 537.6,850.5 537.9,850.0 538.1,852.4 538.4,852.2 538.6,853.2 538.9,851.2 539.1,851.4 539.4,849.7 539.6,855.1 539.9,854.6 540.1,852.9 540.4,855.0 540.7,855.7 540.9,853.4 541.2,856.7 541.4,858.4 541.7,859.1 541.9,857.4 542.2,857.9 542.4,860.8 542.7,860.7 542.9,859.1 543.2,859.5 543.4,861.7 543.7,860.4 544.0,860.9 544.2,864.8 544.5,863.1 544.7,862.5 545.0,864.4 545.2,867.1 545.5,864.9 545.7,863.9 546.0,863.1 546.2,869.0 546.5,862.5 546.7,868.4 547.0,865.8 547.3,865.9 547.5,866.8 547.8,868.5 548.0,870.8 548.3,868.7 548.5,871.1 548.8,874.3 549.0,866.9 549.3,870.5 549.5,869.4 549.8,873.9 550.0,870.8 550.3,871.1 550.6,871.7 550.8,874.5 551.1,876.8 551.3,875.7 551.6,879.2 551.8,878.9 552.1,876.7 552.3,878.8 552.6,878.0 552.8,878.3 553.1,875.7 553.4,877.0 553.6,879.5 553.9,878.0 554.1,881.4 554.4,881.1 554.6,879.6 554.9,883.2 555.1,882.1 555.4,884.1 555.6,882.2 555.9,880.2 556.1,884.3 556.4,883.1 556.7,885.2 556.9,885.9 557.2,886.4 557.4,882.4 557.7,881.3 557.9,884.6 558.2,886.9 558.4,884.9 558.7,886.9 558.9,885.4 559.2,886.6 559.4,886.9 559.7,886.7 560.0,889.0 560.2,889.1 560.5,891.5 560.7,889.8 561.0,891.8 561.2,890.1 561.5,891.7 561.7,890.4 562.0,890.2 562.2,893.6 562.5,892.9 562.7,893.5 563.0,891.1 563.3,889.9 563.5,891.6 563.8,893.9 564.0,891.3 564.3,896.6 564.5,891.9 564.8,895.9 565.0,899.8 565.3,890.9 565.5,893.1 565.8,897.8 566.0,896.1 566.3,897.1 566.6,896.8 566.8,899.9 567.1,898.7 567.3,897.0 567.6,897.7 567.8,896.2 568.1,898.4 568.3,894.5 568.6,900.4 568.8,898.8 569.1,903.2 569.4,902.2 569.6,897.4 569.9,902.0 570.1,899.3 570.4,900.6 570.6,902.7 570.9,901.5 571.1,902.0 571.4,902.0 571.6,899.7 571.9,900.0 572.1,902.7 572.4,903.5 572.7,901.2 572.9,902.1 573.2,900.0 573.4,896.8 573.7,900.6 573.9,902.6 574.2,903.0 574.4,904.5 574.7,904.8 574.9,905.1 575.2,904.0 575.4,904.2 575.7,901.9 576.0,904.4 576.2,904.1 576.5,906.3 576.7,900.4 577.0,902.9 577.2,900.3 577.5,902.5 577.7,901.2 578.0,904.9 578.2,903.0 578.5,898.8 578.7,907.3 579.0,902.2 579.3,901.1 579.5,903.9 579.8,903.2 580.0,902.1 580.3,906.3 580.5,904.0 580.8,906.9 581.0,906.4 581.3,906.3 581.5,905.3 581.8,904.6 582.0,903.8 582.3,908.0 582.6,900.3 582.8,902.2 583.1,903.1 583.3,905.5 583.6,904.8 583.8,903.3 584.1,903.5 584.3,908.1 584.6,902.6 584.8,897.6 585.1,908.1 585.4,901.7 585.6,903.0 585.9,904.0 586.1,900.7 586.4,906.2 586.6,903.1 586.9,900.2 587.1,903.7 587.4,904.0 587.6,902.8 587.9,903.9 588.1,899.5 588.4,904.7 588.7,900.8 588.9,905.3 589.2,901.1 589.4,902.6 589.7,907.8 589.9,902.2 590.2,904.4 590.4,903.0 590.7,898.7 590.9,904.2 591.2,904.0 591.4,898.7 591.7,901.4 592.0,898.3 592.2,900.8 592.5,903.3 592.7,901.5 593.0,898.7 593.2,899.3 593.5,901.2 593.7,901.0 594.0,901.3 594.2,902.2 594.5,896.8 594.7,900.8 595.0,903.1 595.3,901.6 595.5,899.0 595.8,899.1 596.0,900.6 596.3,901.6 596.5,900.0 596.8,903.4 597.0,902.5 597.3,898.0 597.5,900.5 597.8,898.6 598.1,896.7 598.3,897.7 598.6,898.7 598.8,894.3 599.1,897.0 599.3,898.9 599.6,896.4 599.8,896.9 600.1,899.1 600.3,897.0 600.6,897.3 600.8,900.6 601.1,896.9 601.4,896.9 601.6,896.9 601.9,899.1 602.1,896.3 602.4,895.5 602.6,895.0 602.9,897.2 603.1,893.6 603.4,896.9 603.6,894.8 603.9,891.7 604.1,895.2 604.4,894.7 604.7,891.5 604.9,894.0 605.2,893.6 605.4,892.4 605.7,890.6 605.9,896.4 606.2,893.7 606.4,893.8 606.7,893.7 606.9,893.0 607.2,892.7 607.4,890.4 607.7,892.2 608.0,890.1 608.2,889.3 608.5,891.0 608.7,889.2 609.0,886.2 609.2,888.2 609.5,889.6 609.7,888.2 610.0,889.4 610.2,887.0 610.5,885.6 610.7,888.2 611.0,886.8 611.3,884.2 611.5,886.6 611.8,885.2 612.0,886.8 612.3,886.1 612.5,885.1 612.8,880.5 613.0,884.1 613.3,883.9 613.5,883.6 613.8,882.6 614.1,881.0 614.3,881.3 614.6,878.1 614.8,880.5 615.1,878.3 615.3,879.6 615.6,878.7 615.8,881.3 616.1,879.0 616.3,878.5 616.6,878.3 616.8,880.6 617.1,875.8 617.4,877.2 617.6,876.8 617.9,876.1 618.1,875.6 618.4,874.3 618.6,876.2 618.9,875.2 619.1,873.0 619.4,872.8 619.6,873.0 619.9,872.8 620.1,872.6 620.4,871.0 620.7,868.8 620.9,871.4 621.2,867.2 621.4,867.6 621.7,868.9 621.9,866.7 622.2,869.3 622.4,869.1 622.7,868.0 622.9,866.2 623.2,865.5 623.4,865.3 623.7,863.8 624.0,866.4 624.2,862.2 624.5,864.2 624.7,862.6 625.0,861.6 625.2,862.1 625.5,861.8 625.7,860.7 626.0,858.7 626.2,857.3 626.5,856.8 626.7,858.3 627.0,857.4 627.3,857.0 627.5,854.5 627.8,857.3 628.0,852.3 628.3,854.0 628.5,853.8 628.8,851.7 629.0,850.1 629.3,850.5 629.5,848.9 629.8,849.5 630.1,847.5 630.3,846.8 630.6,848.1 630.8,845.4 631.1,846.6 631.3,846.1 631.6,846.9 631.8,845.4 632.1,843.4 632.3,845.6 632.6,842.4 632.8,842.2 633.1,841.7 633.4,844.4 633.6,841.0 633.9,839.4 634.1,840.7 634.4,839.0 634.6,841.6 634.9,837.0 635.1,838.1 635.4,835.5 635.6,838.4 635.9,834.5 636.1,835.1 636.4,833.0 636.7,834.7 636.9,833.6 637.2,829.2 637.4,832.6 637.7,831.8 637.9,830.5 638.2,830.8 638.4,827.3 638.7,825.9 638.9,828.4 639.2,829.1 639.4,824.6 639.7,824.0 640.0,823.8 640.2,822.7 640.5,824.7 640.7,823.1 641.0,824.0 641.2,823.4 641.5,819.6 641.7,821.1 642.0,816.6 642.2,818.8 642.5,819.1 642.7,816.6 643.0,814.6 643.3,815.7 643.5,817.2 643.8,814.5 644.0,812.5 644.3,814.3 644.5,814.0 644.8,811.0 645.0,811.5 645.3,812.4 645.5,810.8 645.8,810.6 646.1,808.5 646.3,808.1 646.6,806.0 646.8,805.9 647.1,808.1 647.3,804.8 647.6,803.5 647.8,803.4 648.1,801.9 648.3,803.2 648.6,803.0 648.8,799.9 649.1,801.7 649.4,802.4 649.6,797.6 649.9,799.1 650.1,797.8 650.4,798.5 650.6,797.6 650.9,796.7 651.1,794.9 651.4,793.3 651.6,795.9 651.9,791.3 652.1,793.1 652.4,792.2 652.7,789.2 652.9,789.4 653.2,790.5 653.4,785.5 653.7,788.2 653.9,786.0 654.2,785.3 654.4,783.0 654.7,784.5 654.9,781.9 655.2,783.3 655.4,780.2 655.7,781.8 656.0,780.5 656.2,776.9 656.5,778.1 656.7,777.5 657.0,774.1 657.2,775.6 657.5,776.2 657.7,773.5 658.0,775.0 658.2,771.3 658.5,770.3 658.8,771.6 659.0,770.8 659.3,769.0 659.5,768.3 659.8,768.6 660.0,765.9 660.3,768.2 660.5,765.4 660.8,764.4 661.0,763.4 661.3,761.8 661.5,762.8 661.8,759.7 662.1,759.7 662.3,759.4 662.6,759.3 662.8,758.2 663.1,755.4 663.3,756.1 663.6,753.9 663.8,751.8 664.1,750.9 664.3,749.4 664.6,750.7 664.8,750.7 665.1,747.2 665.4,747.1 665.6,745.1 665.9,745.5 666.1,743.0 666.4,742.5 666.6,741.6 666.9,740.8 667.1,739.9 667.4,739.1 667.6,738.0 667.9,736.0 668.1,736.7 668.4,732.9 668.7,733.9 668.9,731.5 669.2,731.6 669.4,730.7 669.7,726.8 669.9,728.4 670.2,728.4 670.4,726.5 670.7,724.9 670.9,720.9 671.2,722.0 671.4,720.0 671.7,721.2 672.0,718.5 672.2,717.0 672.5,714.6 672.7,716.5 673.0,713.9 673.2,713.2 673.5,713.8 673.7,711.5 674.0,710.8 674.2,712.3 674.5,707.8 674.8,706.9 675.0,707.2 675.3,707.3 675.5,702.9 675.8,703.5 676.0,701.6 676.3,700.2 676.5,701.6 676.8,699.0 677.0,699.4 677.3,698.2 677.5,697.3 677.8,696.3 678.1,694.0 678.3,694.3 678.6,693.7 678.8,692.9 679.1,691.3 679.3,691.9 679.6,690.5 679.8,689.0 680.1,688.7 680.3,687.3 680.6,687.0 680.8,682.9 681.1,682.8 681.4,683.0 681.6,682.8 681.9,679.1 682.1,680.6 682.4,680.3 682.6,679.0 682.9,678.1 683.1,675.9 683.4,676.8 683.6,673.3 683.9,676.1 684.1,673.3 684.4,674.6 684.7,670.3 684.9,672.1 685.2,670.9 685.4,668.9 685.7,667.7 685.9,669.8 686.2,668.1 686.4,668.6 686.7,665.9 686.9,665.4 687.2,665.0 687.4,664.7 687.7,663.6 688.0,663.3 688.2,660.9 688.5,658.9 688.7,662.5 689.0,659.4 689.2,659.0 689.5,657.2 689.7,658.2 690.0,656.5 690.2,656.8 690.5,653.9 690.8,653.9 691.0,653.5 691.3,652.1 691.5,652.1 691.8,653.0 692.0,649.5 692.3,649.1 692.5,648.8 692.8,646.6 693.0,645.5 693.3,647.6 693.5,646.4 693.8,642.7 694.1,642.0 694.3,643.9 694.6,643.6 694.8,642.1 695.1,641.1 695.3,641.6 695.6,638.7 695.8,639.5 696.1,638.7 696.3,635.2 696.6,636.4 696.8,634.8 697.1,633.1 697.4,632.1 697.6,632.7 697.9,631.4 698.1,631.7 698.4,627.7 698.6,628.3 698.9,629.7 699.1,627.6 699.4,625.9 699.6,625.4 699.9,622.9 700.1,622.7 700.4,624.3 700.7,623.0 700.9,623.7 701.2,621.0 701.4,620.4 701.7,616.5 701.9,619.0 702.2,620.9 702.4,618.4 702.7,616.6 702.9,617.5 703.2,616.2 703.4,614.8 703.7,613.1 704.0,612.9 704.2,613.0 704.5,610.1 704.7,611.0 705.0,610.1 705.2,610.5 705.5,608.9 705.7,606.3 706.0,608.3 706.2,605.6 706.5,603.8 706.8,604.4 707.0,602.8 707.3,603.6 707.5,599.8 707.8,599.2 708.0,599.4 708.3,601.0 708.5,599.2 708.8,595.9 709.0,594.1 709.3,595.0 709.5,592.9 709.8,594.3 710.1,592.9 710.3,591.8 710.6,590.4 710.8,591.9 711.1,587.9 711.3,586.5 711.6,588.6 711.8,587.9 712.1,584.9 712.3,585.2 712.6,586.4 712.8,581.6 713.1,581.5 713.4,581.3 713.6,577.2 713.9,578.8 714.1,578.9 714.4,577.0 714.6,577.5 714.9,576.2 715.1,573.9 715.4,574.2 715.6,573.1 715.9,569.6 716.1,569.7 716.4,568.9 716.7,568.3 716.9,567.5 717.2,565.4 717.4,566.3 717.7,563.2 717.9,565.7 718.2,564.0 718.4,564.5 718.7,562.3 718.9,560.4 719.2,558.4 719.5,560.1 719.7,558.4 720.0,557.9 720.2,557.5 720.5,557.1 720.7,554.7 721.0,555.9 721.2,552.8 721.5,552.0 721.7,551.9 722.0,551.4 722.2,550.9 722.5,546.1 722.8,549.1 723.0,544.6 723.3,544.8 723.5,545.1 723.8,545.2 724.0,541.6 724.3,539.8 724.5,542.1 724.8,540.4 725.0,537.9 725.3,537.8 725.5,534.9 725.8,537.1 726.1,534.8 726.3,536.1 726.6,531.1 726.8,533.6 727.1,534.5 727.3,531.1 727.6,530.2 727.8,526.8 728.1,528.7 728.3,527.4 728.6,525.7 728.8,523.6 729.1,524.7 729.4,522.5 729.6,522.2 729.9,522.3 730.1,520.9 730.4,520.1 730.6,520.3 730.9,516.9 731.1,519.1 731.4,515.1 731.6,514.4 731.9,514.8 732.1,514.7 732.4,513.1 732.7,511.4 732.9,510.2 733.2,509.8 733.4,508.0 733.7,509.0 733.9,507.1 734.2,508.4 734.4,504.6 734.7,504.5 734.9,504.2 735.2,501.4 735.5,501.1 735.7,504.4 736.0,500.1 736.2,501.0 736.5,497.0 736.7,494.4 737.0,497.1 737.2,495.5 737.5,495.0 737.7,493.4 738.0,492.1 738.2,490.4 738.5,492.3 738.8,488.3 739.0,490.4 739.3,488.0 739.5,486.0 739.8,485.7 740.0,486.8 740.3,485.6 740.5,484.4 740.8,483.0 741.0,480.6 741.3,482.7 741.5,479.6 741.8,478.5 742.1,477.6 742.3,476.8 742.6,474.6 742.8,474.9 743.1,473.5 743.3,472.9 743.6,470.4 743.8,474.0 744.1,469.1 744.3,470.1 744.6,469.1 744.8,469.0 745.1,469.1 745.4,466.3 745.6,465.7 745.9,463.4 746.1,464.8 746.4,460.3 746.6,460.7 746.9,460.4 747.1,460.0 747.4,459.1 747.6,458.5 747.9,456.8 748.1,455.2 748.4,454.5 748.7,455.0 748.9,452.7 749.2,452.5 749.4,450.3 749.7,447.3 749.9,447.8 750.2,448.0 750.4,448.6 750.7,447.4 750.9,446.8 751.2,442.9 751.5,443.8 751.7,441.8 752.0,441.7 752.2,439.9 752.5,437.3 752.7,438.9 753.0,437.5 753.2,437.1 753.5,434.1 753.7,435.5 754.0,434.6 754.2,434.0 754.5,433.0 754.8,429.8 755.0,426.2 755.3,429.6 755.5,426.2 755.8,426.1 756.0,426.8 756.3,424.8 756.5,423.8 756.8,423.4 757.0,419.2 757.3,422.9 757.5,419.2 757.8,418.3 758.1,418.4 758.3,416.5 758.6,414.7 758.8,414.6 759.1,413.3 759.3,412.0 759.6,414.4 759.8,409.2 760.1,407.3 760.3,408.0 760.6,407.0 760.8,409.1 761.1,406.6 761.4,406.6 761.6,405.4 761.9,402.6 762.1,404.0 762.4,402.3 762.6,403.6 762.9,400.5 763.1,399.3 763.4,399.5 763.6,398.6 763.9,394.5 764.1,397.5 764.4,396.5 764.7,395.4 764.9,392.1 765.2,390.2 765.4,391.6 765.7,392.1 765.9,391.0 766.2,388.3 766.4,390.0 766.7,386.3 766.9,385.5 767.2,386.5 767.5,385.0 767.7,384.1 768.0,382.3 768.2,384.9 768.5,381.2 768.7,382.5 769.0,382.3 769.2,380.5 769.5,380.2 769.7,380.5 770.0,380.6 770.2,379.1 770.5,375.3 770.8,373.9 771.0,374.9 771.3,373.5 771.5,375.1 771.8,373.8 772.0,372.7 772.3,373.8 772.5,373.1 772.8,371.0 773.0,370.9 773.3,371.2 773.5,368.6 773.8,368.8 774.1,366.5 774.3,367.3 774.6,367.0 774.8,365.9 775.1,365.6 775.3,365.7 775.6,364.7 775.8,362.5 776.1,362.0 776.3,360.5 776.6,363.8 776.8,361.4 777.1,360.8 777.4,359.4 777.6,359.5 777.9,358.9 778.1,356.6 778.4,356.7 778.6,357.8 778.9,353.9 779.1,353.6 779.4,355.0 779.6,352.5 779.9,353.9 780.1,350.8 780.4,351.8 780.7,351.9 780.9,350.7 781.2,350.5 781.4,348.5 781.7,347.8 781.9,347.3 782.2,347.4 782.4,350.8 782.7,345.2 782.9,347.1 783.2,343.6 783.5,341.8 783.7,342.2 784.0,342.4 784.2,341.4 784.5,340.7 784.7,340.5 785.0,339.9 785.2,339.7 785.5,336.2 785.7,337.1 786.0,335.2 786.2,336.0 786.5,334.9 786.8,334.5 787.0,333.0 787.3,331.8 787.5,331.9 787.8,332.4 788.0,331.8 788.3,328.0 788.5,329.8 788.8,329.1 789.0,326.2 789.3,326.0 789.5,326.1 789.8,326.6 790.1,322.4 790.3,324.3 790.6,323.4 790.8,323.7 791.1,324.6 791.3,323.8 791.6,320.9 791.8,320.2 792.1,320.3 792.3,320.8 792.6,320.5 792.8,318.4 793.1,319.2 793.4,315.4 793.6,314.4 793.9,311.5 794.1,313.4 794.4,314.6 794.6,314.3 794.9,317.1 795.1,312.6 795.4,311.4 795.6,309.1 795.9,308.9 796.2,308.2 796.4,308.1 796.7,306.8 796.9,305.1 797.2,307.8 797.4,306.4 797.7,307.0 797.9,302.4 798.2,302.2 798.4,302.4 798.7,304.4 798.9,302.0 799.2,301.9 799.5,300.9 799.7,300.7 800.0,299.2 800.2,299.9 800.5,297.6 800.7,297.9 801.0,298.1 801.2,297.4 801.5,297.3 801.7,295.1 802.0,296.1 802.2,294.8 802.5,295.3 802.8,296.4 803.0,292.5 803.3,294.8 803.5,291.9 803.8,291.7 804.0,294.2 804.3,292.7 804.5,291.6 804.8,291.5 805.0,291.6 805.3,288.4 805.5,289.3 805.8,288.0 806.1,288.7 806.3,287.2 806.6,288.3 806.8,286.8 807.1,285.5 807.3,285.8 807.6,286.2 807.8,286.6 808.1,284.4 808.3,283.7 808.6,284.2 808.8,284.5 809.1,282.1 809.4,278.8 809.6,282.6 809.9,281.2 810.1,280.7 810.4,284.9 810.6,280.3 810.9,281.2 811.1,277.5 811.4,279.7 811.6,280.2 811.9,278.9 812.2,277.9 812.4,278.8 812.7,277.6 812.9,279.4 813.2,277.1 813.4,275.1 813.7,272.7 813.9,274.5 814.2,275.0 814.4,273.1 814.7,273.1 814.9,271.6 815.2,272.4 815.5,274.2 815.7,273.3 816.0,273.1 816.2,272.6 816.5,272.6 816.7,274.1 817.0,276.3 817.2,273.5 817.5,275.7 817.7,271.7 818.0,271.6 818.2,274.5 818.5,269.9 818.8,269.4 819.0,270.6 819.3,267.5 819.5,267.0 819.8,272.6 820.0,268.2 820.3,269.1 820.5,269.0 820.8,267.9 821.0,270.9 821.3,270.5 821.5,270.8 821.8,270.6 822.1,269.2 822.3,271.7 822.6,270.8 822.8,267.4 823.1,268.6 823.3,267.5 823.6,272.0 823.8,269.6 824.1,269.1 824.3,267.8 824.6,268.9 824.8,265.7 825.1,267.6 825.4,267.3 825.6,267.2 825.9,265.7 826.1,268.1 826.4,264.6 826.6,265.9 826.9,266.5 827.1,266.6 827.4,265.5 827.6,264.4 827.9,264.4 828.2,265.6 828.4,264.4 828.7,266.0 828.9,263.4 829.2,266.1 829.4,270.4 829.7,263.0 829.9,265.6 830.2,268.2 830.4,266.1 830.7,267.5 830.9,261.0 831.2,264.4 831.5,268.8 831.7,264.2 832.0,266.2 832.2,261.1 832.5,267.5 832.7,270.1 833.0,265.0 833.2,265.9 833.5,266.0 833.7,269.8 834.0,264.2 834.2,261.4 834.5,269.2 834.8,262.5 835.0,266.3 835.3,259.9 835.5,264.1 835.8,265.4 836.0,262.6 836.3,263.9 836.5,266.3 836.8,263.5 837.0,266.1 837.3,268.9 837.5,260.6 837.8,265.8 838.1,266.3 838.3,264.3 838.6,268.4 838.8,268.0 839.1,266.1 839.3,266.2 839.6,264.9 839.8,262.6 840.1,266.1 840.3,264.0 840.6,263.8 840.8,267.5 841.1,264.7 841.4,267.3 841.6,263.0 841.9,264.3 842.1,265.3 842.4,268.3 842.6,265.2 842.9,267.2 843.1,264.1 843.4,266.0 843.6,267.5 843.9,263.9 844.2,264.4 844.4,267.3 844.7,263.6 844.9,266.8 845.2,266.9 845.4,266.0 845.7,267.9 845.9,267.3 846.2,266.8 846.4,263.2 846.7,263.3 846.9,267.2 847.2,263.2 847.5,266.8 847.7,266.0 848.0,265.0 848.2,266.3 848.5,261.8 848.7,266.5 849.0,269.6 849.2,264.3 849.5,268.0 849.7,267.8 850.0,273.5 850.2,265.3 850.5,265.8 850.8,265.9 851.0,265.7 851.3,264.4 851.5,268.0 851.8,266.2 852.0,269.7 852.3,269.1 852.5,266.5 852.8,268.0 853.0,271.5 853.3,268.4 853.5,269.6 853.8,271.0 854.1,268.8 854.3,270.5 854.6,272.9 854.8,272.2 855.1,267.0 855.3,273.3 855.6,270.3 855.8,269.8 856.1,270.0 856.3,273.6 856.6,272.2 856.9,271.6 857.1,270.6 857.4,273.4 857.6,274.6 857.9,271.0 858.1,271.0 858.4,272.5 858.6,274.5 858.9,273.0 859.1,273.7 859.4,272.7 859.6,276.7 859.9,274.5 860.2,275.3 860.4,277.3 860.7,275.2 860.9,275.9 861.2,276.9 861.4,275.8 861.7,279.2 861.9,277.2 862.2,276.7 862.4,277.3 862.7,276.3 862.9,280.4 863.2,281.2 863.5,278.8 863.7,278.8 864.0,276.5 864.2,279.3 864.5,282.0 864.7,279.8 865.0,282.8 865.2,284.2 865.5,278.2 865.7,282.1 866.0,281.9 866.2,282.6 866.5,281.0 866.8,283.8 867.0,282.8 867.3,286.7 867.5,287.7 867.8,283.9 868.0,284.3 868.3,286.2 868.5,287.1 868.8,287.7 869.0,289.4 869.3,286.5 869.5,288.3 869.8,289.0 870.1,289.6 870.3,289.1 870.6,290.3 870.8,290.4 871.1,293.7 871.3,291.7 871.6,289.7 871.8,294.1 872.1,294.0 872.3,293.0 872.6,293.3 872.9,294.3 873.1,298.0 873.4,295.3 873.6,298.2 873.9,298.1 874.1,296.6 874.4,298.3 874.6,297.1 874.9,294.3 875.1,298.2 875.4,298.8 875.6,301.6 875.9,301.7 876.2,302.8 876.4,302.6 876.7,303.9 876.9,303.9 877.2,303.8 877.4,305.4 877.7,306.6 877.9,307.1 878.2,305.1 878.4,306.3 878.7,305.6 878.9,306.2 879.2,308.7 879.5,307.9 879.7,311.4 880.0,306.9 880.2,309.0 880.5,311.5 880.7,313.4 881.0,311.9 881.2,315.6 881.5,314.7 881.7,313.2 882.0,314.7 882.2,316.1 882.5,314.8 882.8,318.0 883.0,316.8 883.3,318.4 883.5,319.5 883.8,318.4 884.0,320.9 884.3,317.7 884.5,321.6 884.8,318.8 885.0,323.5 885.3,321.8 885.5,324.8 885.8,325.7 886.1,324.3 886.3,324.3 886.6,327.5 886.8,324.9 887.1,328.2 887.3,327.6 887.6,327.9 887.8,328.3 888.1,332.1 888.3,328.2 888.6,330.3 888.9,332.3 889.1,333.7 889.4,335.3 889.6,335.6 889.9,333.7 890.1,335.6 890.4,337.3 890.6,337.1 890.9,335.0 891.1,338.2 891.4,339.1 891.6,337.2 891.9,339.0 892.2,340.1 892.4,341.6 892.7,343.5 892.9,343.6 893.2,343.2 893.4,343.5 893.7,343.3 893.9,343.7 894.2,344.7 894.4,345.3 894.7,347.6 894.9,349.7 895.2,348.1 895.5,349.3 895.7,349.4 896.0,349.5 896.2,351.4 896.5,351.8 896.7,351.0 897.0,351.2 897.2,352.8 897.5,351.9 897.7,353.4 898.0,355.1 898.2,354.3 898.5,352.5 898.8,356.5 899.0,354.6 899.3,355.0 899.5,355.4 899.8,359.1 900.0,356.1 900.3,359.2 900.5,360.3 900.8,361.0 901.0,360.5 901.3,361.9 901.5,362.9 901.8,361.7 902.1,365.0 902.3,366.1 902.6,364.4 902.8,365.3 903.1,365.5 903.3,369.1 903.6,367.1 903.8,368.6 904.1,367.8 904.3,372.3 904.6,371.2 904.9,372.6 905.1,375.1 905.4,374.8 905.6,373.2 905.9,376.0 906.1,377.2 906.4,375.9 906.6,376.5 906.9,377.3 907.1,380.3 907.4,380.2 907.6,379.6 907.9,382.5 908.2,383.4 908.4,382.2 908.7,382.1 908.9,386.3 909.2,388.9 909.4,388.2 909.7,388.5 909.9,388.2 910.2,388.0 910.4,389.7 910.7,391.2 910.9,390.9 911.2,393.2 911.5,392.8 911.7,394.4 912.0,391.1 912.2,394.2 912.5,397.1 912.7,398.2 913.0,398.3 913.2,400.7 913.5,400.4 913.7,401.2 914.0,400.1 914.2,402.5 914.5,403.8 914.8,405.4 915.0,406.0 915.3,405.5 915.5,406.5 915.8,405.7 916.0,408.7 916.3,407.4 916.5,409.3 916.8,410.4 917.0,413.8 917.3,413.7 917.6,412.0 917.8,412.0 918.1,414.3 918.3,414.4 918.6,416.7 918.8,417.5 919.1,418.7 919.3,417.5 919.6,419.1 919.8,420.6 920.1,421.6 920.3,421.3 920.6,422.5 920.9,424.8 921.1,422.5 921.4,425.2 921.6,426.4 921.9,425.4 922.1,426.9 922.4,429.1 922.6,429.2 922.9,432.1 923.1,432.4 923.4,435.3 923.6,431.9 923.9,436.6 924.2,434.3 924.4,437.0 924.7,438.1 924.9,438.0 925.2,438.3 925.4,438.7 925.7,438.2 925.9,440.8 926.2,441.0 926.4,443.6 926.7,442.8 926.9,444.3 927.2,445.9 927.5,446.3 927.7,447.1 928.0,447.6 928.2,448.2 928.5,450.1 928.7,451.3 929.0,450.3 929.2,454.1 929.5,453.7 929.7,451.9 930.0,457.9 930.2,456.3 930.5,455.5 930.8,459.3 931.0,454.9 931.3,462.2 931.5,458.1 931.8,458.8 932.0,460.5 932.3,462.8 932.5,462.9 932.8,465.4 933.0,464.2 933.3,467.4 933.6,467.3 933.8,466.6 934.1,470.1 934.3,470.1 934.6,470.3 934.8,473.0 935.1,470.8 935.3,472.7 935.6,475.8 935.8,474.9 936.1,476.7 936.3,477.4 936.6,477.3 936.9,479.2 937.1,478.0 937.4,480.9 937.6,479.7 937.9,481.8 938.1,481.6 938.4,484.2 938.6,485.0 938.9,486.7 939.1,485.4 939.4,485.8 939.6,485.3 939.9,487.2 940.2,489.4 940.4,490.8 940.7,491.0 940.9,492.4 941.2,491.5 941.4,493.0 941.7,496.1 941.9,496.8 942.2,495.2 942.4,497.4 942.7,498.9 942.9,498.1 943.2,500.9 943.5,501.7 943.7,502.8 944.0,505.5 944.2,502.9 944.5,506.3 944.7,506.4 945.0,507.4 945.2,506.5 945.5,508.3 945.7,509.0 946.0,512.0 946.2,510.8 946.5,513.4 946.8,512.0 947.0,512.8 947.3,514.1 947.5,512.4 947.8,515.1 948.0,515.8 948.3,517.2 948.5,518.5 948.8,517.9 949.0,518.5 949.3,522.3 949.6,520.2 949.8,521.7 950.1,522.0 950.3,523.5 950.6,526.4 950.8,527.2 951.1,524.3 951.3,527.1 951.6,530.1 951.8,528.7 952.1,530.5 952.3,533.2 952.6,534.6 952.9,534.5 953.1,533.1 953.4,534.3 953.6,535.3 953.9,535.5 954.1,536.0 954.4,540.2 954.6,538.8 954.9,540.3 955.1,541.7 955.4,541.7 955.6,542.0 955.9,543.1 956.2,545.4 956.4,545.1 956.7,542.9 956.9,547.5 957.2,549.2 957.4,547.6 957.7,548.1 957.9,549.2 958.2,552.0 958.4,550.3 958.7,553.4 958.9,554.8 959.2,555.1 959.5,555.4 959.7,555.4 960.0,556.4 960.2,558.1 960.5,557.9 960.7,559.9 961.0,559.9 961.2,563.6 961.5,564.8 961.7,562.9 962.0,566.5 962.2,566.2 962.5,566.9 962.8,568.3 963.0,569.3 963.3,568.0 963.5,573.8 963.8,570.6 964.0,569.9 964.3,573.6 964.5,574.6 964.8,574.7 965.0,574.3 965.3,578.9 965.6,578.4 965.8,579.6 966.1,579.7 966.3,581.1 966.6,581.5 966.8,583.8 967.1,584.3 967.3,586.2 967.6,587.2 967.8,587.7 968.1,588.7 968.3,591.0 968.6,588.8 968.9,591.9 969.1,594.4 969.4,592.5 969.6,595.7 969.9,595.2 970.1,596.8 970.4,597.4 970.6,598.5 970.9,600.3 971.1,600.5 971.4,599.0 971.6,605.1 971.9,603.3 972.2,603.8 972.4,606.6 972.7,607.9 972.9,604.6 973.2,608.6 973.4,606.6 973.7,609.5 973.9,611.0 974.2,611.5 974.4,612.3 974.7,612.6 974.9,614.5 975.2,615.8 975.5,616.7 975.7,616.2 976.0,617.8 976.2,621.0 976.5,621.4 976.7,621.1 977.0,623.2 977.2,623.8 977.5,625.4 977.7,625.4 978.0,625.4 978.3,625.6 978.5,627.6 978.8,625.9 979.0,629.4 979.3,626.2 979.5,629.7 979.8,631.2 980.0,633.2 980.3,636.9 980.5,634.4 980.8,634.8 981.0,633.4 981.3,638.3 981.6,635.0 981.8,638.5 982.1,638.1 982.3,643.0 982.6,640.4 982.8,641.8 983.1,641.4 983.3,642.9 983.6,645.3 983.8,643.5 984.1,644.6 984.3,645.5 984.6,645.7 984.9,646.4 985.1,648.6 985.4,651.1 985.6,651.9 985.9,649.3 986.1,650.9 986.4,652.4 986.6,653.9 986.9,654.1 987.1,654.8 987.4,656.1 987.6,657.3 987.9,654.5 988.2,657.7 988.4,659.5 988.7,661.2 988.9,661.2 989.2,660.2 989.4,660.9 989.7,662.9 989.9,663.3 990.2,664.6 990.4,666.3 990.7,664.1 990.9,666.1 991.2,664.2 991.5,669.0 991.7,669.0 992.0,668.5 992.2,670.7 992.5,673.0 992.7,673.2 993.0,672.7 993.2,673.2 993.5,674.5 993.7,674.0 994.0,674.8 994.3,676.5 994.5,677.7 994.8,678.8 995.0,678.6 995.3,679.0 995.5,680.8 995.8,681.2 996.0,682.9 996.3,685.1 996.5,685.4 996.8,684.1 997.0,685.3 997.3,684.7 997.6,687.5 997.8,687.3 998.1,687.7 998.3,689.0 998.6,691.8 998.8,692.2 999.1,692.7 999.3,694.9 999.6,694.0 999.8,694.2 1000.1,696.9 1000.3,694.8 1000.6,698.5 1000.9,699.3 1001.1,700.3 1001.4,701.8 1001.6,701.4 1001.9,702.9 1002.1,701.9 1002.4,704.2 1002.6,705.3 1002.9,707.2 1003.1,709.7 1003.4,709.1 1003.6,711.1 1003.9,710.0 1004.2,712.2 1004.4,711.2 1004.7,713.3 1004.9,714.3 1005.2,716.0 1005.4,717.1 1005.7,717.7 1005.9,718.4 1006.2,721.5 1006.4,721.1 1006.7,719.6 1006.9,723.9 1007.2,725.1 1007.5,726.7 1007.7,728.6 1008.0,726.4 1008.2,728.8 1008.5,729.5 1008.7,728.7 1009.0,728.9 1009.2,733.9 1009.5,732.6 1009.7,734.1 1010.0,735.3 1010.3,736.2 1010.5,737.7 1010.8,736.7 1011.0,738.8 1011.3,740.0 1011.5,739.8 1011.8,741.1 1012.0,742.5 1012.3,743.5 1012.5,742.6 1012.8,745.1 1013.0,746.7 1013.3,748.5 1013.6,748.8 1013.8,750.5 1014.1,750.0 1014.3,750.7 1014.6,754.4 1014.8,752.8 1015.1,752.9 1015.3,754.3 1015.6,756.6 1015.8,754.7 1016.1,758.0 1016.3,759.5 1016.6,760.1 1016.9,759.7 1017.1,759.3 1017.4,759.9 1017.6,762.0 1017.9,764.6 1018.1,764.8 1018.4,765.9 1018.6,765.9 1018.9,768.7 1019.1,767.2 1019.4,767.4 1019.6,769.2 1019.9,769.3 1020.2,771.9 1020.4,773.3 1020.7,773.1 1020.9,771.7 1021.2,772.6 1021.4,775.3 1021.7,774.0 1021.9,776.7 1022.2,775.2 1022.4,777.3 1022.7,779.2 1022.9,778.4 1023.2,781.2 1023.5,782.1 1023.7,783.5 1024.0,782.1 1024.2,783.3 1024.5,784.0 1024.7,785.2 1025.0,783.6 1025.2,786.7 1025.5,787.8 1025.7,786.0 1026.0,786.5 1026.3,788.5 1026.5,791.9 1026.8,791.2 1027.0,790.3 1027.3,791.8 1027.5,790.5 1027.8,794.9 1028.0,793.0 1028.3,795.4 1028.5,793.6 1028.8,796.0 1029.0,795.3 1029.3,798.1 1029.6,799.8 1029.8,800.1 1030.1,800.1 1030.3,801.3 1030.6,799.1 1030.8,799.6 1031.1,801.7 1031.3,804.1 1031.6,803.6 1031.8,805.0 1032.1,802.9 1032.3,805.0 1032.6,805.5 1032.9,807.3 1033.1,810.1 1033.4,809.1 1033.6,810.2 1033.9,809.0 1034.1,810.0 1034.4,811.9 1034.6,812.0 1034.9,810.2 1035.1,814.2 1035.4,814.8 1035.6,814.6 1035.9,815.9 1036.2,816.2 1036.4,815.6 1036.7,814.7 1036.9,820.0 1037.2,818.3 1037.4,818.9 1037.7,819.7 1037.9,820.5 1038.2,821.3 1038.4,820.2 1038.7,822.7 1039.0,822.9 1039.2,823.4 1039.5,823.9 1039.7,824.9 1040.0,824.0 1040.2,826.0 1040.5,826.4 1040.7,827.3 1041.0,829.2 1041.2,829.6 1041.5,830.5 1041.7,829.5 1042.0,831.3 1042.3,832.4 1042.5,831.4 1042.8,831.6 1043.0,835.3 1043.3,831.4 1043.5,834.3 1043.8,835.1 1044.0,834.2 1044.3,836.2 1044.5,837.8 1044.8,834.7 1045.0,839.7 1045.3,839.1 1045.6,838.4 1045.8,841.7 1046.1,841.0 1046.3,841.0 1046.6,838.9 1046.8,844.0 1047.1,843.5 1047.3,843.2 1047.6,844.6 1047.8,847.0 1048.1,845.4 1048.3,846.4 1048.6,846.6 1048.9,846.2 1049.1,846.9 1049.4,848.3 1049.6,849.1 1049.9,851.5 1050.1,850.8 1050.4,850.9 1050.6,852.3 1050.9,852.2 1051.1,854.0 1051.4,851.3 1051.6,851.1 1051.9,855.1 1052.2,854.6 1052.4,856.0 1052.7,854.5 1052.9,856.1 1053.2,857.2 1053.4,858.1 1053.7,858.1 1053.9,860.2 1054.2,858.3 1054.4,860.8 1054.7,859.6 1055.0,860.7 1055.2,859.9 1055.5,861.9 1055.7,861.0 1056.0,864.2 1056.2,862.5 1056.5,864.2 1056.7,864.1 1057.0,864.7 1057.2,864.0 1057.5,868.7 1057.7,865.8 1058.0,868.9 1058.3,865.5 1058.5,870.5 1058.8,869.6 1059.0,871.1 1059.3,866.8 1059.5,871.5 1059.8,869.9 1060.0,871.3 1060.3,873.7 1060.5,872.0 1060.8,871.1 1061.0,872.8 1061.3,871.6 1061.6,873.9 1061.8,873.8 1062.1,874.9 1062.3,874.3 1062.6,872.5 1062.8,875.2 1063.1,875.9 1063.3,877.6 1063.6,878.2 1063.8,875.3 1064.1,879.6 1064.3,879.7 1064.6,878.9 1064.9,879.8 1065.1,876.6 1065.4,883.5 1065.6,879.8 1065.9,879.6 1066.1,882.8 1066.4,882.5 1066.6,881.2 1066.9,879.7 1067.1,884.1 1067.4,885.5 1067.6,881.9 1067.9,881.4 1068.2,884.7 1068.4,888.0 1068.7,882.6 1068.9,885.5 1069.2,883.8 1069.4,886.0 1069.7,886.9 1069.9,887.4 1070.2,884.6 1070.4,885.0 1070.7,891.2 1071.0,889.6 1071.2,885.6 1071.5,889.5 1071.7,891.5 1072.0,889.6 1072.2,890.2 1072.5,890.5 1072.7,891.5 1073.0,891.6 1073.2,892.1 1073.5,891.1 1073.7,893.4 1074.0,892.8 1074.3,892.9 1074.5,890.8 1074.8,892.6 1075.0,893.8 1075.3,893.0 1075.5,893.5 1075.8,892.6 1076.0,893.9 1076.3,891.9 1076.5,892.9 1076.8,895.6 1077.0,896.5 1077.3,894.4 1077.6,895.3 1077.8,896.6 1078.1,899.3 1078.3,900.2 1078.6,896.5 1078.8,895.9 1079.1,896.1 1079.3,900.1 1079.6,896.1 1079.8,899.2 1080.1,897.7 1080.3,897.8 1080.6,900.4 1080.9,900.2 1081.1,903.3 1081.4,901.2 1081.6,903.1 1081.9,898.8 1082.1,899.8 1082.4,898.2 1082.6,899.5 1082.9,901.7 1083.1,899.8 1083.4,901.5 1083.6,899.6 1083.9,900.4 1084.2,903.2 1084.4,901.3 1084.7,901.3 1084.9,902.2 1085.2,899.8 1085.4,898.3 1085.7,902.6 1085.9,902.7 1086.2,906.7 1086.4,902.4 1086.7,903.1 1087.0,906.8 1087.2,901.8 1087.5,901.2 1087.7,904.0 1088.0,903.3 1088.2,904.6 1088.5,901.0 1088.7,905.8 1089.0,903.3 1089.2,898.6 1089.5,902.6 1089.7,901.8 1090.0,903.1 1090.3,905.4 1090.5,903.0 1090.8,902.1 1091.0,905.2 1091.3,902.3 1091.5,900.4 1091.8,900.9 1092.0,906.7 1092.3,905.5 1092.5,906.9 1092.8,901.2 1093.0,902.3 1093.3,902.1 1093.6,905.7 1093.8,906.4 1094.1,903.7 1094.3,903.7 1094.6,905.8 1094.8,903.7 1095.1,902.6 1095.3,903.6 1095.6,906.3 1095.8,908.7 1096.1,904.6 1096.3,903.7 1096.6,904.6 1096.9,904.9 1097.1,905.5 1097.4,902.4 1097.6,904.0 1097.9,903.5 1098.1,905.8 1098.4,905.0 1098.6,903.2 1098.9,905.6 1099.1,906.0 1099.4,903.9 1099.7,900.5 1099.9,902.5 1100.2,899.6 1100.4,902.8 1100.7,903.1 1100.9,905.2 1101.2,903.4 1101.4,899.0 1101.7,901.2 1101.9,900.2 1102.2,900.1 1102.4,901.5 1102.7,901.8 1103.0,901.0 1103.2,899.7 1103.5,900.0 1103.7,899.8 1104.0,900.4 1104.2,902.1 1104.5,901.0 1104.7,902.3 1105.0,898.2 1105.2,904.4 1105.5,900.5 1105.7,895.0 1106.0,900.5 1106.3,902.1 1106.5,899.7 1106.8,896.9 1107.0,899.8 1107.3,898.1 1107.5,899.0 1107.8,899.7 1108.0,892.7 1108.3,898.5 1108.5,899.5 1108.8,899.2 1109.0,897.4 1109.3,897.1 1109.6,896.2 1109.8,897.1 1110.1,899.7 1110.3,896.0 1110.6,897.2 1110.8,896.8 1111.1,898.6 1111.3,896.7 1111.6,896.7 1111.8,895.2 1112.1,897.3 1112.3,894.4 1112.6,894.0 1112.9,895.8 1113.1,894.6 1113.4,894.7 1113.6,891.5 1113.9,896.9 1114.1,893.0 1114.4,894.9 1114.6,892.6 1114.9,890.2 1115.1,892.3 1115.4,890.7 1115.7,892.0 1115.9,887.2 1116.2,888.6 1116.4,888.0 1116.7,891.6 1116.9,891.0 1117.2,887.2 1117.4,889.0 1117.7,888.8 1117.9,887.5 1118.2,889.8 1118.4,886.2 1118.7,887.1 1119.0,886.1 1119.2,887.6 1119.5,885.4 1119.7,886.9 1120.0,884.0 1120.2,883.4 1120.5,883.3 1120.7,883.5 1121.0,882.9 1121.2,887.4 1121.5,881.7 1121.7,882.9 1122.0,881.9 1122.3,882.0 1122.5,883.1 1122.8,881.4 1123.0,879.1 1123.3,877.5 1123.5,880.0 1123.8,879.9 1124.0,876.0 1124.3,878.8 1124.5,874.0 1124.8,876.4 1125.0,877.2 1125.3,874.0 1125.6,872.4 1125.8,876.3 1126.1,871.5 1126.3,873.5 1126.6,870.4 1126.8,872.5 1127.1,873.7 1127.3,870.2 1127.6,869.1 1127.8,866.9 1128.1,866.9 1128.3,867.8 1128.6,868.6 1128.9,868.5 1129.1,867.7 1129.4,867.9 1129.6,866.6 1129.9,869.3 1130.1,865.0 1130.4,864.7 1130.6,860.6 1130.9,862.6 1131.1,863.8 1131.4,861.8 1131.7,863.8 1131.9,862.4 1132.2,863.6 1132.4,858.5 1132.7,859.2 1132.9,861.1 1133.2,859.0 1133.4,857.0 1133.7,857.1 1133.9,856.7 1134.2,857.9 1134.4,857.0 1134.7,855.4 1135.0,853.7 1135.2,855.5 1135.5,855.3 1135.7,851.6 1136.0,853.9 1136.2,850.5 1136.5,851.1 1136.7,849.7 1137.0,847.9 1137.2,848.7 1137.5,848.0 1137.7,849.8 1138.0,848.9 1138.3,846.5 1138.5,844.7 1138.8,844.3 1139.0,842.5 1139.3,844.6 1139.5,844.2 1139.8,842.5 1140.0,843.3 1140.3,842.8 1140.5,843.6 1140.8,840.2 1141.0,842.4 1141.3,839.7 1141.6,841.7 1141.8,837.8 1142.1,840.1 1142.3,837.0 1142.6,839.7 1142.8,837.6 1143.1,834.8 1143.3,836.9 1143.6,835.2 1143.8,835.4 1144.1,837.3 1144.3,833.2 1144.6,832.5 1144.9,833.9 1145.1,831.1 1145.4,832.3 1145.6,832.0 1145.9,830.0 1146.1,830.3 1146.4,825.8 1146.6,830.3 1146.9,826.6 1147.1,825.6 1147.4,829.0 1147.7,828.0 1147.9,824.3 1148.2,825.1 1148.4,823.3 1148.7,821.6 1148.9,822.9 1149.2,823.2 1149.4,824.7 1149.7,820.1 1149.9,821.0 1150.2,818.6 1150.4,818.1 1150.7,819.6 1151.0,814.7 1151.2,814.9 1151.5,814.6 1151.7,816.6 1152.0,815.0 1152.2,814.5 1152.5,813.7 1152.7,814.0 1153.0,811.3 1153.2,811.0 1153.5,810.1 1153.7,810.7 1154.0,807.6 1154.3,808.5 1154.5,811.7 1154.8,808.3 1155.0,806.9 1155.3,804.9 1155.5,806.0 1155.8,805.4 1156.0,805.3 1156.3,803.0 1156.5,803.9 1156.8,803.5 1157.0,803.1 1157.3,800.7 1157.6,801.6 1157.8,802.6 1158.1,798.9 1158.3,800.1 1158.6,798.0 1158.8,797.4 1159.1,795.7 1159.3,795.3 1159.6,796.9 1159.8,795.8 1160.1,796.7 1160.4,792.2 1160.6,793.2 1160.9,791.4 1161.1,793.1 1161.4,794.8 1161.6,789.5 1161.9,790.8 1162.1,790.1 1162.4,789.6 1162.6,788.2 1162.9,787.7 1163.1,789.9 1163.4,785.7 1163.7,787.2 1163.9,786.4 1164.2,782.9 1164.4,783.3 1164.7,784.3 1164.9,785.6 1165.2,782.3 1165.4,781.1 1165.7,781.3 1165.9,782.1 1166.2,780.8 1166.4,780.7 1166.7,778.0 1167.0,776.5 1167.2,775.5 1167.5,777.0 1167.7,775.0 1168.0,773.9 1168.2,774.5 1168.5,773.3 1168.7,769.6 1169.0,771.4 1169.2,769.8 1169.5,770.7 1169.7,769.4 1170.0,770.9 1170.3,768.0 1170.5,765.7 1170.8,763.8 1171.0,764.2 1171.3,764.1 1171.5,764.2 1171.8,764.3 1172.0,762.9 1172.3,761.2 1172.5,762.2 1172.8,759.3 1173.0,761.1 1173.3,761.4 1173.6,759.7 1173.8,759.8 1174.1,758.7 1174.3,754.8 1174.6,755.8 1174.8,754.6 1175.1,752.7 1175.3,751.8 1175.6,753.3 1175.8,750.2 1176.1,750.6 1176.4,750.3 1176.6,749.0 1176.9,750.6 1177.1,749.0 1177.4,747.4 1177.6,745.7 1177.9,746.2 1178.1,745.1 1178.4,742.9 1178.6,741.6 1178.9,741.6 1179.1,740.2 1179.4,741.4 1179.7,740.4 1179.9,738.8 1180.2,738.6 1180.4,737.9 1180.7,734.3 1180.9,735.6 1181.2,735.5 1181.4,732.8 1181.7,730.1 1181.9,731.2 1182.2,728.8 1182.4,729.7 1182.7,728.8 1183.0,727.9 1183.2,726.2 1183.5,722.7 1183.7,725.2 1184.0,720.7 1184.2,722.7 1184.5,720.7 1184.7,718.3 1185.0,717.4 1185.2,716.6 1185.5,717.8 1185.7,714.3 1186.0,714.8 1186.3,709.4 1186.5,711.6 1186.8,710.1 1187.0,710.6 1187.3,708.7 1187.5,708.6 1187.8,704.9 1188.0,705.3 1188.3,703.3 1188.5,703.8 1188.8,702.6 1189.0,699.4 1189.3,701.2 1189.6,701.3 1189.8,697.7 1190.1,698.7 1190.3,696.9 1190.6,694.4 1190.8,695.6 1191.1,692.6 1191.3,693.6 1191.6,690.1 1191.8,689.4 1192.1,690.7 1192.4,689.5 1192.6,689.4 1192.9,687.2 1193.1,685.1 1193.4,687.4 1193.6,683.7 1193.9,685.5 1194.1,684.1 1194.4,684.4 1194.6,678.7 1194.9,680.4 1195.1,679.3 1195.4,679.6 1195.7,676.6 1195.9,679.7 1196.2,676.2 1196.4,672.7 1196.7,675.0 1196.9,673.6 1197.2,672.0 1197.4,673.0 1197.7,671.1 1197.9,669.1 1198.2,669.2 1198.4,668.2 1198.7,668.2 1199.0,666.6 1199.2,666.1 1199.5,663.5 1199.7,663.6 1200.0,664.0 1200.2,665.9 1200.5,661.2 1200.7,660.3 1201.0,661.6 1201.2,662.1 1201.5,660.2 1201.7,656.8 1202.0,658.5 1202.3,656.9 1202.5,655.3 1202.8,653.2 1203.0,654.0 1203.3,653.3 1203.5,653.1 1203.8,649.6 1204.0,649.5 1204.3,650.1 1204.5,651.0 1204.8,649.4 1205.0,647.0 1205.3,647.8 1205.6,645.0 1205.8,644.9 1206.1,644.1 1206.3,642.9 1206.6,642.3 1206.8,643.1 1207.1,641.7 1207.3,637.5 1207.6,641.2 1207.8,639.5 1208.1,636.8 1208.4,637.5 1208.6,637.6 1208.9,637.4 1209.1,634.3 1209.4,632.9 1209.6,631.6 1209.9,632.5 1210.1,630.5 1210.4,632.3 1210.6,630.0 1210.9,630.3 1211.1,628.4 1211.4,626.9 1211.7,625.8 1211.9,627.6 1212.2,624.0 1212.4,625.5 1212.7,625.5 1212.9,623.6 1213.2,624.6 1213.4,621.9 1213.7,620.8 1213.9,620.7 1214.2,619.0 1214.4,619.4 1214.7,618.2 1215.0,619.3 1215.2,616.7 1215.5,617.1 1215.7,615.9 1216.0,614.7 1216.2,613.6 1216.5,615.3 1216.7,614.4 1217.0,612.1 1217.2,610.4 1217.5,609.8 1217.7,608.4 1218.0,607.1 1218.3,607.4 1218.5,607.3 1218.8,607.9 1219.0,607.1 1219.3,605.7 1219.5,604.1 1219.8,603.4 1220.0,603.0 1220.3,602.5 1220.5,600.8 1220.8,600.6 1221.1,599.8 1221.3,599.2 1221.6,599.6 1221.8,599.5 1222.1,596.9 1222.3,596.3 1222.6,596.4 1222.8,596.0 1223.1,591.9 1223.3,595.0 1223.6,593.6 1223.8,592.2 1224.1,593.2 1224.4,590.8 1224.6,587.9 1224.9,588.3 1225.1,587.9 1225.4,587.2 1225.6,587.1 1225.9,585.4 1226.1,586.3 1226.4,586.1 1226.6,584.9 1226.9,583.2 1227.1,583.7 1227.4,582.8 1227.7,587.7 1227.9,581.2 1228.2,578.7 1228.4,580.7 1228.7,584.0 1228.9,585.1 1229.2,582.6 1229.4,585.2 1229.7,581.5 1229.9,584.1 1230.2,580.8 1230.4,579.9 1230.7,587.2 1231.0,582.1 1231.2,584.2 1231.5,585.8 1231.7,584.0 1232.0,583.1 1232.2,580.3 1232.5,585.9 1232.7,580.2 1233.0,578.1 1233.2,581.1 1233.5,581.2 1233.7,582.4 1234.0,584.9 1234.3,581.2 1234.5,581.4 1234.8,580.7 1235.0,576.6 1235.3,580.6 1235.5,581.3 1235.8,578.8 1236.0,585.2 1236.3,584.7 1236.5,583.1 1236.8,583.7 1237.1,580.7 1237.3,583.0 1237.6,578.5 1237.8,579.0 1238.1,580.7 1238.3,583.2 1238.6,581.1 1238.8,580.7 1239.1,584.8 1239.3,581.7 1239.6,581.0 1239.8,582.1 1240.1,579.1 1240.4,579.9 1240.6,584.4 1240.9,582.3 1241.1,584.5 1241.4,581.4 1241.6,584.5 1241.9,580.6 1242.1,581.8 1242.4,580.5 1242.6,583.0 1242.9,585.8 1243.1,578.8 1243.4,583.0 1243.7,579.6 1243.9,581.6 1244.2,581.1 1244.4,578.5 1244.7,581.7 1244.9,579.4 1245.2,585.7 1245.4,580.5 1245.7,582.9 1245.9,582.6 1246.2,582.3 1246.4,581.5 1246.7,578.6 1247.0,586.3 1247.2,582.1 1247.5,583.8 1247.7,579.6 1248.0,583.1 1248.2,581.1 1248.5,583.0 1248.7,580.6 1249.0,579.9 1249.2,582.9 1249.5,582.0 1249.7,585.2 1250.0,581.4 1250.3,580.2 1250.5,583.3 1250.8,579.7 1251.0,586.7 1251.3,586.3 1251.5,585.3 1251.8,583.4 1252.0,582.4 1252.3,582.6 1252.5,582.6 1252.8,580.9 1253.1,583.6 1253.3,585.3 1253.6,585.3 1253.8,578.0 1254.1,587.8 1254.3,583.1 1254.6,579.6 1254.8,581.7 1255.1,584.6 1255.3,582.9 1255.6,581.0 1255.8,580.3 1256.1,584.9 1256.4,581.3 1256.6,582.5 1256.9,580.6 1257.1,580.0 1257.4,583.8 1257.6,586.2 1257.9,582.2 1258.1,579.2 1258.4,581.6 1258.6,582.7 1258.9,577.9 1259.1,585.5 1259.4,581.3 1259.7,584.6 1259.9,583.2 1260.2,583.2 1260.4,580.1 1260.7,585.5 1260.9,584.7 1261.2,587.0 1261.4,582.5 1261.7,584.6 1261.9,582.7 1262.2,586.0 1262.4,584.5 1262.7,581.4 1263.0,584.1 1263.2,582.4 1263.5,582.6 1263.7,584.6 1264.0,587.2 1264.2,581.7 1264.5,583.4 1264.7,581.6 1265.0,588.1 1265.2,587.3 1265.5,588.3 1265.7,585.5 1266.0,581.3 1266.3,582.3 1266.5,583.6 1266.8,583.2 1267.0,581.8 1267.3,584.1 1267.5,582.5 1267.8,583.0 1268.0,588.1 1268.3,584.2 1268.5,580.3 1268.8,584.1 1269.1,583.6 1269.3,584.6 1269.6,584.3 1269.8,580.8 1270.1,583.8 1270.3,585.4 1270.6,590.0 1270.8,584.5 1271.1,587.7 1271.3,587.4 1271.6,581.8 1271.8,582.1 1272.1,587.9 1272.4,581.9 1272.6,582.9 1272.9,585.7 1273.1,582.4 1273.4,587.7 1273.6,586.8 1273.9,587.4 1274.1,586.8 1274.4,582.5 1274.6,587.4 1274.9,587.0 1275.1,586.7 1275.4,584.2 1275.7,585.4 1275.9,582.9 1276.2,586.3 1276.4,587.6 1276.7,586.0 1276.9,584.8 1277.2,586.9 1277.4,584.3 1277.7,580.9 1277.9,586.2 1278.2,584.8 1278.4,581.9 1278.7,586.3 1279.0,586.7 1279.2,587.2 1279.5,583.9 1279.7,583.6 1280.0,585.1 1280.2,584.7 1280.5,582.0 1280.7,582.9 1281.0,587.8 1281.2,584.8 1281.5,584.6 1281.8,583.3 1282.0,585.3 1282.3,586.3 1282.5,585.9 1282.8,588.8 1283.0,585.1 1283.3,586.3 1283.5,584.1 1283.8,587.4 1284.0,586.1 1284.3,587.3 1284.5,587.5 1284.8,583.7 1285.1,586.3 1285.3,584.4 1285.6,587.8 1285.8,585.2 1286.1,589.1 1286.3,586.5 1286.6,586.6 1286.8,584.2 1287.1,585.1 1287.3,585.9 1287.6,583.7 1287.8,585.1 1288.1,584.4 1288.4,583.9 1288.6,585.7 1288.9,586.2 1289.1,584.8 1289.4,586.4 1289.6,584.6 1289.9,583.0 1290.1,583.5 1290.4,586.2 1290.6,588.1 1290.9,585.4 1291.1,585.6 1291.4,582.9 1291.7,586.1 1291.9,585.7 1292.2,583.6 1292.4,586.3 1292.7,585.5 1292.9,581.4 1293.2,581.9 1293.4,583.7 1293.7,584.5 1293.9,587.1 1294.2,583.8 1294.4,584.8 1294.7,584.4 1295.0,586.0 1295.2,584.9 1295.5,585.2 1295.7,584.1 1296.0,581.7 1296.2,584.0 1296.5,588.4 1296.7,586.9 1297.0,588.2 1297.2,586.5 1297.5,583.5 1297.8,583.9 1298.0,586.0 1298.3,584.1 1298.5,586.3 1298.8,587.8 1299.0,587.7 1299.3,586.5 1299.5,581.5 1299.8,587.6 1300.0,581.9 1300.3,581.8 1300.5,585.1 1300.8,584.8 1301.1,586.0 1301.3,584.8 1301.6,583.3 1301.8,584.8 1302.1,582.7 1302.3,582.3 1302.6,584.2 1302.8,584.2 1303.1,585.1 1303.3,584.3 1303.6,587.5 1303.8,584.2 1304.1,584.6 1304.4,587.0 1304.6,580.5 1304.9,587.3 1305.1,587.1 1305.4,584.7 1305.6,589.6 1305.9,587.1 1306.1,588.8 1306.4,587.6 1306.6,585.8 1306.9,584.9 1307.1,583.2 1307.4,583.9 1307.7,583.1 1307.9,584.4 1308.2,586.8 1308.4,583.3 1308.7,586.8 1308.9,587.1 1309.2,582.5 1309.4,584.1 1309.7,585.4 1309.9,584.2 1310.2,584.0 1310.4,588.9 1310.7,586.1 1311.0,588.5 1311.2,585.7 1311.5,587.4 1311.7,583.0 1312.0,584.8 1312.2,587.7 1312.5,586.0 1312.7,588.6 1313.0,585.8 1313.2,584.7 1313.5,585.3 1313.8,590.1 1314.0,586.6 1314.3,584.8 1314.5,585.2 1314.8,583.3 1315.0,588.7 1315.3,584.7 1315.5,587.2 1315.8,585.4 1316.0,584.9 1316.3,584.3 1316.5,587.1 1316.8,585.4 1317.1,588.4 1317.3,588.9 1317.6,584.6 1317.8,585.9 1318.1,589.4 1318.3,587.7 1318.6,585.8 1318.8,582.4 1319.1,583.5 1319.3,584.0 1319.6,589.7 1319.8,586.0 1320.1,584.7 1320.4,584.9 1320.6,584.9 1320.9,586.3 1321.1,581.9 1321.4,582.5 1321.6,586.0 1321.9,588.0 1322.1,581.3 1322.4,587.0 1322.6,583.2 1322.9,581.6 1323.1,587.8 1323.4,585.1 1323.7,586.5 1323.9,584.6 1324.2,584.9 1324.4,581.3 1324.7,584.3 1324.9,585.6 1325.2,583.0 1325.4,586.1 1325.7,586.3 1325.9,580.5 1326.2,587.2 1326.4,586.5 1326.7,585.3 1327.0,587.7 1327.2,590.0 1327.5,583.1 1327.7,587.0 1328.0,586.5 1328.2,586.1 1328.5,587.4 1328.7,587.6 1329.0,584.9 1329.2,579.9 1329.5,583.6 1329.8,583.5 1330.0,588.4 1330.3,585.2 1330.5,587.8 1330.8,583.5 1331.0,585.7 1331.3,585.2 1331.5,585.5 1331.8,586.6 1332.0,588.6 1332.3,584.1 1332.5,588.4 1332.8,587.9 1333.1,586.0 1333.3,586.9 1333.6,584.8 1333.8,583.2 1334.1,584.9 1334.3,585.1 1334.6,585.5 1334.8,583.7 1335.1,589.6 1335.3,584.8 1335.6,587.7 1335.8,588.4 1336.1,585.7 1336.4,586.6 1336.6,584.5 1336.9,583.4 1337.1,590.9 1337.4,585.9 1337.6,581.5 1337.9,583.9 1338.1,582.6 1338.4,585.5 1338.6,588.9 1338.9,588.2 1339.1,584.1 1339.4,583.5 1339.7,587.2 1339.9,586.1 1340.2,584.9 1340.4,589.3 1340.7,586.2 1340.9,581.8 1341.2,580.6 1341.4,585.5 1341.7,581.3 1341.9,586.4 1342.2,586.9 1342.5,590.0 1342.7,583.0 1343.0,585.9 1343.2,579.9 1343.5,584.3 1343.7,584.6 1344.0,588.9 1344.2,581.7 1344.5,585.8 1344.7,585.3 1345.0,589.8 1345.2,582.9 1345.5,582.8 1345.8,586.3 1346.0,584.8 1346.3,584.2 1346.5,582.9 1346.8,584.8 1347.0,581.3 1347.3,585.7 1347.5,586.5 1347.8,586.3 1348.0,590.9 1348.3,587.1 1348.5,583.2 1348.8,584.9 1349.1,587.3 1349.3,584.8 1349.6,590.0 1349.8,586.2 1350.1,584.5 1350.3,584.1 1350.6,587.4 1350.8,583.7 1351.1,581.7 1351.3,586.8 1351.6,584.2 1351.8,589.3 1352.1,590.2 1352.4,584.6 1352.6,585.8 1352.9,585.5 1353.1,587.2 1353.4,586.6 1353.6,584.1 1353.9,582.1 1354.1,586.4 1354.4,589.5 1354.6,583.1 1354.9,584.5 1355.1,584.4 1355.4,585.4 1355.7,580.7 1355.9,585.6 1356.2,584.7 1356.4,589.8 1356.7,587.1 1356.9,587.3 1357.2,585.8 1357.4,585.0 1357.7,587.3 1357.9,581.9 1358.2,588.0 1358.5,586.6 1358.7,585.0 1359.0,588.3 1359.2,584.3 1359.5,584.1 1359.7,586.1 1360.0,581.3 1360.2,585.3 1360.5,584.8 1360.7,587.5 1361.0,589.0 1361.2,586.7 1361.5,586.0 1361.8,586.3 1362.0,583.5 1362.3,590.4 1362.5,587.6 1362.8,589.1 1363.0,582.2 1363.3,586.3 1363.5,586.2 1363.8,587.5 1364.0,583.1 1364.3,586.0 1364.5,584.6 1364.8,589.5 1365.1,582.5 1365.3,584.2 1365.6,583.9 1365.8,582.4 1366.1,585.5 1366.3,585.5 1366.6,583.5 1366.8,584.2 1367.1,585.7 1367.3,585.1 1367.6,586.3 1367.8,583.7 1368.1,583.2 1368.4,585.3 1368.6,581.2 1368.9,588.8 1369.1,586.0 1369.4,581.7 1369.6,586.4 1369.9,589.0 1370.1,582.5 1370.4,584.4 1370.6,588.2 1370.9,583.9 1371.1,587.9 1371.4,588.6 1371.7,586.0 1371.9,586.8 1372.2,588.1 1372.4,586.6 1372.7,588.0 1372.9,585.7 1373.2,585.9 1373.4,584.2 1373.7,586.8 1373.9,588.7 1374.2,588.7 1374.5,586.3 1374.7,582.4 1375.0,583.9 1375.2,587.2 1375.5,583.7 1375.7,588.3 1376.0,583.6 1376.2,586.6 1376.5,584.1 1376.7,584.5 1377.0,586.5 1377.2,585.1 1377.5,588.2 1377.8,586.0 1378.0,583.5 1378.3,576.9 1378.5,584.3 1378.8,585.7 1379.0,588.1 1379.3,583.5 1379.5,589.5 1379.8,587.7 1380.0,585.2 1380.3,588.6 1380.5,582.7 1380.8,583.7 1381.1,587.4 1381.3,587.3 1381.6,589.0 1381.8,589.2 1382.1,585.2 1382.3,584.8 1382.6,585.4 1382.8,585.6 1383.1,587.4 1383.3,585.3 1383.6,589.4 1383.8,586.1 1384.1,582.8 1384.4,583.2 1384.6,587.1 1384.9,586.8 1385.1,583.0 1385.4,582.1 1385.6,589.3 1385.9,586.9 1386.1,585.5 1386.4,583.2 1386.6,587.7 1386.9,584.4 1387.1,586.4 1387.4,580.5 1387.7,584.8 1387.9,586.0 1388.2,586.4 1388.4,583.3 1388.7,584.1 1388.9,588.0 1389.2,585.1 1389.4,588.5 1389.7,587.2 1389.9,588.4 1390.2,588.4 1390.5,587.0 1390.7,587.7 1391.0,584.4 1391.2,583.8 1391.5,586.1 1391.7,588.0 1392.0,583.8 1392.2,590.0 1392.5,589.8 1392.7,583.9 1393.0,584.1 1393.2,583.4 1393.5,586.0 1393.8,588.3 1394.0,586.7 1394.3,584.3 1394.5,587.2 1394.8,587.1 1395.0,588.6 1395.3,588.1 1395.5,583.7 1395.8,584.5 1396.0,588.1 1396.3,588.0 1396.5,586.8 1396.8,584.4 1397.1,588.2 1397.3,585.9 1397.6,590.3 1397.8,588.3 1398.1,584.6 1398.3,583.6 1398.6,588.1 1398.8,587.3 1399.1,583.9 1399.3,586.5 1399.6,586.8 1399.8,584.5 1400.1,585.2 1400.4,583.2 1400.6,583.9 1400.9,587.0 1401.1,586.0 1401.4,585.9 1401.6,588.7 1401.9,587.9 1402.1,583.6 1402.4,589.3 1402.6,583.6 1402.9,585.1 1403.2,586.0 1403.4,584.5 1403.7,584.7 1403.9,583.1 1404.2,586.6 1404.4,586.2 1404.7,586.2 1404.9,581.5 1405.2,583.6 1405.4,587.7 1405.7,586.4 1405.9,587.2 1406.2,585.7 1406.5,585.3 1406.7,580.7 1407.0,589.8 1407.2,583.5 1407.5,584.9 1407.7,587.4 1408.0,586.1 1408.2,586.9 1408.5,585.7 1408.7,583.6 1409.0,589.1 1409.2,582.9 1409.5,586.6 1409.8,582.5 1410.0,584.9 1410.3,583.1 1410.5,584.6 1410.8,583.4 1411.0,585.7 1411.3,587.6 1411.5,584.3 1411.8,584.2 1412.0,581.2 1412.3,590.1 1412.5,586.1 1412.8,583.3 1413.1,588.3 1413.3,586.1 1413.6,580.9 1413.8,582.4 1414.1,587.4 1414.3,582.3 1414.6,582.8 1414.8,583.7 1415.1,584.6 1415.3,585.0 1415.6,587.4 1415.8,586.6 1416.1,583.9 1416.4,585.2 1416.6,581.5 1416.9,586.3 1417.1,590.9 1417.4,586.4 1417.6,585.0 1417.9,584.8 1418.1,585.5 1418.4,587.5 1418.6,582.5 1418.9,587.2 1419.2,584.3 1419.4,586.5 1419.7,588.5 1419.9,582.8 1420.2,591.4 1420.4,587.8 1420.7,584.9 1420.9,586.7 1421.2,584.2 1421.4,586.1 1421.7,586.8 1421.9,581.0 1422.2,586.2 1422.5,586.1 1422.7,588.1 1423.0,587.3 1423.2,584.3 1423.5,584.4 1423.7,585.6 1424.0,587.1 1424.2,584.1 1424.5,589.3 1424.7,586.4 1425.0,586.1 1425.2,587.4 1425.5,585.2 1425.8,587.1 1426.0,587.4 1426.3,581.7 1426.5,584.0 1426.8,583.0 1427.0,585.6 1427.3,583.6 1427.5,584.0 1427.8,583.0 1428.0,580.5 1428.3,586.2 1428.5,585.1 1428.8,585.8 1429.1,593.4 1429.3,588.7 1429.6,585.6 1429.8,584.2 1430.1,586.9 1430.3,583.1 1430.6,582.8 1430.8,586.5 1431.1,582.4 1431.3,581.7 1431.6,584.5 1431.8,587.7 1432.1,582.3 1432.4,585.9 1432.6,586.3 1432.9,585.3 1433.1,586.7 1433.4,583.2 1433.6,583.8 1433.9,582.9 1434.1,584.3 1434.4,587.4 1434.6,586.0 1434.9,583.8 1435.2,586.6 1435.4,579.4 1435.7,586.4 1435.9,587.2 1436.2,583.4 1436.4,584.4 1436.7,586.1 1436.9,586.6 1437.2,585.2 1437.4,584.3 1437.7,584.5 1437.9,586.8 1438.2,585.2 1438.5,584.3 1438.7,584.5 1439.0,593.0 1439.2,588.1 1439.5,587.9 1439.7,586.7 1440.0,585.8 1440.2,584.2 1440.5,584.9 1440.7,586.5 1441.0,586.1 1441.2,582.3 1441.5,587.5 1441.8,585.5 1442.0,582.7 1442.3,585.4 1442.5,590.6 1442.8,585.3 1443.0,587.0 1443.3,586.4 1443.5,583.9 1443.8,585.2 1444.0,586.8 1444.3,584.3 1444.5,585.3 1444.8,586.1 1445.1,585.7 1445.3,585.8 1445.6,587.1 1445.8,587.4 1446.1,586.3 1446.3,588.5 1446.6,589.2 1446.8,583.6 1447.1,587.0 1447.3,586.6 1447.6,586.8 1447.8,586.5 1448.1,586.5 1448.4,586.4 1448.6,588.2 1448.9,584.4 1449.1,588.0 1449.4,584.2 1449.6,590.6 1449.9,588.7 1450.1,584.1 1450.4,586.6 1450.6,587.7 1450.9,585.3 1451.2,588.4 1451.4,585.9 1451.7,590.8 1451.9,586.9 1452.2,587.3 1452.4,584.7 1452.7,583.9 1452.9,587.6 1453.2,582.2 1453.4,586.9 1453.7,590.1 1453.9,590.7 1454.2,582.1 1454.5,585.6 1454.7,586.8 1455.0,587.0 1455.2,587.8 1455.5,582.4 1455.7,585.5 1456.0,581.4 1456.2,585.7 1456.5,590.4 1456.7,583.4 1457.0,586.0 1457.2,585.7 1457.5,581.7 1457.8,585.7 1458.0,582.6 1458.3,585.2 1458.5,586.8 1458.8,584.0 1459.0,586.4 1459.3,582.5 1459.5,583.0 1459.8,584.8 1460.0,583.6 1460.3,583.6 1460.5,585.1 1460.8,582.7 1461.1,584.6 1461.3,582.8 1461.6,585.5 1461.8,583.3 1462.1,582.6 1462.3,584.5 1462.6,583.6 1462.8,583.5 1463.1,581.1 1463.3,583.4 1463.6,581.1 1463.9,578.9 1464.1,580.8 1464.4,584.1 1464.6,580.7 1464.9,578.8 1465.1,581.1"/>
</g>
<g shape-rendering="crispEdges">
<rect x="1190.5" y="822.5" width="268" height="162" fill="#fff" stroke="#262626" stroke-width="3"/>
<g fill="none" stroke-width="5">
<line x1="1203" y1="853.5" x2="1332" y2="853.5" stroke="#00ff00" stroke-dasharray="5 3.5"/>
<line x1="1203" y1="903.5" x2="1332" y2="903.5" stroke="#0000ff" stroke-dasharray="18 3.5 9 3.5"/>
<line x1="1203" y1="953.5" x2="1332" y2="953.5" stroke="#ff0000"/>
</g></g>
<g font-size="38.2" fill="#000">
<text x="1340.7" y="868.7">PID</text><text x="1340.7" y="918.7">SMC</text><text x="1340.7" y="968.7">RLSC</text>
</g>
<g font-size="42.5" fill="#262626">
<g text-anchor="end">
<text transform="translate(174.7,1017.1) scale(0.985,1.04)">-300</text>
<text transform="translate(174.7,880.2) scale(0.985,1.04)">-200</text>
<text transform="translate(174.7,743.4) scale(0.985,1.04)">-100</text>
<text transform="translate(174.7,606.5) scale(0.985,1.04)">0</text>
<text transform="translate(174.7,469.7) scale(0.985,1.04)">100</text>
<text transform="translate(174.7,332.8) scale(0.985,1.04)">200</text>
<text transform="translate(174.7,196.0) scale(0.985,1.04)">300</text>
<text transform="translate(174.7,59.1) scale(0.985,1.04)">400</text>
</g><g text-anchor="middle">
<text transform="translate(193.9,1060.8) scale(0.985,1.04)">0</text>
<text transform="translate(449.1,1060.8) scale(0.985,1.04)">2</text>
<text transform="translate(703.7,1060.8) scale(0.985,1.04)">4</text>
<text transform="translate(959.5,1060.8) scale(0.985,1.04)">6</text>
<text transform="translate(1214.7,1060.8) scale(0.985,1.04)">8</text>
<text transform="translate(1470.7,1060.8) scale(0.985,1.04)">10</text>
</g></g>
<g font-size="46.7" fill="#262626" text-anchor="middle">
<text transform="translate(832.8,1124.3) scale(1.015,1)">Time(s)</text>
<text transform="translate(67.2,520.6) rotate(-90) scale(1.005,1)">Moment (Nm)</text>
</g>
</svg></body></html>
